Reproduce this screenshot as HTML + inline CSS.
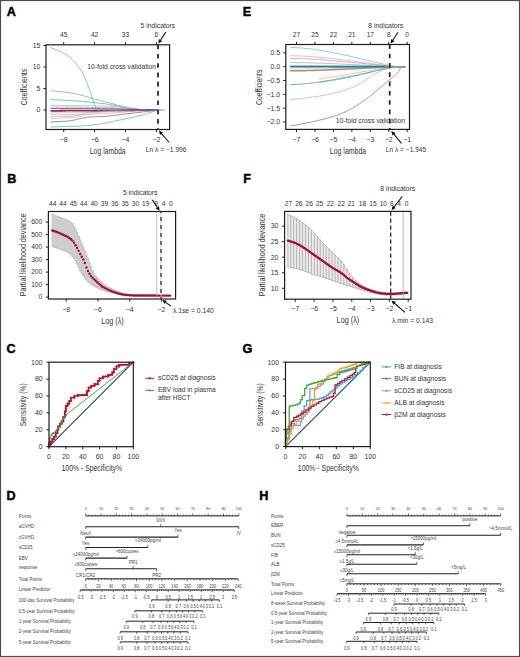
<!DOCTYPE html>
<html><head><meta charset="utf-8"><style>
html,body{margin:0;padding:0;background:#fff;}
svg{display:block;font-family:"Liberation Sans",sans-serif;}
</style></head><body>
<svg width="520" height="657" viewBox="0 0 520 657" fill="#333333">
<rect x="0" y="0" width="520" height="657" fill="#fff"/>
<text x="6.8" y="15.8" font-size="12.6" font-weight="bold" fill="#000" stroke="#000" stroke-width="0.45">A</text>
<polyline points="50.60,90.69 51.73,90.81 53.21,90.96 54.98,91.14 56.96,91.34 59.08,91.56 61.25,91.79 63.40,92.03 65.46,92.26 67.35,92.49 69.00,92.71 70.44,92.93 71.76,93.14 72.99,93.34 74.14,93.55 75.24,93.77 76.30,93.99 77.35,94.22 78.40,94.46 79.48,94.72 80.60,94.99 81.74,95.29 82.85,95.60 83.95,95.93 85.05,96.27 86.15,96.62 87.26,96.97 88.40,97.33 89.56,97.69 90.76,98.04 92.00,98.39 93.29,98.73 94.63,99.07 96.01,99.41 97.41,99.74 98.84,100.08 100.28,100.42 101.72,100.77 103.16,101.11 104.59,101.47 106.00,101.83 107.41,102.21 108.83,102.60 110.26,103.00 111.70,103.41 113.12,103.82 114.54,104.22 115.95,104.62 117.33,105.00 118.68,105.36 120.00,105.70 121.29,106.02 122.56,106.32 123.81,106.61 125.04,106.88 126.25,107.15 127.44,107.40 128.61,107.64 129.76,107.86 130.89,108.08 132.00,108.28 133.10,108.47 134.19,108.65 135.27,108.81 136.34,108.97 137.38,109.11 138.38,109.24 139.36,109.36 140.29,109.47 141.17,109.57 142.00,109.66 142.74,109.73 143.39,109.80 143.97,109.85 144.50,109.88 145.00,109.91 145.50,109.94 146.03,109.95 146.61,109.97 147.26,109.98 148.00,110.00 148.88,110.01 149.90,110.02 151.02,110.03 152.19,110.02 153.38,110.02 154.53,110.02 155.61,110.01 156.58,110.01 157.39,110.00 158.00,110.00" fill="none" stroke="#7aa8c0" stroke-width="0.8" />
<polyline points="50.60,99.59 52.41,99.69 54.75,99.81 57.54,99.95 60.66,100.11 64.01,100.29 67.49,100.48 70.99,100.67 74.41,100.88 77.65,101.10 80.60,101.31 83.38,101.54 86.16,101.79 88.92,102.05 91.64,102.32 94.30,102.59 96.88,102.87 99.36,103.16 101.72,103.44 103.94,103.71 106.00,103.98 107.87,104.24 109.56,104.51 111.10,104.78 112.52,105.05 113.84,105.32 115.09,105.58 116.31,105.84 117.51,106.09 118.73,106.33 120.00,106.56 121.29,106.78 122.56,107.00 123.81,107.21 125.04,107.42 126.25,107.62 127.44,107.81 128.61,107.99 129.76,108.17 130.89,108.34 132.00,108.50 133.10,108.65 134.19,108.79 135.27,108.93 136.34,109.05 137.38,109.17 138.38,109.29 139.36,109.39 140.29,109.49 141.17,109.58 142.00,109.66 142.74,109.73 143.39,109.78 143.97,109.83 144.50,109.87 145.00,109.90 145.50,109.93 146.03,109.95 146.61,109.97 147.26,109.98 148.00,110.00 148.88,110.01 149.90,110.02 151.02,110.03 152.19,110.02 153.38,110.02 154.53,110.02 155.61,110.01 156.58,110.01 157.39,110.00 158.00,110.00" fill="none" stroke="#4db3b3" stroke-width="0.8" />
<polyline points="50.60,105.31 54.06,105.36 58.72,105.41 64.29,105.47 70.52,105.54 77.11,105.61 83.80,105.70 90.31,105.79 96.36,105.90 101.68,106.01 106.00,106.13 109.39,106.27 112.19,106.42 114.50,106.58 116.41,106.76 118.03,106.94 119.44,107.12 120.74,107.31 122.04,107.50 123.43,107.68 125.00,107.85 126.69,108.02 128.37,108.20 130.01,108.38 131.62,108.56 133.19,108.74 134.70,108.92 136.14,109.08 137.51,109.23 138.80,109.37 140.00,109.48 141.07,109.58 142.02,109.67 142.85,109.74 143.61,109.80 144.31,109.84 144.99,109.88 145.67,109.92 146.38,109.95 147.15,109.97 148.00,110.00 148.96,110.02 150.03,110.03 151.17,110.04 152.34,110.04 153.50,110.03 154.62,110.02 155.67,110.02 156.61,110.01 157.40,110.00 158.00,110.00" fill="none" stroke="#a8b878" stroke-width="0.7" />
<polyline points="50.60,107.12 54.06,107.15 58.72,107.18 64.29,107.22 70.52,107.26 77.11,107.31 83.80,107.36 90.31,107.42 96.36,107.49 101.68,107.56 106.00,107.64 109.39,107.72 112.19,107.81 114.50,107.92 116.41,108.03 118.03,108.14 119.44,108.26 120.74,108.37 122.04,108.49 123.43,108.60 125.00,108.71 126.69,108.82 128.37,108.93 130.01,109.05 131.62,109.16 133.19,109.28 134.70,109.39 136.14,109.49 137.51,109.59 138.80,109.67 140.00,109.74 141.07,109.80 142.02,109.85 142.85,109.88 143.61,109.91 144.31,109.94 144.99,109.95 145.67,109.97 146.38,109.98 147.15,109.99 148.00,110.00 148.96,110.01 150.03,110.02 151.17,110.02 152.34,110.02 153.50,110.02 154.62,110.01 155.67,110.01 156.61,110.00 157.40,110.00 158.00,110.00" fill="none" stroke="#a0a0a0" stroke-width="0.7" />
<polyline points="50.60,108.50 54.04,108.51 58.64,108.52 64.14,108.53 70.28,108.54 76.80,108.55 83.44,108.57 89.94,108.60 96.04,108.63 101.48,108.66 106.00,108.71 109.71,108.77 112.95,108.83 115.79,108.91 118.29,109.00 120.53,109.08 122.56,109.17 124.45,109.26 126.28,109.34 128.11,109.42 130.00,109.48 131.87,109.54 133.61,109.60 135.22,109.65 136.74,109.70 138.19,109.74 139.58,109.78 140.93,109.82 142.27,109.86 143.62,109.89 145.00,109.91 146.44,109.94 147.94,109.95 149.46,109.97 150.97,109.98 152.44,109.98 153.83,109.99 155.12,109.99 156.26,109.99 157.24,110.00 158.00,110.00" fill="none" stroke="#4a5a80" stroke-width="0.8" />
<polyline points="50.60,112.80 53.63,112.76 57.63,112.71 62.40,112.66 67.73,112.60 73.42,112.54 79.27,112.47 85.05,112.40 90.57,112.32 95.62,112.23 100.00,112.15 103.83,112.06 107.40,111.96 110.74,111.85 113.88,111.74 116.84,111.63 119.65,111.51 122.35,111.40 124.95,111.29 127.49,111.18 130.00,111.08 132.46,110.97 134.83,110.87 137.11,110.77 139.30,110.67 141.38,110.57 143.34,110.47 145.20,110.38 146.93,110.30 148.53,110.23 150.00,110.17 151.32,110.12 152.50,110.09 153.53,110.06 154.45,110.04 155.25,110.03 155.95,110.02 156.57,110.02 157.10,110.01 157.58,110.01 158.00,110.00" fill="none" stroke="#f0b0c0" stroke-width="0.7" />
<polyline points="50.60,114.21 52.41,114.22 54.75,114.24 57.54,114.26 60.66,114.29 64.01,114.31 67.49,114.33 70.99,114.34 74.41,114.34 77.65,114.33 80.60,114.30 83.33,114.25 86.00,114.20 88.60,114.13 91.16,114.05 93.67,113.96 96.16,113.86 98.63,113.76 101.08,113.64 103.54,113.52 106.00,113.40 108.47,113.26 110.95,113.11 113.43,112.94 115.89,112.77 118.34,112.59 120.76,112.41 123.14,112.23 125.48,112.05 127.77,111.88 130.00,111.72 132.22,111.57 134.45,111.41 136.67,111.25 138.86,111.10 141.00,110.95 143.06,110.81 145.01,110.67 146.83,110.55 148.50,110.44 150.00,110.34 151.32,110.27 152.50,110.20 153.53,110.15 154.45,110.12 155.25,110.09 155.95,110.06 156.57,110.05 157.10,110.03 157.58,110.02 158.00,110.00" fill="none" stroke="#f0a0b8" stroke-width="0.8" />
<polyline points="50.60,116.32 52.10,116.30 54.09,116.29 56.48,116.28 59.14,116.27 61.97,116.25 64.87,116.22 67.70,116.16 70.38,116.08 72.78,115.96 74.80,115.81 76.47,115.60 77.93,115.34 79.21,115.04 80.35,114.72 81.39,114.37 82.37,114.02 83.32,113.68 84.29,113.35 85.30,113.05 86.40,112.80 87.55,112.57 88.70,112.36 89.84,112.16 90.98,111.98 92.12,111.81 93.26,111.65 94.41,111.50 95.56,111.36 96.73,111.24 97.90,111.12 98.96,111.01 99.84,110.93 100.61,110.85 101.36,110.79 102.17,110.74 103.12,110.70 104.30,110.65 105.78,110.61 107.66,110.57 110.00,110.52 113.01,110.46 116.73,110.41 120.96,110.35 125.53,110.30 130.26,110.24 134.96,110.20 139.47,110.15 143.60,110.11 147.17,110.07 150.00,110.04 152.13,110.02 153.78,110.01 155.00,110.00 155.89,109.99 156.50,109.99 156.91,109.99 157.20,110.00 157.42,110.00 157.67,110.00 158.00,110.00" fill="none" stroke="#70c090" stroke-width="0.7" />
<polyline points="50.60,118.60 52.10,118.53 54.09,118.44 56.48,118.34 59.14,118.22 61.97,118.09 64.87,117.95 67.70,117.80 70.38,117.65 72.78,117.48 74.80,117.31 76.49,117.13 77.98,116.93 79.32,116.72 80.52,116.50 81.61,116.28 82.62,116.05 83.58,115.81 84.51,115.58 85.44,115.35 86.40,115.12 87.35,114.88 88.25,114.64 89.10,114.39 89.91,114.14 90.69,113.89 91.44,113.64 92.19,113.40 92.92,113.18 93.66,112.98 94.40,112.80 95.11,112.64 95.76,112.50 96.37,112.38 96.96,112.28 97.55,112.18 98.17,112.09 98.85,112.00 99.59,111.92 100.44,111.82 101.40,111.72 102.40,111.61 103.36,111.50 104.32,111.38 105.34,111.27 106.45,111.15 107.70,111.04 109.14,110.93 110.80,110.83 112.74,110.73 115.00,110.64 117.75,110.56 121.06,110.49 124.78,110.41 128.76,110.34 132.85,110.28 136.92,110.22 140.81,110.17 144.39,110.12 147.50,110.08 150.00,110.04 151.93,110.02 153.46,110.00 154.64,109.99 155.53,109.98 156.19,109.98 156.67,109.99 157.04,109.99 157.34,110.00 157.65,110.00 158.00,110.00" fill="none" stroke="#90c890" stroke-width="0.7" />
<polyline points="50.60,122.08 51.73,122.02 53.23,121.94 55.01,121.84 57.00,121.74 59.13,121.62 61.32,121.50 63.48,121.36 65.55,121.21 67.45,121.05 69.10,120.88 70.53,120.69 71.85,120.48 73.06,120.26 74.20,120.02 75.29,119.77 76.34,119.52 77.37,119.28 78.41,119.04 79.48,118.81 80.60,118.60 81.74,118.40 82.86,118.20 83.97,118.01 85.08,117.82 86.20,117.64 87.33,117.46 88.47,117.30 89.65,117.15 90.85,117.01 92.10,116.88 93.35,116.78 94.56,116.72 95.78,116.68 97.00,116.65 98.27,116.62 99.60,116.60 101.01,116.55 102.54,116.48 104.19,116.38 106.00,116.23 108.01,116.04 110.22,115.81 112.58,115.54 115.06,115.25 117.62,114.94 120.20,114.63 122.78,114.31 125.29,114.01 127.72,113.71 130.00,113.44 132.22,113.18 134.45,112.92 136.67,112.66 138.86,112.40 141.00,112.15 143.06,111.91 145.01,111.68 146.83,111.46 148.50,111.26 150.00,111.08 151.32,110.91 152.50,110.76 153.53,110.62 154.45,110.50 155.25,110.39 155.95,110.29 156.57,110.20 157.10,110.13 157.58,110.06 158.00,110.00" fill="none" stroke="#905060" stroke-width="0.7" />
<polyline points="50.60,126.90 52.46,126.85 54.93,126.80 57.89,126.73 61.19,126.66 64.70,126.58 68.28,126.49 71.80,126.40 75.12,126.30 78.10,126.19 80.60,126.08 82.69,125.96 84.53,125.84 86.17,125.70 87.65,125.56 88.99,125.41 90.23,125.25 91.42,125.10 92.59,124.94 93.77,124.78 95.00,124.62 96.14,124.48 97.08,124.38 97.89,124.29 98.64,124.20 99.40,124.10 100.25,123.97 101.26,123.80 102.51,123.58 104.06,123.28 106.00,122.90 108.44,122.41 111.38,121.80 114.69,121.11 118.25,120.35 121.94,119.57 125.63,118.77 129.21,117.99 132.54,117.26 135.52,116.59 138.00,116.02 140.03,115.53 141.74,115.09 143.20,114.70 144.43,114.34 145.50,114.02 146.45,113.71 147.32,113.42 148.18,113.14 149.05,112.86 150.00,112.58 150.98,112.29 151.92,112.00 152.82,111.72 153.68,111.45 154.50,111.20 155.28,110.95 156.02,110.73 156.72,110.53 157.38,110.36 158.00,110.22 158.58,110.11 159.12,110.03 159.62,109.99 160.08,109.96 160.50,109.96 160.88,109.97 161.22,109.98 161.52,109.99 161.78,110.00 162.00,110.00" fill="none" stroke="#5ab8b8" stroke-width="0.8" />
<polyline points="50.60,110.82 53.42,110.80 57.12,110.78 61.53,110.75 66.46,110.72 71.74,110.68 77.18,110.65 82.60,110.61 87.84,110.58 92.69,110.55 97.00,110.52 100.90,110.49 104.67,110.46 108.29,110.44 111.79,110.41 115.15,110.38 118.38,110.36 121.48,110.33 124.45,110.31 127.29,110.28 130.00,110.26 132.58,110.23 135.02,110.20 137.33,110.17 139.51,110.14 141.56,110.11 143.49,110.08 145.29,110.06 146.98,110.04 148.54,110.02 150.00,110.00 151.32,109.99 152.50,109.98 153.53,109.98 154.45,109.98 155.25,109.98 155.95,109.99 156.57,109.99 157.10,110.00 157.58,110.00 158.00,110.00" fill="none" stroke="#9c1c5c" stroke-width="1.8" />
<line x1="154.00" y1="110.00" x2="165.70" y2="110.00" stroke="#a0a0a0" stroke-width="0.8" />
<polyline points="50.40,47.65 50.86,47.83 51.44,48.05 52.12,48.30 52.87,48.57 53.70,48.88 54.57,49.21 55.49,49.56 56.41,49.93 57.35,50.31 58.27,50.71 59.16,51.11 60.00,51.52 60.83,51.94 61.68,52.38 62.54,52.84 63.41,53.32 64.29,53.81 65.16,54.32 66.03,54.83 66.87,55.36 67.70,55.89 68.50,56.44 69.27,56.99 70.00,57.54 70.69,58.10 71.36,58.68 72.00,59.27 72.61,59.87 73.21,60.47 73.78,61.09 74.34,61.71 74.89,62.33 75.43,62.96 75.95,63.59 76.48,64.22 77.00,64.85 77.51,65.47 78.02,66.09 78.50,66.69 78.98,67.30 79.45,67.91 79.91,68.53 80.36,69.16 80.80,69.80 81.23,70.46 81.66,71.15 82.08,71.85 82.50,72.59 82.91,73.37 83.33,74.18 83.73,75.03 84.13,75.90 84.52,76.79 84.91,77.70 85.28,78.60 85.65,79.50 86.00,80.39 86.35,81.26 86.68,82.10 87.00,82.91 87.30,83.69 87.59,84.44 87.86,85.18 88.11,85.90 88.36,86.62 88.59,87.32 88.83,88.01 89.06,88.71 89.29,89.40 89.52,90.10 89.75,90.80 90.00,91.51 90.25,92.24 90.51,92.98 90.77,93.74 91.04,94.50 91.30,95.27 91.56,96.02 91.82,96.77 92.07,97.50 92.32,98.20 92.56,98.88 92.79,99.51 93.00,100.11 93.20,100.66 93.39,101.17 93.56,101.65 93.72,102.10 93.88,102.53 94.03,102.93 94.18,103.32 94.33,103.71 94.49,104.09 94.65,104.47 94.82,104.87 95.00,105.27 95.19,105.69 95.39,106.13 95.59,106.57 95.80,107.01 96.01,107.46 96.22,107.89 96.43,108.31 96.65,108.71 96.86,109.08 97.08,109.43 97.29,109.74 97.50,110.00 97.70,110.22 97.88,110.41 98.04,110.56 98.20,110.68 98.36,110.77 98.53,110.85 98.71,110.90 98.91,110.95 99.13,110.98 99.38,111.01 99.67,111.04 100.00,111.08 100.35,111.10 100.70,111.12 101.07,111.12 101.44,111.11 101.85,111.09 102.28,111.06 102.76,111.03 103.28,111.00 103.86,110.96 104.50,110.92 105.21,110.89 106.00,110.86 106.87,110.83 107.80,110.80 108.80,110.76 109.85,110.72 110.96,110.69 112.12,110.65 113.34,110.60 114.59,110.57 115.89,110.53 117.23,110.49 118.60,110.46 120.00,110.43 121.46,110.40 123.01,110.38 124.62,110.36 126.30,110.34 128.01,110.33 129.75,110.31 131.50,110.29 133.26,110.28 135.00,110.26 136.71,110.25 138.38,110.23 140.00,110.22 141.63,110.20 143.32,110.18 145.06,110.16 146.81,110.14 148.55,110.11 150.25,110.09 151.88,110.07 153.41,110.06 154.81,110.04 156.06,110.02 157.14,110.01 158.00,110.00" fill="none" stroke="#4fb3b8" stroke-width="0.8" />
<rect x="46.00" y="44.80" width="123.60" height="84.70" fill="none" stroke="#1e1e1e" stroke-width="1.2"/>
<line x1="43.40" y1="110.00" x2="46.00" y2="110.00" stroke="#1e1e1e" stroke-width="1" />
<text x="40.30" y="112.37" font-size="6.9" text-anchor="end">0</text>
<line x1="43.40" y1="88.50" x2="46.00" y2="88.50" stroke="#1e1e1e" stroke-width="1" />
<text x="40.30" y="90.87" font-size="6.9" text-anchor="end">5</text>
<line x1="43.40" y1="67.00" x2="46.00" y2="67.00" stroke="#1e1e1e" stroke-width="1" />
<text x="40.30" y="69.37" font-size="6.9" text-anchor="end">10</text>
<line x1="43.40" y1="45.50" x2="46.00" y2="45.50" stroke="#1e1e1e" stroke-width="1" />
<text x="40.30" y="47.87" font-size="6.9" text-anchor="end">15</text>
<line x1="63.70" y1="129.50" x2="63.70" y2="132.10" stroke="#1e1e1e" stroke-width="1" />
<text x="63.70" y="142.07" font-size="6.9" text-anchor="middle">−8</text>
<line x1="63.70" y1="42.20" x2="63.70" y2="44.80" stroke="#1e1e1e" stroke-width="1" />
<text x="63.70" y="36.87" font-size="6.6" text-anchor="middle">45</text>
<line x1="94.60" y1="129.50" x2="94.60" y2="132.10" stroke="#1e1e1e" stroke-width="1" />
<text x="94.60" y="142.07" font-size="6.9" text-anchor="middle">−6</text>
<line x1="94.60" y1="42.20" x2="94.60" y2="44.80" stroke="#1e1e1e" stroke-width="1" />
<text x="94.60" y="36.87" font-size="6.6" text-anchor="middle">42</text>
<line x1="125.50" y1="129.50" x2="125.50" y2="132.10" stroke="#1e1e1e" stroke-width="1" />
<text x="125.50" y="142.07" font-size="6.9" text-anchor="middle">−4</text>
<line x1="125.50" y1="42.20" x2="125.50" y2="44.80" stroke="#1e1e1e" stroke-width="1" />
<text x="125.50" y="36.87" font-size="6.6" text-anchor="middle">33</text>
<line x1="156.40" y1="129.50" x2="156.40" y2="132.10" stroke="#1e1e1e" stroke-width="1" />
<text x="156.40" y="142.07" font-size="6.9" text-anchor="middle">−2</text>
<line x1="156.40" y1="42.20" x2="156.40" y2="44.80" stroke="#1e1e1e" stroke-width="1" />
<text x="156.40" y="36.87" font-size="6.6" text-anchor="middle">6</text>
<line x1="158.00" y1="44.60" x2="158.00" y2="129.50" stroke="#1a1a1a" stroke-width="1.7" stroke-dasharray="4.65,4.65"/>
<text x="87.20" y="68.71" font-size="7.0" textLength="68.80" lengthAdjust="spacingAndGlyphs">10-fold cross validation</text>
<text x="140.60" y="27.91" font-size="7.0" textLength="34.60" lengthAdjust="spacingAndGlyphs">5 indicators</text>
<line x1="165.80" y1="32.10" x2="160.32" y2="40.50" stroke="#111" stroke-width="1.05" />
<polygon points="158.30,43.60 158.92,38.99 162.27,41.17" fill="#111" stroke="none" stroke-width="0.5" />
<text x="145.80" y="151.87" font-size="6.6" textLength="40.70" lengthAdjust="spacingAndGlyphs">Ln λ = −1.996</text>
<line x1="169.20" y1="142.50" x2="161.23" y2="133.39" stroke="#111" stroke-width="1.05" />
<polygon points="158.80,130.60 163.07,132.45 160.06,135.08" fill="#111" stroke="none" stroke-width="0.5" />
<text x="23.80" y="90.25" font-size="9.3" text-anchor="middle" textLength="36.50" lengthAdjust="spacingAndGlyphs" transform="rotate(-90 23.80 87.00)">Coefficients</text>
<text x="107.75" y="154.00" font-size="9.3" text-anchor="middle" textLength="35.90" lengthAdjust="spacingAndGlyphs">Log lambda</text>
<text x="7.3" y="182.7" font-size="12.6" font-weight="bold" fill="#000" stroke="#000" stroke-width="0.45">B</text>
<polygon points="51.52,214.35 53.07,214.35 53.07,214.94 54.62,214.94 54.62,215.53 56.17,215.53 56.17,216.11 57.72,216.11 57.73,216.70 59.27,216.70 59.27,217.29 60.82,217.29 60.82,217.89 62.37,217.89 62.38,218.47 63.92,218.47 63.93,219.03 65.48,219.03 65.47,219.60 67.03,219.60 67.02,220.21 68.58,220.21 68.57,220.94 70.12,220.94 70.12,222.04 71.68,222.04 71.67,223.60 73.23,223.60 73.22,226.12 74.78,226.12 74.77,229.14 76.33,229.14 76.32,232.81 77.88,232.81 77.88,236.24 79.43,236.24 79.42,239.78 80.98,239.78 80.97,243.17 82.53,243.17 82.52,246.93 84.08,246.93 84.07,250.67 85.62,250.67 85.62,254.56 87.18,254.56 87.17,258.36 88.72,258.36 88.72,262.44 90.28,262.44 90.27,266.68 91.83,266.68 91.82,270.41 93.38,270.41 93.38,273.37 94.93,273.37 94.92,275.80 96.47,275.80 96.47,277.82 98.03,277.82 98.02,279.60 99.58,279.60 99.57,281.16 101.12,281.16 101.12,282.55 102.68,282.55 102.67,283.78 104.22,283.78 104.22,284.88 105.78,284.88 105.77,285.88 107.33,285.88 107.32,286.80 108.88,286.80 108.88,287.66 110.43,287.66 110.42,288.47 111.97,288.47 111.97,289.24 113.53,289.24 113.52,289.96 115.08,289.96 115.07,290.63 116.62,290.63 116.62,291.24 118.18,291.24 118.17,291.80 119.73,291.80 119.72,292.30 121.28,292.30 121.27,292.76 122.83,292.76 122.82,293.16 124.38,293.16 124.38,293.50 125.93,293.50 125.92,293.81 127.48,293.81 127.47,294.08 129.03,294.08 129.03,294.32 130.58,294.32 130.57,294.53 132.12,294.53 132.12,294.71 133.68,294.71 133.67,294.86 135.22,294.86 135.22,294.98 136.78,294.98 136.78,295.07 138.33,295.07 138.32,295.15 139.88,295.15 139.88,295.21 141.43,295.21 141.42,295.27 142.97,295.27 142.97,295.31 144.53,295.31 144.53,295.36 146.08,295.36 146.07,295.38 147.62,295.38 147.62,295.41 149.18,295.41 149.17,295.43 150.72,295.43 150.72,295.44 152.28,295.44 152.28,295.45 153.83,295.45 153.82,295.46 155.38,295.46 155.38,295.47 156.93,295.47 156.92,295.47 158.47,295.47 158.47,295.48 160.03,295.48 160.03,295.48 161.58,295.48 161.57,295.48 163.12,295.48 163.12,295.48 164.68,295.48 164.67,295.47 166.22,295.47 166.22,295.47 167.78,295.47 167.78,295.47 169.33,295.47 169.32,295.47 170.88,295.47 170.88,295.73 169.32,295.73 169.33,295.73 167.78,295.73 167.78,295.73 166.22,295.73 166.22,295.74 164.67,295.74 164.68,295.74 163.12,295.74 163.12,295.75 161.57,295.75 161.58,295.75 160.03,295.75 160.03,295.76 158.47,295.76 158.47,295.76 156.92,295.76 156.93,295.76 155.38,295.76 155.38,295.76 153.82,295.76 153.83,295.76 152.28,295.76 152.28,295.76 150.72,295.76 150.72,295.76 149.17,295.76 149.18,295.75 147.62,295.75 147.62,295.74 146.07,295.74 146.08,295.73 144.53,295.73 144.53,295.71 142.97,295.71 142.97,295.68 141.42,295.68 141.43,295.66 139.88,295.66 139.88,295.62 138.32,295.62 138.33,295.58 136.78,295.58 136.78,295.53 135.22,295.53 135.22,295.47 133.67,295.47 133.68,295.39 132.12,295.39 132.12,295.31 130.57,295.31 130.58,295.21 129.03,295.21 129.03,295.10 127.47,295.10 127.48,294.99 125.92,294.99 125.93,294.85 124.38,294.85 124.38,294.70 122.82,294.70 122.83,294.53 121.27,294.53 121.28,294.34 119.72,294.34 119.73,294.12 118.17,294.12 118.18,293.87 116.62,293.87 116.62,293.61 115.07,293.61 115.08,293.33 113.52,293.33 113.53,293.01 111.97,293.01 111.97,292.68 110.42,292.68 110.43,292.32 108.88,292.32 108.88,291.92 107.32,291.92 107.33,291.49 105.77,291.49 105.78,291.01 104.22,291.01 104.22,290.48 102.67,290.48 102.68,289.91 101.12,289.91 101.12,289.29 99.57,289.29 99.58,288.62 98.02,288.62 98.03,287.89 96.47,287.89 96.47,287.11 94.92,287.11 94.93,286.27 93.38,286.27 93.38,285.33 91.82,285.33 91.83,284.29 90.27,284.29 90.28,283.09 88.72,283.09 88.72,281.68 87.17,281.68 87.18,279.98 85.62,279.98 85.62,278.05 84.07,278.05 84.08,275.94 82.52,275.94 82.53,273.54 80.97,273.54 80.98,270.75 79.42,270.75 79.43,267.62 77.88,267.62 77.88,264.14 76.32,264.14 76.33,261.04 74.77,261.04 74.78,258.55 73.22,258.55 73.23,256.41 71.67,256.41 71.68,254.60 70.12,254.60 70.12,253.56 68.57,253.56 68.58,252.70 67.02,252.70 67.03,251.89 65.47,251.89 65.48,251.13 63.93,251.13 63.92,250.42 62.38,250.42 62.37,249.77 60.82,249.77 60.82,249.19 59.27,249.19 59.27,248.66 57.73,248.66 57.72,248.16 56.17,248.16 56.17,247.68 54.62,247.68 54.62,247.20 53.07,247.20 53.07,246.73 51.52,246.73" fill="#cdcdcd" stroke="none" stroke-width="0.5" />
<polyline points="51.52,214.35 53.07,214.35 53.07,214.94 54.62,214.94 54.62,215.53 56.17,215.53 56.17,216.11 57.72,216.11 57.73,216.70 59.27,216.70 59.27,217.29 60.82,217.29 60.82,217.89 62.37,217.89 62.38,218.47 63.92,218.47 63.93,219.03 65.48,219.03 65.47,219.60 67.03,219.60 67.02,220.21 68.58,220.21 68.57,220.94 70.12,220.94 70.12,222.04 71.68,222.04 71.67,223.60 73.23,223.60 73.22,226.12 74.78,226.12 74.77,229.14 76.33,229.14 76.32,232.81 77.88,232.81 77.88,236.24 79.43,236.24 79.42,239.78 80.98,239.78 80.97,243.17 82.53,243.17 82.52,246.93 84.08,246.93 84.07,250.67 85.62,250.67 85.62,254.56 87.18,254.56 87.17,258.36 88.72,258.36 88.72,262.44 90.28,262.44 90.27,266.68 91.83,266.68 91.82,270.41 93.38,270.41 93.38,273.37 94.93,273.37 94.92,275.80 96.47,275.80 96.47,277.82 98.03,277.82 98.02,279.60 99.58,279.60 99.57,281.16 101.12,281.16 101.12,282.55 102.68,282.55 102.67,283.78 104.22,283.78 104.22,284.88 105.78,284.88 105.77,285.88 107.33,285.88 107.32,286.80 108.88,286.80 108.88,287.66 110.43,287.66 110.42,288.47 111.97,288.47 111.97,289.24 113.53,289.24 113.52,289.96 115.08,289.96 115.07,290.63 116.62,290.63 116.62,291.24 118.18,291.24 118.17,291.80 119.73,291.80 119.72,292.30 121.28,292.30 121.27,292.76 122.83,292.76 122.82,293.16 124.38,293.16 124.38,293.50 125.93,293.50 125.92,293.81 127.48,293.81 127.47,294.08 129.03,294.08 129.03,294.32 130.58,294.32 130.57,294.53 132.12,294.53 132.12,294.71 133.68,294.71 133.67,294.86 135.22,294.86 135.22,294.98 136.78,294.98 136.78,295.07 138.33,295.07 138.32,295.15 139.88,295.15 139.88,295.21 141.43,295.21 141.42,295.27 142.97,295.27 142.97,295.31 144.53,295.31 144.53,295.36 146.08,295.36 146.07,295.38 147.62,295.38 147.62,295.41 149.18,295.41 149.17,295.43 150.72,295.43 150.72,295.44 152.28,295.44 152.28,295.45 153.83,295.45 153.82,295.46 155.38,295.46 155.38,295.47 156.93,295.47 156.92,295.47 158.47,295.47 158.47,295.48 160.03,295.48 160.03,295.48 161.58,295.48 161.57,295.48 163.12,295.48 163.12,295.48 164.68,295.48 164.67,295.47 166.22,295.47 166.22,295.47 167.78,295.47 167.78,295.47 169.33,295.47 169.32,295.47 170.88,295.47" fill="none" stroke="#b0b0b0" stroke-width="0.6" />
<polyline points="51.52,246.73 53.07,246.73 53.07,247.20 54.62,247.20 54.62,247.68 56.17,247.68 56.17,248.16 57.72,248.16 57.73,248.66 59.27,248.66 59.27,249.19 60.82,249.19 60.82,249.77 62.37,249.77 62.38,250.42 63.92,250.42 63.93,251.13 65.48,251.13 65.47,251.89 67.03,251.89 67.02,252.70 68.58,252.70 68.57,253.56 70.12,253.56 70.12,254.60 71.68,254.60 71.67,256.41 73.23,256.41 73.22,258.55 74.78,258.55 74.77,261.04 76.33,261.04 76.32,264.14 77.88,264.14 77.88,267.62 79.43,267.62 79.42,270.75 80.98,270.75 80.97,273.54 82.53,273.54 82.52,275.94 84.08,275.94 84.07,278.05 85.62,278.05 85.62,279.98 87.18,279.98 87.17,281.68 88.72,281.68 88.72,283.09 90.28,283.09 90.27,284.29 91.83,284.29 91.82,285.33 93.38,285.33 93.38,286.27 94.93,286.27 94.92,287.11 96.47,287.11 96.47,287.89 98.03,287.89 98.02,288.62 99.58,288.62 99.57,289.29 101.12,289.29 101.12,289.91 102.68,289.91 102.67,290.48 104.22,290.48 104.22,291.01 105.78,291.01 105.77,291.49 107.33,291.49 107.32,291.92 108.88,291.92 108.88,292.32 110.43,292.32 110.42,292.68 111.97,292.68 111.97,293.01 113.53,293.01 113.52,293.33 115.08,293.33 115.07,293.61 116.62,293.61 116.62,293.87 118.18,293.87 118.17,294.12 119.73,294.12 119.72,294.34 121.28,294.34 121.27,294.53 122.83,294.53 122.82,294.70 124.38,294.70 124.38,294.85 125.93,294.85 125.92,294.99 127.48,294.99 127.47,295.10 129.03,295.10 129.03,295.21 130.58,295.21 130.57,295.31 132.12,295.31 132.12,295.39 133.68,295.39 133.67,295.47 135.22,295.47 135.22,295.53 136.78,295.53 136.78,295.58 138.33,295.58 138.32,295.62 139.88,295.62 139.88,295.66 141.43,295.66 141.42,295.68 142.97,295.68 142.97,295.71 144.53,295.71 144.53,295.73 146.08,295.73 146.07,295.74 147.62,295.74 147.62,295.75 149.18,295.75 149.17,295.76 150.72,295.76 150.72,295.76 152.28,295.76 152.28,295.76 153.83,295.76 153.82,295.76 155.38,295.76 155.38,295.76 156.93,295.76 156.92,295.76 158.47,295.76 158.47,295.76 160.03,295.76 160.03,295.75 161.58,295.75 161.57,295.75 163.12,295.75 163.12,295.74 164.68,295.74 164.67,295.74 166.22,295.74 166.22,295.73 167.78,295.73 167.78,295.73 169.33,295.73 169.32,295.73 170.88,295.73" fill="none" stroke="#b0b0b0" stroke-width="0.6" />
<circle cx="52.30" cy="230.48" r="1.2" fill="#a50d35"/>
<circle cx="53.85" cy="230.99" r="1.2" fill="#a50d35"/>
<circle cx="55.40" cy="231.52" r="1.2" fill="#a50d35"/>
<circle cx="56.95" cy="232.07" r="1.2" fill="#a50d35"/>
<circle cx="58.50" cy="232.67" r="1.2" fill="#a50d35"/>
<circle cx="60.05" cy="233.34" r="1.2" fill="#a50d35"/>
<circle cx="61.60" cy="234.03" r="1.2" fill="#a50d35"/>
<circle cx="63.15" cy="234.75" r="1.2" fill="#a50d35"/>
<circle cx="64.70" cy="235.45" r="1.2" fill="#a50d35"/>
<circle cx="66.25" cy="236.16" r="1.2" fill="#a50d35"/>
<circle cx="67.80" cy="236.94" r="1.2" fill="#a50d35"/>
<circle cx="69.35" cy="237.93" r="1.2" fill="#a50d35"/>
<circle cx="70.90" cy="239.19" r="1.2" fill="#a50d35"/>
<circle cx="72.45" cy="240.62" r="1.2" fill="#a50d35"/>
<circle cx="74.00" cy="242.65" r="1.2" fill="#a50d35"/>
<circle cx="75.55" cy="245.31" r="1.2" fill="#a50d35"/>
<circle cx="77.10" cy="247.99" r="1.2" fill="#a50d35"/>
<circle cx="78.65" cy="250.84" r="1.2" fill="#a50d35"/>
<circle cx="80.20" cy="254.01" r="1.2" fill="#a50d35"/>
<circle cx="81.75" cy="256.82" r="1.2" fill="#a50d35"/>
<circle cx="83.30" cy="259.41" r="1.2" fill="#a50d35"/>
<circle cx="84.85" cy="262.99" r="1.2" fill="#a50d35"/>
<circle cx="86.40" cy="267.40" r="1.2" fill="#a50d35"/>
<circle cx="87.95" cy="270.95" r="1.2" fill="#a50d35"/>
<circle cx="89.50" cy="273.76" r="1.2" fill="#a50d35"/>
<circle cx="91.05" cy="276.02" r="1.2" fill="#a50d35"/>
<circle cx="92.60" cy="277.82" r="1.2" fill="#a50d35"/>
<circle cx="94.15" cy="279.35" r="1.2" fill="#a50d35"/>
<circle cx="95.70" cy="280.77" r="1.2" fill="#a50d35"/>
<circle cx="97.25" cy="282.18" r="1.2" fill="#a50d35"/>
<circle cx="98.80" cy="283.64" r="1.2" fill="#a50d35"/>
<circle cx="100.35" cy="285.02" r="1.2" fill="#a50d35"/>
<circle cx="101.90" cy="286.19" r="1.2" fill="#a50d35"/>
<circle cx="103.45" cy="287.17" r="1.2" fill="#a50d35"/>
<circle cx="105.00" cy="288.05" r="1.2" fill="#a50d35"/>
<circle cx="106.55" cy="288.86" r="1.2" fill="#a50d35"/>
<circle cx="108.10" cy="289.62" r="1.2" fill="#a50d35"/>
<circle cx="109.65" cy="290.34" r="1.2" fill="#a50d35"/>
<circle cx="111.20" cy="291.02" r="1.2" fill="#a50d35"/>
<circle cx="112.75" cy="291.65" r="1.2" fill="#a50d35"/>
<circle cx="114.30" cy="292.22" r="1.2" fill="#a50d35"/>
<circle cx="115.85" cy="292.75" r="1.2" fill="#a50d35"/>
<circle cx="117.40" cy="293.23" r="1.2" fill="#a50d35"/>
<circle cx="118.95" cy="293.66" r="1.2" fill="#a50d35"/>
<circle cx="120.50" cy="294.04" r="1.2" fill="#a50d35"/>
<circle cx="122.05" cy="294.38" r="1.2" fill="#a50d35"/>
<circle cx="123.60" cy="294.66" r="1.2" fill="#a50d35"/>
<circle cx="125.15" cy="294.87" r="1.2" fill="#a50d35"/>
<circle cx="126.70" cy="295.04" r="1.2" fill="#a50d35"/>
<circle cx="128.25" cy="295.16" r="1.2" fill="#a50d35"/>
<circle cx="129.80" cy="295.26" r="1.2" fill="#a50d35"/>
<circle cx="131.35" cy="295.34" r="1.2" fill="#a50d35"/>
<circle cx="132.90" cy="295.41" r="1.2" fill="#a50d35"/>
<circle cx="134.45" cy="295.46" r="1.2" fill="#a50d35"/>
<circle cx="136.00" cy="295.49" r="1.2" fill="#a50d35"/>
<circle cx="137.55" cy="295.50" r="1.2" fill="#a50d35"/>
<circle cx="139.10" cy="295.51" r="1.2" fill="#a50d35"/>
<circle cx="140.65" cy="295.52" r="1.2" fill="#a50d35"/>
<circle cx="142.20" cy="295.52" r="1.2" fill="#a50d35"/>
<circle cx="143.75" cy="295.53" r="1.2" fill="#a50d35"/>
<circle cx="145.30" cy="295.54" r="1.2" fill="#a50d35"/>
<circle cx="146.85" cy="295.55" r="1.2" fill="#a50d35"/>
<circle cx="148.40" cy="295.55" r="1.2" fill="#a50d35"/>
<circle cx="149.95" cy="295.56" r="1.2" fill="#a50d35"/>
<circle cx="151.50" cy="295.56" r="1.2" fill="#a50d35"/>
<circle cx="153.05" cy="295.57" r="1.2" fill="#a50d35"/>
<circle cx="154.60" cy="295.57" r="1.2" fill="#a50d35"/>
<circle cx="156.15" cy="295.57" r="1.2" fill="#a50d35"/>
<circle cx="157.70" cy="295.58" r="1.2" fill="#a50d35"/>
<circle cx="159.25" cy="295.58" r="1.2" fill="#a50d35"/>
<circle cx="160.80" cy="295.58" r="1.2" fill="#a50d35"/>
<circle cx="162.35" cy="295.59" r="1.2" fill="#a50d35"/>
<circle cx="163.90" cy="295.59" r="1.2" fill="#a50d35"/>
<circle cx="165.45" cy="295.59" r="1.2" fill="#a50d35"/>
<circle cx="167.00" cy="295.59" r="1.2" fill="#a50d35"/>
<circle cx="168.55" cy="295.60" r="1.2" fill="#a50d35"/>
<circle cx="170.10" cy="295.60" r="1.2" fill="#a50d35"/>
<line x1="156.70" y1="211.50" x2="156.70" y2="299.00" stroke="#a8a8a8" stroke-width="0.7" />
<line x1="161.00" y1="211.50" x2="161.00" y2="299.00" stroke="#c8c8c8" stroke-width="0.9" />
<line x1="161.00" y1="211.50" x2="161.00" y2="299.00" stroke="#3a3a3a" stroke-width="1.4" stroke-dasharray="4,4" stroke-dashoffset="2.4"/>
<rect x="48.40" y="211.50" width="127.20" height="87.50" fill="none" stroke="#1e1e1e" stroke-width="1.2"/>
<line x1="45.80" y1="297.10" x2="48.40" y2="297.10" stroke="#1e1e1e" stroke-width="1" />
<text x="42.20" y="299.37" font-size="6.6" text-anchor="end">0</text>
<line x1="45.80" y1="284.60" x2="48.40" y2="284.60" stroke="#1e1e1e" stroke-width="1" />
<text x="42.20" y="286.87" font-size="6.6" text-anchor="end">100</text>
<line x1="45.80" y1="272.10" x2="48.40" y2="272.10" stroke="#1e1e1e" stroke-width="1" />
<text x="42.20" y="274.37" font-size="6.6" text-anchor="end">200</text>
<line x1="45.80" y1="259.60" x2="48.40" y2="259.60" stroke="#1e1e1e" stroke-width="1" />
<text x="42.20" y="261.87" font-size="6.6" text-anchor="end">300</text>
<line x1="45.80" y1="247.10" x2="48.40" y2="247.10" stroke="#1e1e1e" stroke-width="1" />
<text x="42.20" y="249.37" font-size="6.6" text-anchor="end">400</text>
<line x1="45.80" y1="234.60" x2="48.40" y2="234.60" stroke="#1e1e1e" stroke-width="1" />
<text x="42.20" y="236.87" font-size="6.6" text-anchor="end">500</text>
<line x1="45.80" y1="222.10" x2="48.40" y2="222.10" stroke="#1e1e1e" stroke-width="1" />
<text x="42.20" y="224.37" font-size="6.6" text-anchor="end">600</text>
<line x1="66.20" y1="299.00" x2="66.20" y2="301.60" stroke="#1e1e1e" stroke-width="1" />
<text x="66.20" y="311.67" font-size="6.9" text-anchor="middle">−8</text>
<line x1="97.94" y1="299.00" x2="97.94" y2="301.60" stroke="#1e1e1e" stroke-width="1" />
<text x="97.94" y="311.67" font-size="6.9" text-anchor="middle">−6</text>
<line x1="129.68" y1="299.00" x2="129.68" y2="301.60" stroke="#1e1e1e" stroke-width="1" />
<text x="129.68" y="311.67" font-size="6.9" text-anchor="middle">−4</text>
<line x1="161.42" y1="299.00" x2="161.42" y2="301.60" stroke="#1e1e1e" stroke-width="1" />
<text x="161.42" y="311.67" font-size="6.9" text-anchor="middle">−2</text>
<text x="52.70" y="205.57" font-size="6.6" text-anchor="middle">44</text>
<text x="63.04" y="205.57" font-size="6.6" text-anchor="middle">44</text>
<text x="73.38" y="205.57" font-size="6.6" text-anchor="middle">45</text>
<text x="83.72" y="205.57" font-size="6.6" text-anchor="middle">44</text>
<text x="94.06" y="205.57" font-size="6.6" text-anchor="middle">40</text>
<text x="104.40" y="205.57" font-size="6.6" text-anchor="middle">39</text>
<text x="114.74" y="205.57" font-size="6.6" text-anchor="middle">36</text>
<text x="125.08" y="205.57" font-size="6.6" text-anchor="middle">35</text>
<text x="135.42" y="205.57" font-size="6.6" text-anchor="middle">30</text>
<text x="145.76" y="205.57" font-size="6.6" text-anchor="middle">19</text>
<text x="156.10" y="205.57" font-size="6.6" text-anchor="middle">9</text>
<text x="163.50" y="205.57" font-size="6.6" text-anchor="middle">4</text>
<text x="170.80" y="205.57" font-size="6.6" text-anchor="middle">0</text>
<text x="122.90" y="194.77" font-size="6.6" textLength="34.60" lengthAdjust="spacingAndGlyphs">5 indicators</text>
<line x1="152.30" y1="199.90" x2="157.54" y2="207.73" stroke="#111" stroke-width="1.05" />
<polygon points="159.60,210.80 155.60,208.42 158.92,206.20" fill="#111" stroke="none" stroke-width="0.5" />
<text x="172.90" y="313.40" font-size="6.4" textLength="41.00" lengthAdjust="spacingAndGlyphs">λ.1se = 0.140</text>
<line x1="170.80" y1="306.00" x2="165.32" y2="302.13" stroke="#111" stroke-width="1.05" />
<polygon points="162.30,300.00 166.88,300.79 164.58,304.06" fill="#111" stroke="none" stroke-width="0.5" />
<text x="23.00" y="258.05" font-size="9.0" text-anchor="middle" textLength="82.90" lengthAdjust="spacingAndGlyphs" transform="rotate(-90 23.00 254.90)">Partial likelihood deviance</text>
<text x="112.50" y="323.80" font-size="9.5" text-anchor="middle" textLength="22.60" lengthAdjust="spacingAndGlyphs">Log (λ)</text>
<text x="242.8" y="15.8" font-size="12.6" font-weight="bold" fill="#000" stroke="#000" stroke-width="0.45">E</text>
<polyline points="290.20,47.35 290.91,47.40 291.81,47.45 292.85,47.50 294.03,47.57 295.31,47.64 296.66,47.71 298.07,47.80 299.50,47.89 300.94,47.99 302.35,48.09 303.71,48.20 305.00,48.32 306.23,48.44 307.43,48.56 308.62,48.69 309.80,48.82 310.98,48.96 312.18,49.11 313.39,49.26 314.62,49.43 315.89,49.61 317.21,49.81 318.57,50.02 320.00,50.25 321.51,50.51 323.10,50.79 324.77,51.10 326.48,51.42 328.23,51.76 330.00,52.10 331.77,52.45 333.52,52.81 335.23,53.15 336.90,53.49 338.49,53.82 340.00,54.12 341.43,54.42 342.79,54.70 344.10,54.98 345.37,55.26 346.60,55.53 347.81,55.79 349.00,56.06 350.19,56.32 351.37,56.59 352.56,56.86 353.77,57.13 355.00,57.41 356.26,57.70 357.53,57.99 358.82,58.28 360.11,58.58 361.40,58.88 362.69,59.18 363.96,59.48 365.22,59.77 366.46,60.06 367.67,60.35 368.86,60.63 370.00,60.90 371.11,61.16 372.20,61.42 373.26,61.68 374.30,61.93 375.31,62.19 376.31,62.43 377.29,62.67 378.26,62.91 379.21,63.14 380.15,63.37 381.08,63.58 382.00,63.80 382.92,64.01 383.83,64.21 384.73,64.42 385.63,64.61 386.51,64.81 387.38,64.99 388.22,65.17 389.04,65.35 389.83,65.51 390.59,65.66 391.31,65.80 392.00,65.93 392.64,66.04 393.22,66.14 393.75,66.23 394.25,66.31 394.72,66.38 395.17,66.45 395.61,66.50 396.05,66.55 396.50,66.59 396.97,66.63 397.47,66.67 398.00,66.70 398.59,66.73 399.23,66.74 399.90,66.75 400.61,66.76 401.32,66.75 402.02,66.75 402.71,66.74 403.36,66.73 403.96,66.72 404.49,66.71 404.94,66.70 405.30,66.70" fill="none" stroke="#6cc0b8" stroke-width="0.8" />
<polyline points="290.20,55.64 290.91,55.67 291.81,55.70 292.85,55.73 294.03,55.77 295.31,55.81 296.66,55.85 298.07,55.90 299.50,55.95 300.94,56.01 302.35,56.07 303.71,56.13 305.00,56.20 306.23,56.27 307.43,56.34 308.62,56.41 309.80,56.48 310.98,56.56 312.18,56.65 313.39,56.74 314.62,56.83 315.89,56.94 317.21,57.05 318.57,57.17 320.00,57.30 321.51,57.45 323.10,57.61 324.77,57.79 326.48,57.97 328.23,58.16 330.00,58.36 331.77,58.56 333.52,58.76 335.23,58.96 336.90,59.15 338.49,59.34 340.00,59.51 341.43,59.68 342.79,59.84 344.10,60.00 345.37,60.16 346.60,60.31 347.81,60.47 349.00,60.62 350.19,60.77 351.37,60.92 352.56,61.08 353.77,61.23 355.00,61.39 356.26,61.56 357.53,61.72 358.82,61.89 360.11,62.06 361.40,62.23 362.69,62.40 363.96,62.57 365.22,62.74 366.46,62.91 367.67,63.07 368.86,63.23 370.00,63.38 371.11,63.53 372.20,63.68 373.26,63.83 374.30,63.98 375.31,64.12 376.31,64.26 377.29,64.40 378.26,64.53 379.21,64.67 380.15,64.79 381.08,64.92 382.00,65.04 382.92,65.16 383.83,65.28 384.73,65.39 385.63,65.51 386.51,65.62 387.38,65.73 388.22,65.83 389.04,65.93 389.83,66.02 390.59,66.10 391.31,66.18 392.00,66.26 392.64,66.32 393.22,66.38 393.75,66.43 394.25,66.48 394.72,66.52 395.17,66.55 395.61,66.59 396.05,66.61 396.50,66.64 396.97,66.66 397.47,66.68 398.00,66.70 398.59,66.72 399.23,66.73 399.90,66.73 400.61,66.73 401.32,66.73 402.02,66.73 402.71,66.72 403.36,66.72 403.96,66.71 404.49,66.71 404.94,66.70 405.30,66.70" fill="none" stroke="#e8a0c0" stroke-width="0.8" />
<polyline points="290.20,58.41 290.91,58.43 291.81,58.45 292.85,58.47 294.03,58.50 295.31,58.53 296.66,58.56 298.07,58.60 299.50,58.64 300.94,58.68 302.35,58.72 303.71,58.77 305.00,58.82 306.23,58.87 307.43,58.93 308.62,58.98 309.80,59.04 310.98,59.10 312.18,59.16 313.39,59.23 314.62,59.30 315.89,59.38 317.21,59.46 318.57,59.55 320.00,59.65 321.51,59.76 323.10,59.88 324.77,60.01 326.48,60.15 328.23,60.30 330.00,60.44 331.77,60.59 333.52,60.75 335.23,60.89 336.90,61.04 338.49,61.18 340.00,61.31 341.43,61.44 342.79,61.56 344.10,61.68 345.37,61.80 346.60,61.91 347.81,62.03 349.00,62.14 350.19,62.25 351.37,62.37 352.56,62.48 353.77,62.60 355.00,62.72 356.26,62.84 357.53,62.97 358.82,63.09 360.11,63.22 361.40,63.35 362.69,63.48 363.96,63.60 365.22,63.73 366.46,63.85 367.67,63.98 368.86,64.10 370.00,64.21 371.11,64.33 372.20,64.44 373.26,64.55 374.30,64.66 375.31,64.77 376.31,64.87 377.29,64.97 378.26,65.08 379.21,65.17 380.15,65.27 381.08,65.36 382.00,65.46 382.92,65.55 383.83,65.63 384.73,65.72 385.63,65.81 386.51,65.89 387.38,65.97 388.22,66.05 389.04,66.12 389.83,66.19 390.59,66.25 391.31,66.31 392.00,66.37 392.64,66.42 393.22,66.46 393.75,66.50 394.25,66.53 394.72,66.56 395.17,66.59 395.61,66.61 396.05,66.64 396.50,66.65 396.97,66.67 397.47,66.69 398.00,66.70 398.59,66.71 399.23,66.72 399.90,66.72 400.61,66.72 401.32,66.72 402.02,66.72 402.71,66.72 403.36,66.71 403.96,66.71 404.49,66.70 404.94,66.70 405.30,66.70" fill="none" stroke="#d890b0" stroke-width="0.8" />
<polyline points="290.20,62.55 290.91,62.56 291.81,62.57 292.85,62.59 294.03,62.60 295.31,62.62 296.66,62.63 298.07,62.65 299.50,62.67 300.94,62.69 302.35,62.71 303.71,62.74 305.00,62.76 306.23,62.79 307.43,62.81 308.62,62.84 309.80,62.87 310.98,62.90 312.18,62.93 313.39,62.96 314.62,63.00 315.89,63.04 317.21,63.08 318.57,63.13 320.00,63.18 321.51,63.23 323.10,63.29 324.77,63.36 326.48,63.43 328.23,63.50 330.00,63.57 331.77,63.65 333.52,63.72 335.23,63.80 336.90,63.87 338.49,63.94 340.00,64.01 341.43,64.07 342.79,64.13 344.10,64.19 345.37,64.25 346.60,64.31 347.81,64.36 349.00,64.42 350.19,64.48 351.37,64.53 352.56,64.59 353.77,64.65 355.00,64.71 356.26,64.77 357.53,64.83 358.82,64.90 360.11,64.96 361.40,65.02 362.69,65.09 363.96,65.15 365.22,65.22 366.46,65.28 367.67,65.34 368.86,65.40 370.00,65.46 371.11,65.51 372.20,65.57 373.26,65.62 374.30,65.68 375.31,65.73 376.31,65.79 377.29,65.84 378.26,65.89 379.21,65.94 380.15,65.99 381.08,66.03 382.00,66.08 382.92,66.12 383.83,66.17 384.73,66.21 385.63,66.25 386.51,66.29 387.38,66.33 388.22,66.37 389.04,66.41 389.83,66.44 390.59,66.48 391.31,66.51 392.00,66.53 392.64,66.56 393.22,66.58 393.75,66.60 394.25,66.62 394.72,66.63 395.17,66.65 395.61,66.66 396.05,66.67 396.50,66.68 396.97,66.69 397.47,66.69 398.00,66.70 398.59,66.71 399.23,66.71 399.90,66.71 400.61,66.71 401.32,66.71 402.02,66.71 402.71,66.71 403.36,66.71 403.96,66.70 404.49,66.70 404.94,66.70 405.30,66.70" fill="none" stroke="#a0a0a8" stroke-width="0.7" />
<polyline points="290.20,65.32 290.91,65.32 291.81,65.32 292.85,65.33 294.03,65.33 295.31,65.34 296.66,65.34 298.07,65.35 299.50,65.36 300.94,65.36 302.35,65.37 303.71,65.38 305.00,65.39 306.23,65.40 307.43,65.40 308.62,65.41 309.80,65.42 310.98,65.43 312.18,65.44 313.39,65.45 314.62,65.47 315.89,65.48 317.21,65.49 318.57,65.51 320.00,65.53 321.51,65.54 323.10,65.56 324.77,65.59 326.48,65.61 328.23,65.63 330.00,65.66 331.77,65.68 333.52,65.71 335.23,65.73 336.90,65.76 338.49,65.78 340.00,65.80 341.43,65.82 342.79,65.84 344.10,65.86 345.37,65.88 346.60,65.90 347.81,65.92 349.00,65.94 350.19,65.96 351.37,65.98 352.56,66.00 353.77,66.02 355.00,66.04 356.26,66.06 357.53,66.08 358.82,66.10 360.11,66.12 361.40,66.14 362.69,66.16 363.96,66.18 365.22,66.21 366.46,66.23 367.67,66.25 368.86,66.27 370.00,66.29 371.11,66.30 372.20,66.32 373.26,66.34 374.30,66.36 375.31,66.38 376.31,66.40 377.29,66.41 378.26,66.43 379.21,66.45 380.15,66.46 381.08,66.48 382.00,66.49 382.92,66.51 383.83,66.52 384.73,66.54 385.63,66.55 386.51,66.56 387.38,66.58 388.22,66.59 389.04,66.60 389.83,66.61 390.59,66.63 391.31,66.64 392.00,66.64 392.64,66.65 393.22,66.66 393.75,66.67 394.25,66.67 394.72,66.68 395.17,66.68 395.61,66.69 396.05,66.69 396.50,66.69 396.97,66.70 397.47,66.70 398.00,66.70 398.59,66.70 399.23,66.70 399.90,66.70 400.61,66.70 401.32,66.70 402.02,66.70 402.71,66.70 403.36,66.70 403.96,66.70 404.49,66.70 404.94,66.70 405.30,66.70" fill="none" stroke="#c0c0e0" stroke-width="0.6" />
<polyline points="290.20,84.67 290.91,84.63 291.81,84.58 292.85,84.53 294.03,84.47 295.31,84.40 296.66,84.33 298.07,84.25 299.50,84.17 300.94,84.08 302.35,83.98 303.71,83.88 305.00,83.77 306.23,83.66 307.43,83.54 308.62,83.42 309.80,83.30 310.98,83.17 312.18,83.04 313.39,82.89 314.62,82.74 315.89,82.57 317.21,82.38 318.57,82.19 320.00,81.97 321.51,81.73 323.10,81.47 324.77,81.19 326.48,80.89 328.23,80.57 330.00,80.25 331.77,79.93 333.52,79.60 335.23,79.28 336.90,78.97 338.49,78.66 340.00,78.38 341.43,78.11 342.79,77.84 344.10,77.58 345.37,77.33 346.60,77.08 347.81,76.83 349.00,76.58 350.19,76.34 351.37,76.09 352.56,75.84 353.77,75.58 355.00,75.32 356.26,75.06 357.53,74.79 358.82,74.52 360.11,74.24 361.40,73.96 362.69,73.68 363.96,73.41 365.22,73.13 366.46,72.86 367.67,72.60 368.86,72.34 370.00,72.09 371.11,71.84 372.20,71.60 373.26,71.36 374.30,71.12 375.31,70.89 376.31,70.66 377.29,70.44 378.26,70.22 379.21,70.01 380.15,69.80 381.08,69.59 382.00,69.39 382.92,69.20 383.83,69.01 384.73,68.82 385.63,68.64 386.51,68.46 387.38,68.28 388.22,68.12 389.04,67.96 389.83,67.81 390.59,67.67 391.31,67.54 392.00,67.42 392.64,67.31 393.22,67.22 393.75,67.13 394.25,67.06 394.72,66.99 395.17,66.94 395.61,66.88 396.05,66.84 396.50,66.80 396.97,66.76 397.47,66.73 398.00,66.70 398.59,66.67 399.23,66.66 399.90,66.65 400.61,66.65 401.32,66.65 402.02,66.66 402.71,66.66 403.36,66.67 403.96,66.68 404.49,66.69 404.94,66.70 405.30,66.70" fill="none" stroke="#4fa070" stroke-width="0.8" />
<polyline points="290.20,68.91 290.91,68.91 291.81,68.90 292.85,68.89 294.03,68.89 295.31,68.88 296.66,68.87 298.07,68.86 299.50,68.85 300.94,68.84 302.35,68.83 303.71,68.81 305.00,68.80 306.23,68.79 307.43,68.77 308.62,68.76 309.80,68.74 310.98,68.73 312.18,68.71 313.39,68.69 314.62,68.67 315.89,68.65 317.21,68.63 318.57,68.61 320.00,68.58 321.51,68.55 323.10,68.52 324.77,68.48 326.48,68.45 328.23,68.41 330.00,68.37 331.77,68.33 333.52,68.29 335.23,68.25 336.90,68.21 338.49,68.17 340.00,68.14 341.43,68.10 342.79,68.07 344.10,68.04 345.37,68.01 346.60,67.98 347.81,67.95 349.00,67.92 350.19,67.89 351.37,67.86 352.56,67.82 353.77,67.79 355.00,67.76 356.26,67.73 357.53,67.70 358.82,67.66 360.11,67.63 361.40,67.59 362.69,67.56 363.96,67.53 365.22,67.49 366.46,67.46 367.67,67.43 368.86,67.39 370.00,67.36 371.11,67.33 372.20,67.30 373.26,67.27 374.30,67.24 375.31,67.22 376.31,67.19 377.29,67.16 378.26,67.13 379.21,67.11 380.15,67.08 381.08,67.06 382.00,67.03 382.92,67.01 383.83,66.98 384.73,66.96 385.63,66.94 386.51,66.92 387.38,66.89 388.22,66.87 389.04,66.85 389.83,66.84 390.59,66.82 391.31,66.80 392.00,66.79 392.64,66.78 393.22,66.76 393.75,66.75 394.25,66.74 394.72,66.74 395.17,66.73 395.61,66.72 396.05,66.72 396.50,66.71 396.97,66.71 397.47,66.70 398.00,66.70 398.59,66.70 399.23,66.69 399.90,66.69 400.61,66.69 401.32,66.69 402.02,66.69 402.71,66.70 403.36,66.70 403.96,66.70 404.49,66.70 404.94,66.70 405.30,66.70" fill="none" stroke="#f0b090" stroke-width="0.6" />
<polyline points="290.20,99.87 292.02,99.64 294.41,99.35 297.26,99.01 300.44,98.63 303.85,98.21 307.36,97.77 310.84,97.32 314.19,96.87 317.28,96.43 320.00,96.00 322.41,95.59 324.68,95.18 326.81,94.77 328.85,94.36 330.80,93.94 332.69,93.51 334.53,93.06 336.35,92.59 338.17,92.10 340.00,91.58 341.81,91.04 343.56,90.52 345.26,89.99 346.92,89.44 348.56,88.86 350.20,88.25 351.85,87.59 353.52,86.87 355.23,86.09 357.00,85.22 358.84,84.23 360.75,83.09 362.71,81.86 364.70,80.56 366.69,79.22 368.66,77.90 370.60,76.61 372.49,75.39 374.29,74.29 376.00,73.33 377.63,72.50 379.22,71.75 380.76,71.07 382.25,70.45 383.69,69.90 385.07,69.39 386.40,68.94 387.66,68.53 388.87,68.15 390.00,67.81 391.08,67.51 392.11,67.28 393.09,67.11 394.02,66.99 394.88,66.91 395.66,66.85 396.38,66.81 397.01,66.78 397.55,66.75 398.00,66.70" fill="none" stroke="#e8a0b8" stroke-width="0.8" />
<polyline points="319.00,82.45 320.25,82.26 321.87,82.02 323.79,81.73 325.94,81.41 328.25,81.06 330.66,80.68 333.11,80.30 335.53,79.91 337.85,79.52 340.00,79.14 342.04,78.76 344.06,78.38 346.07,77.98 348.07,77.58 350.06,77.17 352.05,76.75 354.03,76.32 356.02,75.89 358.00,75.44 360.00,74.99 362.02,74.52 364.08,74.01 366.16,73.49 368.24,72.96 370.31,72.42 372.36,71.89 374.37,71.37 376.32,70.88 378.20,70.43 380.00,70.02 381.73,69.64 383.40,69.29 385.02,68.96 386.60,68.65 388.12,68.36 389.60,68.09 391.02,67.85 392.40,67.63 393.73,67.43 395.00,67.25 396.25,67.11 397.48,66.99 398.68,66.91 399.84,66.85 400.94,66.80 401.96,66.78 402.89,66.76 403.72,66.74 404.43,66.72 405.00,66.70" fill="none" stroke="#58b0c8" stroke-width="0.7" />
<polyline points="319.00,79.14 320.25,78.94 321.87,78.69 323.79,78.40 325.94,78.06 328.25,77.70 330.66,77.33 333.11,76.94 335.53,76.56 337.85,76.18 340.00,75.82 342.04,75.47 344.06,75.12 346.07,74.75 348.07,74.39 350.06,74.02 352.05,73.66 354.03,73.29 356.02,72.93 358.00,72.58 360.00,72.23 362.02,71.88 364.08,71.52 366.16,71.17 368.24,70.82 370.31,70.47 372.36,70.13 374.37,69.80 376.32,69.48 378.20,69.19 380.00,68.91 381.73,68.65 383.40,68.41 385.02,68.18 386.60,67.96 388.12,67.75 389.60,67.56 391.02,67.39 392.40,67.24 393.73,67.10 395.00,66.98 396.25,66.88 397.48,66.81 398.68,66.76 399.84,66.73 400.94,66.72 401.96,66.71 402.89,66.71 403.72,66.71 404.43,66.71 405.00,66.70" fill="none" stroke="#f0a080" stroke-width="0.7" />
<polyline points="290.20,70.85 290.91,70.84 291.81,70.83 292.85,70.81 294.03,70.80 295.31,70.78 296.66,70.77 298.07,70.75 299.50,70.73 300.94,70.71 302.35,70.69 303.71,70.66 305.00,70.64 306.23,70.61 307.43,70.59 308.62,70.56 309.80,70.53 310.98,70.50 312.18,70.47 313.39,70.44 314.62,70.40 315.89,70.36 317.21,70.32 318.57,70.27 320.00,70.22 321.51,70.17 323.10,70.11 324.77,70.04 326.48,69.97 328.23,69.90 330.00,69.83 331.77,69.75 333.52,69.68 335.23,69.60 336.90,69.53 338.49,69.46 340.00,69.39 341.43,69.33 342.79,69.27 344.10,69.21 345.37,69.15 346.60,69.09 347.81,69.04 349.00,68.98 350.19,68.92 351.37,68.87 352.56,68.81 353.77,68.75 355.00,68.69 356.26,68.63 357.53,68.57 358.82,68.50 360.11,68.44 361.40,68.38 362.69,68.31 363.96,68.25 365.22,68.18 366.46,68.12 367.67,68.06 368.86,68.00 370.00,67.94 371.11,67.89 372.20,67.83 373.26,67.78 374.30,67.72 375.31,67.67 376.31,67.61 377.29,67.56 378.26,67.51 379.21,67.46 380.15,67.41 381.08,67.37 382.00,67.32 382.92,67.28 383.83,67.23 384.73,67.19 385.63,67.15 386.51,67.11 387.38,67.07 388.22,67.03 389.04,66.99 389.83,66.96 390.59,66.92 391.31,66.89 392.00,66.87 392.64,66.84 393.22,66.82 393.75,66.80 394.25,66.78 394.72,66.77 395.17,66.75 395.61,66.74 396.05,66.73 396.50,66.72 396.97,66.71 397.47,66.71 398.00,66.70 398.59,66.69 399.23,66.69 399.90,66.69 400.61,66.69 401.32,66.69 402.02,66.69 402.71,66.69 403.36,66.69 403.96,66.70 404.49,66.70 404.94,66.70 405.30,66.70" fill="none" stroke="#a07868" stroke-width="1.5" stroke-opacity="0.85"/>
<line x1="290.20" y1="66.70" x2="388.00" y2="66.70" stroke="#1f7f95" stroke-width="1.8" />
<line x1="385.00" y1="66.70" x2="405.30" y2="66.70" stroke="#a0a0a0" stroke-width="0.8" />
<line x1="330.00" y1="67.60" x2="392.00" y2="67.60" stroke="#40b0a0" stroke-width="0.7" />
<polyline points="290.20,126.13 291.66,125.84 293.50,125.49 295.67,125.08 298.10,124.62 300.75,124.12 303.54,123.59 306.41,123.02 309.32,122.44 312.19,121.84 314.97,121.24 317.59,120.64 320.00,120.05 322.27,119.46 324.50,118.87 326.69,118.28 328.86,117.68 330.98,117.07 333.08,116.43 335.15,115.78 337.18,115.10 339.18,114.39 341.15,113.64 343.09,112.86 345.00,112.03 346.89,111.14 348.76,110.20 350.60,109.20 352.42,108.16 354.21,107.09 355.96,106.00 357.67,104.90 359.34,103.80 360.96,102.71 362.53,101.64 364.04,100.59 365.50,99.59 366.89,98.62 368.21,97.65 369.47,96.69 370.67,95.74 371.83,94.80 372.94,93.87 374.03,92.95 375.09,92.05 376.12,91.15 377.15,90.27 378.17,89.39 379.20,88.54 380.22,87.68 381.24,86.83 382.24,85.98 383.22,85.14 384.19,84.31 385.13,83.49 386.05,82.70 386.94,81.92 387.81,81.18 388.64,80.46 389.44,79.78 390.20,79.14 390.92,78.54 391.61,78.00 392.26,77.50 392.87,77.03 393.46,76.59 394.02,76.17 394.56,75.76 395.08,75.35 395.58,74.94 396.07,74.52 396.54,74.08 397.00,73.61 397.44,73.11 397.85,72.57 398.24,72.01 398.60,71.43 398.94,70.85 399.27,70.28 399.59,69.72 399.90,69.19 400.22,68.69 400.54,68.25 400.86,67.85 401.20,67.53 401.56,67.27 401.94,67.08 402.33,66.93 402.73,66.83 403.12,66.77 403.51,66.73 403.89,66.72 404.24,66.72 404.57,66.73 404.86,66.73 405.10,66.72 405.30,66.70" fill="none" stroke="#808080" stroke-width="0.8" />
<rect x="285.80" y="44.50" width="123.70" height="84.90" fill="none" stroke="#1e1e1e" stroke-width="1.2"/>
<line x1="283.20" y1="52.88" x2="285.80" y2="52.88" stroke="#1e1e1e" stroke-width="1" />
<text x="280.00" y="55.25" font-size="6.9" text-anchor="end">0.5</text>
<line x1="283.20" y1="66.70" x2="285.80" y2="66.70" stroke="#1e1e1e" stroke-width="1" />
<text x="280.00" y="69.07" font-size="6.9" text-anchor="end">0.0</text>
<line x1="283.20" y1="80.52" x2="285.80" y2="80.52" stroke="#1e1e1e" stroke-width="1" />
<text x="280.00" y="82.89" font-size="6.9" text-anchor="end">−0.5</text>
<line x1="283.20" y1="94.34" x2="285.80" y2="94.34" stroke="#1e1e1e" stroke-width="1" />
<text x="280.00" y="96.71" font-size="6.9" text-anchor="end">−1.0</text>
<line x1="283.20" y1="108.16" x2="285.80" y2="108.16" stroke="#1e1e1e" stroke-width="1" />
<text x="280.00" y="110.53" font-size="6.9" text-anchor="end">−1.5</text>
<line x1="283.20" y1="121.98" x2="285.80" y2="121.98" stroke="#1e1e1e" stroke-width="1" />
<text x="280.00" y="124.35" font-size="6.9" text-anchor="end">−2.0</text>
<line x1="296.50" y1="129.40" x2="296.50" y2="132.00" stroke="#1e1e1e" stroke-width="1" />
<text x="296.50" y="142.37" font-size="6.9" text-anchor="middle">−7</text>
<line x1="296.50" y1="41.90" x2="296.50" y2="44.50" stroke="#1e1e1e" stroke-width="1" />
<text x="296.50" y="36.87" font-size="6.6" text-anchor="middle">27</text>
<line x1="314.95" y1="129.40" x2="314.95" y2="132.00" stroke="#1e1e1e" stroke-width="1" />
<text x="314.95" y="142.37" font-size="6.9" text-anchor="middle">−6</text>
<line x1="314.95" y1="41.90" x2="314.95" y2="44.50" stroke="#1e1e1e" stroke-width="1" />
<text x="314.95" y="36.87" font-size="6.6" text-anchor="middle">25</text>
<line x1="333.40" y1="129.40" x2="333.40" y2="132.00" stroke="#1e1e1e" stroke-width="1" />
<text x="333.40" y="142.37" font-size="6.9" text-anchor="middle">−5</text>
<line x1="333.40" y1="41.90" x2="333.40" y2="44.50" stroke="#1e1e1e" stroke-width="1" />
<text x="333.40" y="36.87" font-size="6.6" text-anchor="middle">22</text>
<line x1="351.85" y1="129.40" x2="351.85" y2="132.00" stroke="#1e1e1e" stroke-width="1" />
<text x="351.85" y="142.37" font-size="6.9" text-anchor="middle">−4</text>
<line x1="351.85" y1="41.90" x2="351.85" y2="44.50" stroke="#1e1e1e" stroke-width="1" />
<text x="351.85" y="36.87" font-size="6.6" text-anchor="middle">21</text>
<line x1="370.30" y1="129.40" x2="370.30" y2="132.00" stroke="#1e1e1e" stroke-width="1" />
<text x="370.30" y="142.37" font-size="6.9" text-anchor="middle">−3</text>
<line x1="370.30" y1="41.90" x2="370.30" y2="44.50" stroke="#1e1e1e" stroke-width="1" />
<text x="370.30" y="36.87" font-size="6.6" text-anchor="middle">17</text>
<line x1="388.75" y1="129.40" x2="388.75" y2="132.00" stroke="#1e1e1e" stroke-width="1" />
<text x="388.75" y="142.37" font-size="6.9" text-anchor="middle">−2</text>
<line x1="388.75" y1="41.90" x2="388.75" y2="44.50" stroke="#1e1e1e" stroke-width="1" />
<text x="388.75" y="36.87" font-size="6.6" text-anchor="middle">8</text>
<line x1="407.20" y1="129.40" x2="407.20" y2="132.00" stroke="#1e1e1e" stroke-width="1" />
<text x="407.20" y="142.37" font-size="6.9" text-anchor="middle">−1</text>
<line x1="407.20" y1="41.90" x2="407.20" y2="44.50" stroke="#1e1e1e" stroke-width="1" />
<text x="407.20" y="36.87" font-size="6.6" text-anchor="middle">0</text>
<line x1="389.70" y1="44.40" x2="389.70" y2="129.40" stroke="#1a1a1a" stroke-width="1.7" stroke-dasharray="4.65,4.65"/>
<text x="335.80" y="123.01" font-size="7.0" textLength="69.20" lengthAdjust="spacingAndGlyphs">10-fold cross validation</text>
<text x="368.30" y="27.91" font-size="7.0" textLength="35.00" lengthAdjust="spacingAndGlyphs">8 indicators</text>
<line x1="398.00" y1="32.20" x2="392.61" y2="40.50" stroke="#111" stroke-width="1.05" />
<polygon points="390.60,43.60 391.21,38.99 394.56,41.17" fill="#111" stroke="none" stroke-width="0.5" />
<text x="385.80" y="152.27" font-size="6.6" textLength="40.40" lengthAdjust="spacingAndGlyphs">Ln λ = −1.945</text>
<line x1="401.50" y1="143.30" x2="393.66" y2="133.85" stroke="#111" stroke-width="1.05" />
<polygon points="391.30,131.00 395.52,132.96 392.44,135.51" fill="#111" stroke="none" stroke-width="0.5" />
<text x="259.00" y="90.55" font-size="9.3" text-anchor="middle" textLength="35.40" lengthAdjust="spacingAndGlyphs" transform="rotate(-90 259.00 87.30)">Coefficients</text>
<text x="348.00" y="154.00" font-size="9.3" text-anchor="middle" textLength="36.50" lengthAdjust="spacingAndGlyphs">Log lambda</text>
<text x="243.3" y="182.6" font-size="12.6" font-weight="bold" fill="#000" stroke="#000" stroke-width="0.45">F</text>
<polygon points="287.80,214.20 288.30,214.46 288.80,214.72 289.30,214.98 289.80,215.23 290.30,215.49 290.80,215.74 291.30,216.00 291.80,216.26 292.30,216.52 292.80,216.77 293.30,217.03 293.80,217.29 294.30,217.56 294.80,217.82 295.30,218.09 295.80,218.36 296.30,218.62 296.80,218.90 297.30,219.18 297.80,219.46 298.30,219.75 298.80,220.04 299.30,220.34 299.80,220.65 300.30,220.97 300.80,221.30 301.30,221.64 301.80,221.98 302.30,222.33 302.80,222.69 303.30,223.07 303.80,223.45 304.30,223.84 304.80,224.25 305.30,224.66 305.80,225.08 306.30,225.51 306.80,225.94 307.30,226.38 307.80,226.82 308.30,227.28 308.80,227.74 309.30,228.21 309.80,228.69 310.30,229.18 310.80,229.67 311.30,230.17 311.80,230.68 312.30,231.19 312.80,231.70 313.30,232.22 313.80,232.75 314.30,233.27 314.80,233.80 315.30,234.34 315.80,234.89 316.30,235.45 316.80,236.01 317.30,236.59 317.80,237.17 318.30,237.76 318.80,238.34 319.30,238.92 319.80,239.50 320.30,240.07 320.80,240.64 321.30,241.20 321.80,241.74 322.30,242.28 322.80,242.81 323.30,243.33 323.80,243.85 324.30,244.36 324.80,244.87 325.30,245.37 325.80,245.87 326.30,246.37 326.80,246.87 327.30,247.36 327.80,247.85 328.30,248.35 328.80,248.84 329.30,249.33 329.80,249.82 330.30,250.31 330.80,250.81 331.30,251.30 331.80,251.80 332.30,252.30 332.80,252.79 333.30,253.28 333.80,253.76 334.30,254.24 334.80,254.72 335.30,255.20 335.80,255.68 336.30,256.15 336.80,256.63 337.30,257.11 337.80,257.60 338.30,258.09 338.80,258.59 339.30,259.09 339.80,259.61 340.30,260.14 340.80,260.68 341.30,261.25 341.80,261.83 342.30,262.45 342.80,263.10 343.30,263.80 343.80,264.53 344.30,265.30 344.80,266.10 345.30,266.92 345.80,267.75 346.30,268.56 346.80,269.36 347.30,270.10 347.80,270.83 348.30,271.56 348.80,272.29 349.30,273.03 349.80,273.75 350.30,274.47 350.80,275.16 351.30,275.83 351.80,276.47 352.30,277.08 352.80,277.65 353.30,278.21 353.80,278.73 354.30,279.25 354.80,279.76 355.30,280.25 355.80,280.73 356.30,281.19 356.80,281.65 357.30,282.08 357.80,282.51 358.30,282.91 358.80,283.31 359.30,283.68 359.80,284.06 360.30,284.39 360.80,284.73 361.30,285.04 361.80,285.35 362.30,285.63 362.80,285.90 363.30,286.17 363.80,286.42 364.30,286.67 364.80,286.90 365.30,287.12 365.80,287.35 366.30,287.56 366.80,287.77 367.30,287.97 367.80,288.17 368.30,288.37 368.80,288.56 369.30,288.75 369.80,288.94 370.30,289.13 370.80,289.31 371.30,289.49 371.80,289.66 372.30,289.83 372.80,290.00 373.30,290.17 373.80,290.32 374.30,290.48 374.80,290.63 375.30,290.77 375.80,290.91 376.30,291.04 376.80,291.17 377.30,291.29 377.80,291.41 378.30,291.52 378.80,291.63 379.30,291.73 379.80,291.82 380.30,291.92 380.80,292.01 381.30,292.09 381.80,292.18 382.30,292.26 382.80,292.34 383.30,292.41 383.80,292.48 384.30,292.55 384.80,292.61 385.30,292.67 385.80,292.72 386.30,292.77 386.80,292.81 387.30,292.85 387.80,292.88 388.30,292.92 388.80,292.94 389.30,292.96 389.80,292.98 390.30,292.98 390.80,292.99 391.30,293.00 391.80,292.99 392.30,292.98 392.80,292.97 393.30,292.96 393.80,292.94 394.30,292.92 394.80,292.89 395.30,292.87 395.80,292.84 396.30,292.80 396.80,292.77 397.30,292.74 397.80,292.70 398.30,292.67 398.80,292.63 399.30,292.59 399.80,292.55 400.30,292.51 400.80,292.47 401.30,292.43 401.80,292.38 402.30,292.34 402.80,292.30 403.30,292.26 403.80,292.21 404.30,292.17 404.80,292.12 405.30,292.08 405.80,292.04 406.30,291.99 406.80,291.96 407.30,291.92 407.30,293.72 406.80,293.77 406.30,293.82 405.80,293.87 405.30,293.92 404.80,293.97 404.30,294.02 403.80,294.08 403.30,294.13 402.80,294.18 402.30,294.23 401.80,294.28 401.30,294.33 400.80,294.38 400.30,294.43 399.80,294.48 399.30,294.53 398.80,294.58 398.30,294.63 397.80,294.67 397.30,294.71 396.80,294.76 396.30,294.80 395.80,294.84 395.30,294.88 394.80,294.92 394.30,294.95 393.80,294.99 393.30,295.02 392.80,295.04 392.30,295.06 391.80,295.09 391.30,295.10 390.80,295.11 390.30,295.12 389.80,295.12 389.30,295.12 388.80,295.11 388.30,295.11 387.80,295.09 387.30,295.07 386.80,295.05 386.30,295.02 385.80,294.99 385.30,294.96 384.80,294.91 384.30,294.87 383.80,294.83 383.30,294.77 382.80,294.72 382.30,294.66 381.80,294.60 381.30,294.54 380.80,294.48 380.30,294.41 379.80,294.34 379.30,294.27 378.80,294.19 378.30,294.10 377.80,294.01 377.30,293.91 376.80,293.81 376.30,293.71 375.80,293.60 375.30,293.49 374.80,293.37 374.30,293.25 373.80,293.13 373.30,293.00 372.80,292.88 372.30,292.75 371.80,292.63 371.30,292.50 370.80,292.38 370.30,292.25 369.80,292.12 369.30,291.99 368.80,291.86 368.30,291.73 367.80,291.59 367.30,291.45 366.80,291.31 366.30,291.17 365.80,291.03 365.30,290.89 364.80,290.74 364.30,290.60 363.80,290.45 363.30,290.30 362.80,290.16 362.30,290.01 361.80,289.86 361.30,289.72 360.80,289.57 360.30,289.42 359.80,289.28 359.30,289.13 358.80,288.98 358.30,288.83 357.80,288.68 357.30,288.53 356.80,288.38 356.30,288.22 355.80,288.07 355.30,287.92 354.80,287.77 354.30,287.61 353.80,287.46 353.30,287.31 352.80,287.16 352.30,287.00 351.80,286.85 351.30,286.70 350.80,286.55 350.30,286.40 349.80,286.25 349.30,286.10 348.80,285.96 348.30,285.81 347.80,285.66 347.30,285.51 346.80,285.37 346.30,285.22 345.80,285.07 345.30,284.92 344.80,284.77 344.30,284.62 343.80,284.47 343.30,284.31 342.80,284.15 342.30,283.99 341.80,283.83 341.30,283.66 340.80,283.50 340.30,283.32 339.80,283.14 339.30,282.96 338.80,282.78 338.30,282.59 337.80,282.40 337.30,282.21 336.80,282.02 336.30,281.83 335.80,281.65 335.30,281.46 334.80,281.28 334.30,281.11 333.80,280.93 333.30,280.76 332.80,280.58 332.30,280.41 331.80,280.24 331.30,280.06 330.80,279.89 330.30,279.72 329.80,279.54 329.30,279.37 328.80,279.20 328.30,279.03 327.80,278.86 327.30,278.69 326.80,278.52 326.30,278.35 325.80,278.19 325.30,278.02 324.80,277.85 324.30,277.69 323.80,277.52 323.30,277.36 322.80,277.20 322.30,277.04 321.80,276.88 321.30,276.73 320.80,276.58 320.30,276.43 319.80,276.28 319.30,276.14 318.80,276.00 318.30,275.86 317.80,275.72 317.30,275.57 316.80,275.43 316.30,275.29 315.80,275.14 315.30,274.99 314.80,274.84 314.30,274.68 313.80,274.52 313.30,274.36 312.80,274.20 312.30,274.03 311.80,273.85 311.30,273.68 310.80,273.50 310.30,273.31 309.80,273.13 309.30,272.94 308.80,272.75 308.30,272.56 307.80,272.37 307.30,272.19 306.80,272.00 306.30,271.81 305.80,271.62 305.30,271.43 304.80,271.24 304.30,271.06 303.80,270.88 303.30,270.70 302.80,270.52 302.30,270.34 301.80,270.17 301.30,270.00 300.80,269.84 300.30,269.68 299.80,269.52 299.30,269.37 298.80,269.24 298.30,269.10 297.80,268.96 297.30,268.84 296.80,268.72 296.30,268.60 295.80,268.49 295.30,268.38 294.80,268.27 294.30,268.16 293.80,268.06 293.30,267.96 292.80,267.86 292.30,267.76 291.80,267.66 291.30,267.57 290.80,267.47 290.30,267.38 289.80,267.29 289.30,267.19 288.80,267.10 288.30,267.00 287.80,266.90" fill="#ebebeb" stroke="none" stroke-width="0.5" />
<line x1="287.80" y1="214.20" x2="287.80" y2="266.90" stroke="#9c9c9c" stroke-width="0.7" />
<line x1="287.00" y1="214.20" x2="288.60" y2="214.20" stroke="#a4a4a4" stroke-width="0.5" />
<line x1="287.00" y1="266.90" x2="288.60" y2="266.90" stroke="#a4a4a4" stroke-width="0.5" />
<line x1="290.75" y1="215.72" x2="290.75" y2="267.47" stroke="#9c9c9c" stroke-width="0.7" />
<line x1="289.95" y1="215.72" x2="291.55" y2="215.72" stroke="#a4a4a4" stroke-width="0.5" />
<line x1="289.95" y1="267.47" x2="291.55" y2="267.47" stroke="#a4a4a4" stroke-width="0.5" />
<line x1="293.70" y1="217.24" x2="293.70" y2="268.04" stroke="#9c9c9c" stroke-width="0.7" />
<line x1="292.90" y1="217.24" x2="294.50" y2="217.24" stroke="#a4a4a4" stroke-width="0.5" />
<line x1="292.90" y1="268.04" x2="294.50" y2="268.04" stroke="#a4a4a4" stroke-width="0.5" />
<line x1="296.65" y1="218.82" x2="296.65" y2="268.69" stroke="#9c9c9c" stroke-width="0.7" />
<line x1="295.85" y1="218.82" x2="297.45" y2="218.82" stroke="#a4a4a4" stroke-width="0.5" />
<line x1="295.85" y1="268.69" x2="297.45" y2="268.69" stroke="#a4a4a4" stroke-width="0.5" />
<line x1="299.60" y1="220.53" x2="299.60" y2="269.46" stroke="#9c9c9c" stroke-width="0.7" />
<line x1="298.80" y1="220.53" x2="300.40" y2="220.53" stroke="#a4a4a4" stroke-width="0.5" />
<line x1="298.80" y1="269.46" x2="300.40" y2="269.46" stroke="#a4a4a4" stroke-width="0.5" />
<line x1="302.55" y1="222.51" x2="302.55" y2="270.43" stroke="#9c9c9c" stroke-width="0.7" />
<line x1="301.75" y1="222.51" x2="303.35" y2="222.51" stroke="#a4a4a4" stroke-width="0.5" />
<line x1="301.75" y1="270.43" x2="303.35" y2="270.43" stroke="#a4a4a4" stroke-width="0.5" />
<line x1="305.50" y1="224.83" x2="305.50" y2="271.51" stroke="#9c9c9c" stroke-width="0.7" />
<line x1="304.70" y1="224.83" x2="306.30" y2="224.83" stroke="#a4a4a4" stroke-width="0.5" />
<line x1="304.70" y1="271.51" x2="306.30" y2="271.51" stroke="#a4a4a4" stroke-width="0.5" />
<line x1="308.45" y1="227.42" x2="308.45" y2="272.62" stroke="#9c9c9c" stroke-width="0.7" />
<line x1="307.65" y1="227.42" x2="309.25" y2="227.42" stroke="#a4a4a4" stroke-width="0.5" />
<line x1="307.65" y1="272.62" x2="309.25" y2="272.62" stroke="#a4a4a4" stroke-width="0.5" />
<line x1="311.40" y1="230.27" x2="311.40" y2="273.71" stroke="#9c9c9c" stroke-width="0.7" />
<line x1="310.60" y1="230.27" x2="312.20" y2="230.27" stroke="#a4a4a4" stroke-width="0.5" />
<line x1="310.60" y1="273.71" x2="312.20" y2="273.71" stroke="#a4a4a4" stroke-width="0.5" />
<line x1="314.35" y1="233.33" x2="314.35" y2="274.70" stroke="#9c9c9c" stroke-width="0.7" />
<line x1="313.55" y1="233.33" x2="315.15" y2="233.33" stroke="#a4a4a4" stroke-width="0.5" />
<line x1="313.55" y1="274.70" x2="315.15" y2="274.70" stroke="#a4a4a4" stroke-width="0.5" />
<line x1="317.30" y1="236.59" x2="317.30" y2="275.57" stroke="#9c9c9c" stroke-width="0.7" />
<line x1="316.50" y1="236.59" x2="318.10" y2="236.59" stroke="#a4a4a4" stroke-width="0.5" />
<line x1="316.50" y1="275.57" x2="318.10" y2="275.57" stroke="#a4a4a4" stroke-width="0.5" />
<line x1="320.25" y1="240.02" x2="320.25" y2="276.41" stroke="#9c9c9c" stroke-width="0.7" />
<line x1="319.45" y1="240.02" x2="321.05" y2="240.02" stroke="#a4a4a4" stroke-width="0.5" />
<line x1="319.45" y1="276.41" x2="321.05" y2="276.41" stroke="#a4a4a4" stroke-width="0.5" />
<line x1="323.20" y1="243.23" x2="323.20" y2="277.33" stroke="#9c9c9c" stroke-width="0.7" />
<line x1="322.40" y1="243.23" x2="324.00" y2="243.23" stroke="#a4a4a4" stroke-width="0.5" />
<line x1="322.40" y1="277.33" x2="324.00" y2="277.33" stroke="#a4a4a4" stroke-width="0.5" />
<line x1="326.15" y1="246.22" x2="326.15" y2="278.30" stroke="#9c9c9c" stroke-width="0.7" />
<line x1="325.35" y1="246.22" x2="326.95" y2="246.22" stroke="#a4a4a4" stroke-width="0.5" />
<line x1="325.35" y1="278.30" x2="326.95" y2="278.30" stroke="#a4a4a4" stroke-width="0.5" />
<line x1="329.10" y1="249.13" x2="329.10" y2="279.30" stroke="#9c9c9c" stroke-width="0.7" />
<line x1="328.30" y1="249.13" x2="329.90" y2="249.13" stroke="#a4a4a4" stroke-width="0.5" />
<line x1="328.30" y1="279.30" x2="329.90" y2="279.30" stroke="#a4a4a4" stroke-width="0.5" />
<line x1="332.05" y1="252.05" x2="332.05" y2="280.32" stroke="#9c9c9c" stroke-width="0.7" />
<line x1="331.25" y1="252.05" x2="332.85" y2="252.05" stroke="#a4a4a4" stroke-width="0.5" />
<line x1="331.25" y1="280.32" x2="332.85" y2="280.32" stroke="#a4a4a4" stroke-width="0.5" />
<line x1="335.00" y1="254.91" x2="335.00" y2="281.36" stroke="#9c9c9c" stroke-width="0.7" />
<line x1="334.20" y1="254.91" x2="335.80" y2="254.91" stroke="#a4a4a4" stroke-width="0.5" />
<line x1="334.20" y1="281.36" x2="335.80" y2="281.36" stroke="#a4a4a4" stroke-width="0.5" />
<line x1="337.95" y1="257.75" x2="337.95" y2="282.46" stroke="#9c9c9c" stroke-width="0.7" />
<line x1="337.15" y1="257.75" x2="338.75" y2="257.75" stroke="#a4a4a4" stroke-width="0.5" />
<line x1="337.15" y1="282.46" x2="338.75" y2="282.46" stroke="#a4a4a4" stroke-width="0.5" />
<line x1="340.90" y1="260.79" x2="340.90" y2="283.53" stroke="#9c9c9c" stroke-width="0.7" />
<line x1="340.10" y1="260.79" x2="341.70" y2="260.79" stroke="#a4a4a4" stroke-width="0.5" />
<line x1="340.10" y1="283.53" x2="341.70" y2="283.53" stroke="#a4a4a4" stroke-width="0.5" />
<line x1="343.85" y1="264.61" x2="343.85" y2="284.48" stroke="#9c9c9c" stroke-width="0.7" />
<line x1="343.05" y1="264.61" x2="344.65" y2="264.61" stroke="#a4a4a4" stroke-width="0.5" />
<line x1="343.05" y1="284.48" x2="344.65" y2="284.48" stroke="#a4a4a4" stroke-width="0.5" />
<line x1="346.80" y1="269.36" x2="346.80" y2="285.37" stroke="#9c9c9c" stroke-width="0.7" />
<line x1="346.00" y1="269.36" x2="347.60" y2="269.36" stroke="#a4a4a4" stroke-width="0.5" />
<line x1="346.00" y1="285.37" x2="347.60" y2="285.37" stroke="#a4a4a4" stroke-width="0.5" />
<line x1="349.75" y1="273.68" x2="349.75" y2="286.24" stroke="#9c9c9c" stroke-width="0.7" />
<line x1="348.95" y1="273.68" x2="350.55" y2="273.68" stroke="#a4a4a4" stroke-width="0.5" />
<line x1="348.95" y1="286.24" x2="350.55" y2="286.24" stroke="#a4a4a4" stroke-width="0.5" />
<line x1="352.70" y1="277.54" x2="352.70" y2="287.12" stroke="#9c9c9c" stroke-width="0.7" />
<line x1="351.90" y1="277.54" x2="353.50" y2="277.54" stroke="#a4a4a4" stroke-width="0.5" />
<line x1="351.90" y1="287.12" x2="353.50" y2="287.12" stroke="#a4a4a4" stroke-width="0.5" />
<line x1="355.65" y1="280.59" x2="355.65" y2="288.03" stroke="#9c9c9c" stroke-width="0.7" />
<line x1="354.85" y1="280.59" x2="356.45" y2="280.59" stroke="#a4a4a4" stroke-width="0.5" />
<line x1="354.85" y1="288.03" x2="356.45" y2="288.03" stroke="#a4a4a4" stroke-width="0.5" />
<line x1="358.60" y1="283.15" x2="358.60" y2="288.92" stroke="#9c9c9c" stroke-width="0.7" />
<line x1="357.80" y1="283.15" x2="359.40" y2="283.15" stroke="#a4a4a4" stroke-width="0.5" />
<line x1="357.80" y1="288.92" x2="359.40" y2="288.92" stroke="#a4a4a4" stroke-width="0.5" />
<line x1="361.55" y1="285.19" x2="361.55" y2="289.79" stroke="#9c9c9c" stroke-width="0.7" />
<line x1="360.75" y1="285.19" x2="362.35" y2="285.19" stroke="#a4a4a4" stroke-width="0.5" />
<line x1="360.75" y1="289.79" x2="362.35" y2="289.79" stroke="#a4a4a4" stroke-width="0.5" />
<line x1="364.50" y1="286.76" x2="364.50" y2="290.65" stroke="#9c9c9c" stroke-width="0.7" />
<line x1="363.70" y1="286.76" x2="365.30" y2="286.76" stroke="#a4a4a4" stroke-width="0.5" />
<line x1="363.70" y1="290.65" x2="365.30" y2="290.65" stroke="#a4a4a4" stroke-width="0.5" />
<line x1="367.45" y1="288.03" x2="367.45" y2="291.49" stroke="#9c9c9c" stroke-width="0.7" />
<line x1="366.65" y1="288.03" x2="368.25" y2="288.03" stroke="#a4a4a4" stroke-width="0.5" />
<line x1="366.65" y1="291.49" x2="368.25" y2="291.49" stroke="#a4a4a4" stroke-width="0.5" />
<line x1="370.40" y1="289.16" x2="370.40" y2="292.27" stroke="#9c9c9c" stroke-width="0.7" />
<line x1="369.60" y1="289.16" x2="371.20" y2="289.16" stroke="#a4a4a4" stroke-width="0.5" />
<line x1="369.60" y1="292.27" x2="371.20" y2="292.27" stroke="#a4a4a4" stroke-width="0.5" />
<line x1="373.35" y1="290.18" x2="373.35" y2="293.02" stroke="#9c9c9c" stroke-width="0.7" />
<line x1="372.55" y1="290.18" x2="374.15" y2="290.18" stroke="#a4a4a4" stroke-width="0.5" />
<line x1="372.55" y1="293.02" x2="374.15" y2="293.02" stroke="#a4a4a4" stroke-width="0.5" />
<line x1="376.30" y1="291.04" x2="376.30" y2="293.71" stroke="#9c9c9c" stroke-width="0.7" />
<line x1="375.50" y1="291.04" x2="377.10" y2="291.04" stroke="#a4a4a4" stroke-width="0.5" />
<line x1="375.50" y1="293.71" x2="377.10" y2="293.71" stroke="#a4a4a4" stroke-width="0.5" />
<line x1="379.25" y1="291.72" x2="379.25" y2="294.26" stroke="#9c9c9c" stroke-width="0.7" />
<line x1="378.45" y1="291.72" x2="380.05" y2="291.72" stroke="#a4a4a4" stroke-width="0.5" />
<line x1="378.45" y1="294.26" x2="380.05" y2="294.26" stroke="#a4a4a4" stroke-width="0.5" />
<line x1="382.20" y1="292.24" x2="382.20" y2="294.65" stroke="#9c9c9c" stroke-width="0.7" />
<line x1="381.40" y1="292.24" x2="383.00" y2="292.24" stroke="#a4a4a4" stroke-width="0.5" />
<line x1="381.40" y1="294.65" x2="383.00" y2="294.65" stroke="#a4a4a4" stroke-width="0.5" />
<line x1="385.15" y1="292.65" x2="385.15" y2="294.94" stroke="#9c9c9c" stroke-width="0.7" />
<line x1="384.35" y1="292.65" x2="385.95" y2="292.65" stroke="#a4a4a4" stroke-width="0.5" />
<line x1="384.35" y1="294.94" x2="385.95" y2="294.94" stroke="#a4a4a4" stroke-width="0.5" />
<line x1="388.10" y1="292.90" x2="388.10" y2="295.10" stroke="#9c9c9c" stroke-width="0.7" />
<line x1="387.30" y1="292.90" x2="388.90" y2="292.90" stroke="#a4a4a4" stroke-width="0.5" />
<line x1="387.30" y1="295.10" x2="388.90" y2="295.10" stroke="#a4a4a4" stroke-width="0.5" />
<line x1="391.05" y1="292.99" x2="391.05" y2="295.11" stroke="#9c9c9c" stroke-width="0.7" />
<line x1="390.25" y1="292.99" x2="391.85" y2="292.99" stroke="#a4a4a4" stroke-width="0.5" />
<line x1="390.25" y1="295.11" x2="391.85" y2="295.11" stroke="#a4a4a4" stroke-width="0.5" />
<line x1="394.00" y1="292.93" x2="394.00" y2="294.97" stroke="#9c9c9c" stroke-width="0.7" />
<line x1="393.20" y1="292.93" x2="394.80" y2="292.93" stroke="#a4a4a4" stroke-width="0.5" />
<line x1="393.20" y1="294.97" x2="394.80" y2="294.97" stroke="#a4a4a4" stroke-width="0.5" />
<line x1="396.95" y1="292.76" x2="396.95" y2="294.74" stroke="#9c9c9c" stroke-width="0.7" />
<line x1="396.15" y1="292.76" x2="397.75" y2="292.76" stroke="#a4a4a4" stroke-width="0.5" />
<line x1="396.15" y1="294.74" x2="397.75" y2="294.74" stroke="#a4a4a4" stroke-width="0.5" />
<line x1="399.90" y1="292.54" x2="399.90" y2="294.47" stroke="#9c9c9c" stroke-width="0.7" />
<line x1="399.10" y1="292.54" x2="400.70" y2="292.54" stroke="#a4a4a4" stroke-width="0.5" />
<line x1="399.10" y1="294.47" x2="400.70" y2="294.47" stroke="#a4a4a4" stroke-width="0.5" />
<line x1="402.85" y1="292.29" x2="402.85" y2="294.17" stroke="#9c9c9c" stroke-width="0.7" />
<line x1="402.05" y1="292.29" x2="403.65" y2="292.29" stroke="#a4a4a4" stroke-width="0.5" />
<line x1="402.05" y1="294.17" x2="403.65" y2="294.17" stroke="#a4a4a4" stroke-width="0.5" />
<line x1="405.80" y1="292.04" x2="405.80" y2="293.87" stroke="#9c9c9c" stroke-width="0.7" />
<line x1="405.00" y1="292.04" x2="406.60" y2="292.04" stroke="#a4a4a4" stroke-width="0.5" />
<line x1="405.00" y1="293.87" x2="406.60" y2="293.87" stroke="#a4a4a4" stroke-width="0.5" />
<polyline points="287.80,214.20 288.30,214.46 288.80,214.72 289.30,214.98 289.80,215.23 290.30,215.49 290.80,215.74 291.30,216.00 291.80,216.26 292.30,216.52 292.80,216.77 293.30,217.03 293.80,217.29 294.30,217.56 294.80,217.82 295.30,218.09 295.80,218.36 296.30,218.62 296.80,218.90 297.30,219.18 297.80,219.46 298.30,219.75 298.80,220.04 299.30,220.34 299.80,220.65 300.30,220.97 300.80,221.30 301.30,221.64 301.80,221.98 302.30,222.33 302.80,222.69 303.30,223.07 303.80,223.45 304.30,223.84 304.80,224.25 305.30,224.66 305.80,225.08 306.30,225.51 306.80,225.94 307.30,226.38 307.80,226.82 308.30,227.28 308.80,227.74 309.30,228.21 309.80,228.69 310.30,229.18 310.80,229.67 311.30,230.17 311.80,230.68 312.30,231.19 312.80,231.70 313.30,232.22 313.80,232.75 314.30,233.27 314.80,233.80 315.30,234.34 315.80,234.89 316.30,235.45 316.80,236.01 317.30,236.59 317.80,237.17 318.30,237.76 318.80,238.34 319.30,238.92 319.80,239.50 320.30,240.07 320.80,240.64 321.30,241.20 321.80,241.74 322.30,242.28 322.80,242.81 323.30,243.33 323.80,243.85 324.30,244.36 324.80,244.87 325.30,245.37 325.80,245.87 326.30,246.37 326.80,246.87 327.30,247.36 327.80,247.85 328.30,248.35 328.80,248.84 329.30,249.33 329.80,249.82 330.30,250.31 330.80,250.81 331.30,251.30 331.80,251.80 332.30,252.30 332.80,252.79 333.30,253.28 333.80,253.76 334.30,254.24 334.80,254.72 335.30,255.20 335.80,255.68 336.30,256.15 336.80,256.63 337.30,257.11 337.80,257.60 338.30,258.09 338.80,258.59 339.30,259.09 339.80,259.61 340.30,260.14 340.80,260.68 341.30,261.25 341.80,261.83 342.30,262.45 342.80,263.10 343.30,263.80 343.80,264.53 344.30,265.30 344.80,266.10 345.30,266.92 345.80,267.75 346.30,268.56 346.80,269.36 347.30,270.10 347.80,270.83 348.30,271.56 348.80,272.29 349.30,273.03 349.80,273.75 350.30,274.47 350.80,275.16 351.30,275.83 351.80,276.47 352.30,277.08 352.80,277.65 353.30,278.21 353.80,278.73 354.30,279.25 354.80,279.76 355.30,280.25 355.80,280.73 356.30,281.19 356.80,281.65 357.30,282.08 357.80,282.51 358.30,282.91 358.80,283.31 359.30,283.68 359.80,284.06 360.30,284.39 360.80,284.73 361.30,285.04 361.80,285.35 362.30,285.63 362.80,285.90 363.30,286.17 363.80,286.42 364.30,286.67 364.80,286.90 365.30,287.12 365.80,287.35 366.30,287.56 366.80,287.77 367.30,287.97 367.80,288.17 368.30,288.37 368.80,288.56 369.30,288.75 369.80,288.94 370.30,289.13 370.80,289.31 371.30,289.49 371.80,289.66 372.30,289.83 372.80,290.00 373.30,290.17 373.80,290.32 374.30,290.48 374.80,290.63 375.30,290.77 375.80,290.91 376.30,291.04 376.80,291.17 377.30,291.29 377.80,291.41 378.30,291.52 378.80,291.63 379.30,291.73 379.80,291.82 380.30,291.92 380.80,292.01 381.30,292.09 381.80,292.18 382.30,292.26 382.80,292.34 383.30,292.41 383.80,292.48 384.30,292.55 384.80,292.61 385.30,292.67 385.80,292.72 386.30,292.77 386.80,292.81 387.30,292.85 387.80,292.88 388.30,292.92 388.80,292.94 389.30,292.96 389.80,292.98 390.30,292.98 390.80,292.99 391.30,293.00 391.80,292.99 392.30,292.98 392.80,292.97 393.30,292.96 393.80,292.94 394.30,292.92 394.80,292.89 395.30,292.87 395.80,292.84 396.30,292.80 396.80,292.77 397.30,292.74 397.80,292.70 398.30,292.67 398.80,292.63 399.30,292.59 399.80,292.55 400.30,292.51 400.80,292.47 401.30,292.43 401.80,292.38 402.30,292.34 402.80,292.30 403.30,292.26 403.80,292.21 404.30,292.17 404.80,292.12 405.30,292.08 405.80,292.04 406.30,291.99 406.80,291.96 407.30,291.92" fill="none" stroke="#9a9a9a" stroke-width="0.6" />
<polyline points="287.80,266.90 288.30,267.00 288.80,267.10 289.30,267.19 289.80,267.29 290.30,267.38 290.80,267.47 291.30,267.57 291.80,267.66 292.30,267.76 292.80,267.86 293.30,267.96 293.80,268.06 294.30,268.16 294.80,268.27 295.30,268.38 295.80,268.49 296.30,268.60 296.80,268.72 297.30,268.84 297.80,268.96 298.30,269.10 298.80,269.24 299.30,269.37 299.80,269.52 300.30,269.68 300.80,269.84 301.30,270.00 301.80,270.17 302.30,270.34 302.80,270.52 303.30,270.70 303.80,270.88 304.30,271.06 304.80,271.24 305.30,271.43 305.80,271.62 306.30,271.81 306.80,272.00 307.30,272.19 307.80,272.37 308.30,272.56 308.80,272.75 309.30,272.94 309.80,273.13 310.30,273.31 310.80,273.50 311.30,273.68 311.80,273.85 312.30,274.03 312.80,274.20 313.30,274.36 313.80,274.52 314.30,274.68 314.80,274.84 315.30,274.99 315.80,275.14 316.30,275.29 316.80,275.43 317.30,275.57 317.80,275.72 318.30,275.86 318.80,276.00 319.30,276.14 319.80,276.28 320.30,276.43 320.80,276.58 321.30,276.73 321.80,276.88 322.30,277.04 322.80,277.20 323.30,277.36 323.80,277.52 324.30,277.69 324.80,277.85 325.30,278.02 325.80,278.19 326.30,278.35 326.80,278.52 327.30,278.69 327.80,278.86 328.30,279.03 328.80,279.20 329.30,279.37 329.80,279.54 330.30,279.72 330.80,279.89 331.30,280.06 331.80,280.24 332.30,280.41 332.80,280.58 333.30,280.76 333.80,280.93 334.30,281.11 334.80,281.28 335.30,281.46 335.80,281.65 336.30,281.83 336.80,282.02 337.30,282.21 337.80,282.40 338.30,282.59 338.80,282.78 339.30,282.96 339.80,283.14 340.30,283.32 340.80,283.50 341.30,283.66 341.80,283.83 342.30,283.99 342.80,284.15 343.30,284.31 343.80,284.47 344.30,284.62 344.80,284.77 345.30,284.92 345.80,285.07 346.30,285.22 346.80,285.37 347.30,285.51 347.80,285.66 348.30,285.81 348.80,285.96 349.30,286.10 349.80,286.25 350.30,286.40 350.80,286.55 351.30,286.70 351.80,286.85 352.30,287.00 352.80,287.16 353.30,287.31 353.80,287.46 354.30,287.61 354.80,287.77 355.30,287.92 355.80,288.07 356.30,288.22 356.80,288.38 357.30,288.53 357.80,288.68 358.30,288.83 358.80,288.98 359.30,289.13 359.80,289.28 360.30,289.42 360.80,289.57 361.30,289.72 361.80,289.86 362.30,290.01 362.80,290.16 363.30,290.30 363.80,290.45 364.30,290.60 364.80,290.74 365.30,290.89 365.80,291.03 366.30,291.17 366.80,291.31 367.30,291.45 367.80,291.59 368.30,291.73 368.80,291.86 369.30,291.99 369.80,292.12 370.30,292.25 370.80,292.38 371.30,292.50 371.80,292.63 372.30,292.75 372.80,292.88 373.30,293.00 373.80,293.13 374.30,293.25 374.80,293.37 375.30,293.49 375.80,293.60 376.30,293.71 376.80,293.81 377.30,293.91 377.80,294.01 378.30,294.10 378.80,294.19 379.30,294.27 379.80,294.34 380.30,294.41 380.80,294.48 381.30,294.54 381.80,294.60 382.30,294.66 382.80,294.72 383.30,294.77 383.80,294.83 384.30,294.87 384.80,294.91 385.30,294.96 385.80,294.99 386.30,295.02 386.80,295.05 387.30,295.07 387.80,295.09 388.30,295.11 388.80,295.11 389.30,295.12 389.80,295.12 390.30,295.12 390.80,295.11 391.30,295.10 391.80,295.09 392.30,295.06 392.80,295.04 393.30,295.02 393.80,294.99 394.30,294.95 394.80,294.92 395.30,294.88 395.80,294.84 396.30,294.80 396.80,294.76 397.30,294.71 397.80,294.67 398.30,294.63 398.80,294.58 399.30,294.53 399.80,294.48 400.30,294.43 400.80,294.38 401.30,294.33 401.80,294.28 402.30,294.23 402.80,294.18 403.30,294.13 403.80,294.08 404.30,294.02 404.80,293.97 405.30,293.92 405.80,293.87 406.30,293.82 406.80,293.77 407.30,293.72" fill="none" stroke="#9a9a9a" stroke-width="0.6" />
<polyline points="287.80,240.60 288.30,240.75 288.80,240.90 289.30,241.04 289.80,241.19 290.30,241.33 290.80,241.48 291.30,241.63 291.80,241.78 292.30,241.94 292.80,242.10 293.30,242.27 293.80,242.44 294.30,242.62 294.80,242.82 295.30,243.02 295.80,243.23 296.30,243.46 296.80,243.69 297.30,243.93 297.80,244.18 298.30,244.44 298.80,244.71 299.30,244.98 299.80,245.26 300.30,245.54 300.80,245.83 301.30,246.13 301.80,246.43 302.30,246.74 302.80,247.05 303.30,247.36 303.80,247.69 304.30,248.01 304.80,248.35 305.30,248.69 305.80,249.03 306.30,249.38 306.80,249.73 307.30,250.08 307.80,250.43 308.30,250.79 308.80,251.15 309.30,251.51 309.80,251.87 310.30,252.22 310.80,252.58 311.30,252.94 311.80,253.29 312.30,253.65 312.80,254.00 313.30,254.35 313.80,254.70 314.30,255.05 314.80,255.40 315.30,255.75 315.80,256.10 316.30,256.45 316.80,256.80 317.30,257.15 317.80,257.51 318.30,257.86 318.80,258.21 319.30,258.56 319.80,258.91 320.30,259.26 320.80,259.61 321.30,259.96 321.80,260.31 322.30,260.66 322.80,261.01 323.30,261.36 323.80,261.72 324.30,262.07 324.80,262.43 325.30,262.78 325.80,263.14 326.30,263.50 326.80,263.85 327.30,264.21 327.80,264.56 328.30,264.91 328.80,265.26 329.30,265.61 329.80,265.96 330.30,266.30 330.80,266.64 331.30,266.97 331.80,267.30 332.30,267.63 332.80,267.94 333.30,268.26 333.80,268.56 334.30,268.86 334.80,269.16 335.30,269.45 335.80,269.75 336.30,270.03 336.80,270.32 337.30,270.61 337.80,270.90 338.30,271.19 338.80,271.49 339.30,271.78 339.80,272.09 340.30,272.39 340.80,272.71 341.30,273.04 341.80,273.37 342.30,273.73 342.80,274.11 343.30,274.50 343.80,274.92 344.30,275.34 344.80,275.79 345.30,276.24 345.80,276.69 346.30,277.12 346.80,277.55 347.30,277.94 347.80,278.32 348.30,278.68 348.80,279.04 349.30,279.38 349.80,279.71 350.30,280.04 350.80,280.37 351.30,280.69 351.80,281.01 352.30,281.33 352.80,281.64 353.30,281.97 353.80,282.29 354.30,282.62 354.80,282.96 355.30,283.29 355.80,283.63 356.30,283.96 356.80,284.29 357.30,284.61 357.80,284.93 358.30,285.24 358.80,285.54 359.30,285.83 359.80,286.12 360.30,286.38 360.80,286.65 361.30,286.89 361.80,287.14 362.30,287.37 362.80,287.60 363.30,287.83 363.80,288.04 364.30,288.26 364.80,288.47 365.30,288.67 365.80,288.88 366.30,289.07 366.80,289.27 367.30,289.46 367.80,289.64 368.30,289.83 368.80,290.01 369.30,290.19 369.80,290.36 370.30,290.53 370.80,290.70 371.30,290.87 371.80,291.03 372.30,291.20 372.80,291.36 373.30,291.51 373.80,291.67 374.30,291.82 374.80,291.96 375.30,292.11 375.80,292.24 376.30,292.38 376.80,292.50 377.30,292.62 377.80,292.74 378.30,292.84 378.80,292.95 379.30,293.04 379.80,293.13 380.30,293.21 380.80,293.29 381.30,293.36 381.80,293.42 382.30,293.48 382.80,293.54 383.30,293.59 383.80,293.64 384.30,293.68 384.80,293.72 385.30,293.76 385.80,293.80 386.30,293.83 386.80,293.86 387.30,293.88 387.80,293.91 388.30,293.93 388.80,293.95 389.30,293.96 389.80,293.97 390.30,293.99 390.80,293.99 391.30,294.00 391.80,294.00 392.30,293.99 392.80,293.98 393.30,293.95 393.80,293.93 394.30,293.89 394.80,293.85 395.30,293.80 395.80,293.75 396.30,293.70 396.80,293.64 397.30,293.58 397.80,293.52 398.30,293.46 398.80,293.41 399.30,293.36 399.80,293.32 400.30,293.28 400.80,293.24 401.30,293.21 401.80,293.17 402.30,293.14 402.80,293.10 403.30,293.07 403.80,293.04 404.30,293.01 404.80,292.97 405.30,292.94 405.80,292.91 406.30,292.88 406.80,292.85 407.30,292.81" fill="none" stroke="#a50d35" stroke-width="2.3" stroke-linecap="round"/>
<line x1="403.20" y1="211.40" x2="403.20" y2="299.20" stroke="#a8a8a8" stroke-width="0.8" />
<line x1="390.70" y1="211.40" x2="390.70" y2="299.20" stroke="#1a1a1a" stroke-width="1.2" stroke-dasharray="4.3,2.7"/>
<rect x="284.60" y="211.40" width="126.40" height="87.80" fill="none" stroke="#1e1e1e" stroke-width="1.2"/>
<line x1="282.00" y1="288.30" x2="284.60" y2="288.30" stroke="#1e1e1e" stroke-width="1" />
<text x="278.30" y="290.67" font-size="6.9" text-anchor="end">10</text>
<line x1="282.00" y1="272.75" x2="284.60" y2="272.75" stroke="#1e1e1e" stroke-width="1" />
<text x="278.30" y="275.12" font-size="6.9" text-anchor="end">15</text>
<line x1="282.00" y1="257.20" x2="284.60" y2="257.20" stroke="#1e1e1e" stroke-width="1" />
<text x="278.30" y="259.57" font-size="6.9" text-anchor="end">20</text>
<line x1="282.00" y1="241.65" x2="284.60" y2="241.65" stroke="#1e1e1e" stroke-width="1" />
<text x="278.30" y="244.02" font-size="6.9" text-anchor="end">25</text>
<line x1="282.00" y1="226.10" x2="284.60" y2="226.10" stroke="#1e1e1e" stroke-width="1" />
<text x="278.30" y="228.47" font-size="6.9" text-anchor="end">30</text>
<line x1="295.30" y1="299.20" x2="295.30" y2="301.80" stroke="#1e1e1e" stroke-width="1" />
<text x="295.30" y="311.17" font-size="6.9" text-anchor="middle">−7</text>
<line x1="314.12" y1="299.20" x2="314.12" y2="301.80" stroke="#1e1e1e" stroke-width="1" />
<text x="314.12" y="311.17" font-size="6.9" text-anchor="middle">−6</text>
<line x1="332.94" y1="299.20" x2="332.94" y2="301.80" stroke="#1e1e1e" stroke-width="1" />
<text x="332.94" y="311.17" font-size="6.9" text-anchor="middle">−5</text>
<line x1="351.76" y1="299.20" x2="351.76" y2="301.80" stroke="#1e1e1e" stroke-width="1" />
<text x="351.76" y="311.17" font-size="6.9" text-anchor="middle">−4</text>
<line x1="370.58" y1="299.20" x2="370.58" y2="301.80" stroke="#1e1e1e" stroke-width="1" />
<text x="370.58" y="311.17" font-size="6.9" text-anchor="middle">−3</text>
<line x1="389.40" y1="299.20" x2="389.40" y2="301.80" stroke="#1e1e1e" stroke-width="1" />
<text x="389.40" y="311.17" font-size="6.9" text-anchor="middle">−2</text>
<line x1="408.22" y1="299.20" x2="408.22" y2="301.80" stroke="#1e1e1e" stroke-width="1" />
<text x="408.22" y="311.17" font-size="6.9" text-anchor="middle">−1</text>
<text x="288.40" y="205.57" font-size="6.6" text-anchor="middle">27</text>
<text x="298.80" y="205.57" font-size="6.6" text-anchor="middle">26</text>
<text x="309.20" y="205.57" font-size="6.6" text-anchor="middle">26</text>
<text x="319.60" y="205.57" font-size="6.6" text-anchor="middle">25</text>
<text x="330.30" y="205.57" font-size="6.6" text-anchor="middle">22</text>
<text x="341.20" y="205.57" font-size="6.6" text-anchor="middle">22</text>
<text x="351.30" y="205.57" font-size="6.6" text-anchor="middle">21</text>
<text x="362.50" y="205.57" font-size="6.6" text-anchor="middle">18</text>
<text x="372.90" y="205.57" font-size="6.6" text-anchor="middle">15</text>
<text x="383.30" y="205.57" font-size="6.6" text-anchor="middle">10</text>
<text x="391.90" y="205.57" font-size="6.6" text-anchor="middle">8</text>
<text x="399.20" y="205.57" font-size="6.6" text-anchor="middle">4</text>
<text x="406.60" y="205.57" font-size="6.6" text-anchor="middle">0</text>
<text x="380.20" y="191.27" font-size="6.6" textLength="34.90" lengthAdjust="spacingAndGlyphs">8 indicators</text>
<line x1="402.30" y1="196.40" x2="393.87" y2="207.28" stroke="#111" stroke-width="1.05" />
<polygon points="391.60,210.20 392.59,205.66 395.75,208.11" fill="#111" stroke="none" stroke-width="0.5" />
<text x="347.90" y="323.20" font-size="9.5" text-anchor="middle" textLength="22.60" lengthAdjust="spacingAndGlyphs">Log (λ)</text>
<text x="392.00" y="322.60" font-size="6.4" textLength="41.10" lengthAdjust="spacingAndGlyphs">λ.min = 0.143</text>
<line x1="404.90" y1="312.30" x2="394.20" y2="303.02" stroke="#111" stroke-width="1.05" />
<polygon points="391.40,300.60 395.88,301.84 393.26,304.86" fill="#111" stroke="none" stroke-width="0.5" />
<text x="262.20" y="258.15" font-size="9.0" text-anchor="middle" textLength="82.50" lengthAdjust="spacingAndGlyphs" transform="rotate(-90 262.20 255.00)">Partial likelihood deviance</text>
<text x="6.6" y="352.5" font-size="12.6" font-weight="bold" fill="#000" stroke="#000" stroke-width="0.45">C</text>
<line x1="49.00" y1="446.70" x2="133.30" y2="362.20" stroke="#1c3f73" stroke-width="1.05" />
<polyline points="49.00,446.70 49.00,444.16 50.69,444.16 50.69,441.63 52.37,441.63 52.37,439.09 54.06,439.09 54.06,436.56 55.74,436.56 55.74,433.18 57.43,433.18 57.43,429.80 58.27,429.80 58.27,426.42 59.96,426.42 59.96,423.88 61.65,423.88 61.65,421.35 63.33,421.35 63.33,417.12 65.02,417.12 65.02,411.21 65.86,411.21 65.86,406.14 67.55,406.14 67.55,403.61 69.23,403.61 69.23,401.07 70.92,401.07 70.92,397.69 74.29,397.69 74.29,396.00 77.66,396.00 77.66,395.15 86.94,395.15 86.94,390.93 88.62,390.93 88.62,387.55 91.15,387.55 91.15,385.86 94.52,385.86 94.52,384.17 97.89,384.17 97.89,380.79 99.58,380.79 99.58,378.25 102.95,378.25 102.95,376.56 108.01,376.56 108.01,374.88 112.23,374.88 112.23,372.34 113.91,372.34 113.91,368.96 116.44,368.96 116.44,366.42 118.97,366.42 118.97,364.74 129.09,364.74 129.09,363.04 133.30,363.04 133.30,362.20" fill="none" stroke="#c0102e" stroke-width="1.6" />
<polygon points="49.00,445.10 49.42,446.12 50.52,446.21 49.68,446.92 49.94,447.99 49.00,447.42 48.06,447.99 48.32,446.92 47.48,446.21 48.58,446.12" fill="#c0102e" stroke="none" stroke-width="0.5" />
<polygon points="49.00,442.56 49.42,443.58 50.52,443.67 49.68,444.39 49.94,445.46 49.00,444.88 48.06,445.46 48.32,444.39 47.48,443.67 48.58,443.58" fill="#c0102e" stroke="none" stroke-width="0.5" />
<polygon points="50.69,442.56 51.11,443.58 52.21,443.67 51.37,444.39 51.63,445.46 50.69,444.88 49.75,445.46 50.00,444.39 49.16,443.67 50.26,443.58" fill="#c0102e" stroke="none" stroke-width="0.5" />
<polygon points="50.69,440.03 51.11,441.05 52.21,441.14 51.37,441.85 51.63,442.92 50.69,442.35 49.75,442.92 50.00,441.85 49.16,441.14 50.26,441.05" fill="#c0102e" stroke="none" stroke-width="0.5" />
<polygon points="52.37,440.03 52.80,441.05 53.89,441.14 53.06,441.85 53.31,442.92 52.37,442.35 51.43,442.92 51.69,441.85 50.85,441.14 51.95,441.05" fill="#c0102e" stroke="none" stroke-width="0.5" />
<polygon points="52.37,437.49 52.80,438.51 53.89,438.60 53.06,439.32 53.31,440.39 52.37,439.81 51.43,440.39 51.69,439.32 50.85,438.60 51.95,438.51" fill="#c0102e" stroke="none" stroke-width="0.5" />
<polygon points="54.06,437.49 54.48,438.51 55.58,438.60 54.74,439.32 55.00,440.39 54.06,439.81 53.12,440.39 53.37,439.32 52.54,438.60 53.63,438.51" fill="#c0102e" stroke="none" stroke-width="0.5" />
<polygon points="54.06,434.96 54.48,435.98 55.58,436.07 54.74,436.78 55.00,437.85 54.06,437.28 53.12,437.85 53.37,436.78 52.54,436.07 53.63,435.98" fill="#c0102e" stroke="none" stroke-width="0.5" />
<polygon points="55.74,434.96 56.17,435.98 57.27,436.07 56.43,436.78 56.68,437.85 55.74,437.28 54.80,437.85 55.06,436.78 54.22,436.07 55.32,435.98" fill="#c0102e" stroke="none" stroke-width="0.5" />
<polygon points="55.74,431.58 56.17,432.60 57.27,432.69 56.43,433.40 56.68,434.47 55.74,433.90 54.80,434.47 55.06,433.40 54.22,432.69 55.32,432.60" fill="#c0102e" stroke="none" stroke-width="0.5" />
<polygon points="57.43,431.58 57.85,432.60 58.95,432.69 58.11,433.40 58.37,434.47 57.43,433.90 56.49,434.47 56.75,433.40 55.91,432.69 57.01,432.60" fill="#c0102e" stroke="none" stroke-width="0.5" />
<polygon points="57.43,428.20 57.85,429.22 58.95,429.31 58.11,430.02 58.37,431.09 57.43,430.52 56.49,431.09 56.75,430.02 55.91,429.31 57.01,429.22" fill="#c0102e" stroke="none" stroke-width="0.5" />
<polygon points="58.27,428.20 58.70,429.22 59.79,429.31 58.96,430.02 59.21,431.09 58.27,430.52 57.33,431.09 57.59,430.02 56.75,429.31 57.85,429.22" fill="#c0102e" stroke="none" stroke-width="0.5" />
<polygon points="58.27,424.82 58.70,425.84 59.79,425.93 58.96,426.64 59.21,427.71 58.27,427.14 57.33,427.71 57.59,426.64 56.75,425.93 57.85,425.84" fill="#c0102e" stroke="none" stroke-width="0.5" />
<polygon points="59.96,424.82 60.38,425.84 61.48,425.93 60.64,426.64 60.90,427.71 59.96,427.14 59.02,427.71 59.27,426.64 58.44,425.93 59.54,425.84" fill="#c0102e" stroke="none" stroke-width="0.5" />
<polygon points="59.96,422.28 60.38,423.30 61.48,423.39 60.64,424.11 60.90,425.18 59.96,424.61 59.02,425.18 59.27,424.11 58.44,423.39 59.54,423.30" fill="#c0102e" stroke="none" stroke-width="0.5" />
<polygon points="61.65,422.28 62.07,423.30 63.17,423.39 62.33,424.11 62.59,425.18 61.65,424.61 60.70,425.18 60.96,424.11 60.12,423.39 61.22,423.30" fill="#c0102e" stroke="none" stroke-width="0.5" />
<polygon points="61.65,419.75 62.07,420.77 63.17,420.86 62.33,421.57 62.59,422.64 61.65,422.07 60.70,422.64 60.96,421.57 60.12,420.86 61.22,420.77" fill="#c0102e" stroke="none" stroke-width="0.5" />
<polygon points="63.33,419.75 63.75,420.77 64.85,420.86 64.02,421.57 64.27,422.64 63.33,422.07 62.39,422.64 62.65,421.57 61.81,420.86 62.91,420.77" fill="#c0102e" stroke="none" stroke-width="0.5" />
<polygon points="63.33,417.64 63.75,418.66 64.85,418.74 64.02,419.46 64.27,420.53 63.33,419.96 62.39,420.53 62.65,419.46 61.81,418.74 62.91,418.66" fill="#c0102e" stroke="none" stroke-width="0.5" />
<polygon points="63.33,415.52 63.75,416.54 64.85,416.63 64.02,417.35 64.27,418.42 63.33,417.85 62.39,418.42 62.65,417.35 61.81,416.63 62.91,416.54" fill="#c0102e" stroke="none" stroke-width="0.5" />
<polygon points="65.02,415.52 65.44,416.54 66.54,416.63 65.70,417.35 65.96,418.42 65.02,417.85 64.08,418.42 64.33,417.35 63.50,416.63 64.59,416.54" fill="#c0102e" stroke="none" stroke-width="0.5" />
<polygon points="65.02,413.55 65.44,414.57 66.54,414.66 65.70,415.38 65.96,416.45 65.02,415.87 64.08,416.45 64.33,415.38 63.50,414.66 64.59,414.57" fill="#c0102e" stroke="none" stroke-width="0.5" />
<polygon points="65.02,411.58 65.44,412.60 66.54,412.69 65.70,413.40 65.96,414.48 65.02,413.90 64.08,414.48 64.33,413.40 63.50,412.69 64.59,412.60" fill="#c0102e" stroke="none" stroke-width="0.5" />
<polygon points="65.02,409.61 65.44,410.63 66.54,410.72 65.70,411.43 65.96,412.50 65.02,411.93 64.08,412.50 64.33,411.43 63.50,410.72 64.59,410.63" fill="#c0102e" stroke="none" stroke-width="0.5" />
<polygon points="65.86,409.61 66.28,410.63 67.38,410.72 66.54,411.43 66.80,412.50 65.86,411.93 64.92,412.50 65.18,411.43 64.34,410.72 65.44,410.63" fill="#c0102e" stroke="none" stroke-width="0.5" />
<polygon points="65.86,407.07 66.28,408.09 67.38,408.18 66.54,408.90 66.80,409.97 65.86,409.39 64.92,409.97 65.18,408.90 64.34,408.18 65.44,408.09" fill="#c0102e" stroke="none" stroke-width="0.5" />
<polygon points="65.86,404.54 66.28,405.56 67.38,405.65 66.54,406.36 66.80,407.43 65.86,406.86 64.92,407.43 65.18,406.36 64.34,405.65 65.44,405.56" fill="#c0102e" stroke="none" stroke-width="0.5" />
<polygon points="67.55,404.54 67.97,405.56 69.07,405.65 68.23,406.36 68.49,407.43 67.55,406.86 66.61,407.43 66.86,406.36 66.02,405.65 67.12,405.56" fill="#c0102e" stroke="none" stroke-width="0.5" />
<polygon points="67.55,402.00 67.97,403.02 69.07,403.11 68.23,403.83 68.49,404.90 67.55,404.33 66.61,404.90 66.86,403.83 66.02,403.11 67.12,403.02" fill="#c0102e" stroke="none" stroke-width="0.5" />
<polygon points="69.23,402.00 69.66,403.02 70.75,403.11 69.92,403.83 70.17,404.90 69.23,404.33 68.29,404.90 68.55,403.83 67.71,403.11 68.81,403.02" fill="#c0102e" stroke="none" stroke-width="0.5" />
<polygon points="69.23,399.47 69.66,400.49 70.75,400.58 69.92,401.29 70.17,402.36 69.23,401.79 68.29,402.36 68.55,401.29 67.71,400.58 68.81,400.49" fill="#c0102e" stroke="none" stroke-width="0.5" />
<polygon points="70.92,399.47 71.34,400.49 72.44,400.58 71.60,401.29 71.86,402.36 70.92,401.79 69.98,402.36 70.23,401.29 69.40,400.58 70.49,400.49" fill="#c0102e" stroke="none" stroke-width="0.5" />
<polygon points="70.92,396.09 71.34,397.11 72.44,397.20 71.60,397.91 71.86,398.98 70.92,398.41 69.98,398.98 70.23,397.91 69.40,397.20 70.49,397.11" fill="#c0102e" stroke="none" stroke-width="0.5" />
<polygon points="74.29,396.09 74.71,397.11 75.81,397.20 74.97,397.91 75.23,398.98 74.29,398.41 73.35,398.98 73.61,397.91 72.77,397.20 73.87,397.11" fill="#c0102e" stroke="none" stroke-width="0.5" />
<polygon points="74.29,394.40 74.71,395.42 75.81,395.51 74.97,396.22 75.23,397.29 74.29,396.72 73.35,397.29 73.61,396.22 72.77,395.51 73.87,395.42" fill="#c0102e" stroke="none" stroke-width="0.5" />
<polygon points="77.66,394.40 78.09,395.42 79.18,395.51 78.35,396.22 78.60,397.29 77.66,396.72 76.72,397.29 76.98,396.22 76.14,395.51 77.24,395.42" fill="#c0102e" stroke="none" stroke-width="0.5" />
<polygon points="77.66,393.55 78.09,394.57 79.18,394.66 78.35,395.38 78.60,396.45 77.66,395.88 76.72,396.45 76.98,395.38 76.14,394.66 77.24,394.57" fill="#c0102e" stroke="none" stroke-width="0.5" />
<polygon points="79.98,393.55 80.40,394.57 81.50,394.66 80.67,395.38 80.92,396.45 79.98,395.88 79.04,396.45 79.30,395.38 78.46,394.66 79.56,394.57" fill="#c0102e" stroke="none" stroke-width="0.5" />
<polygon points="82.30,393.55 82.72,394.57 83.82,394.66 82.98,395.38 83.24,396.45 82.30,395.88 81.36,396.45 81.61,395.38 80.78,394.66 81.88,394.57" fill="#c0102e" stroke="none" stroke-width="0.5" />
<polygon points="84.62,393.55 85.04,394.57 86.14,394.66 85.30,395.38 85.56,396.45 84.62,395.88 83.68,396.45 83.93,395.38 83.10,394.66 84.19,394.57" fill="#c0102e" stroke="none" stroke-width="0.5" />
<polygon points="86.94,393.55 87.36,394.57 88.46,394.66 87.62,395.38 87.88,396.45 86.94,395.88 85.99,396.45 86.25,395.38 85.41,394.66 86.51,394.57" fill="#c0102e" stroke="none" stroke-width="0.5" />
<polygon points="86.94,391.44 87.36,392.46 88.46,392.55 87.62,393.26 87.88,394.34 86.94,393.76 85.99,394.34 86.25,393.26 85.41,392.55 86.51,392.46" fill="#c0102e" stroke="none" stroke-width="0.5" />
<polygon points="86.94,389.33 87.36,390.35 88.46,390.44 87.62,391.15 87.88,392.22 86.94,391.65 85.99,392.22 86.25,391.15 85.41,390.44 86.51,390.35" fill="#c0102e" stroke="none" stroke-width="0.5" />
<polygon points="88.62,389.33 89.04,390.35 90.14,390.44 89.31,391.15 89.56,392.22 88.62,391.65 87.68,392.22 87.94,391.15 87.10,390.44 88.20,390.35" fill="#c0102e" stroke="none" stroke-width="0.5" />
<polygon points="88.62,385.95 89.04,386.97 90.14,387.06 89.31,387.77 89.56,388.84 88.62,388.27 87.68,388.84 87.94,387.77 87.10,387.06 88.20,386.97" fill="#c0102e" stroke="none" stroke-width="0.5" />
<polygon points="91.15,385.95 91.57,386.97 92.67,387.06 91.83,387.77 92.09,388.84 91.15,388.27 90.21,388.84 90.47,387.77 89.63,387.06 90.73,386.97" fill="#c0102e" stroke="none" stroke-width="0.5" />
<polygon points="91.15,384.26 91.57,385.28 92.67,385.37 91.83,386.08 92.09,387.15 91.15,386.58 90.21,387.15 90.47,386.08 89.63,385.37 90.73,385.28" fill="#c0102e" stroke="none" stroke-width="0.5" />
<polygon points="94.52,384.26 94.95,385.28 96.04,385.37 95.21,386.08 95.46,387.15 94.52,386.58 93.58,387.15 93.84,386.08 93.00,385.37 94.10,385.28" fill="#c0102e" stroke="none" stroke-width="0.5" />
<polygon points="94.52,382.57 94.95,383.59 96.04,383.68 95.21,384.39 95.46,385.46 94.52,384.89 93.58,385.46 93.84,384.39 93.00,383.68 94.10,383.59" fill="#c0102e" stroke="none" stroke-width="0.5" />
<polygon points="97.89,382.57 98.32,383.59 99.42,383.68 98.58,384.39 98.83,385.46 97.89,384.89 96.95,385.46 97.21,384.39 96.37,383.68 97.47,383.59" fill="#c0102e" stroke="none" stroke-width="0.5" />
<polygon points="97.89,379.19 98.32,380.21 99.42,380.30 98.58,381.01 98.83,382.08 97.89,381.51 96.95,382.08 97.21,381.01 96.37,380.30 97.47,380.21" fill="#c0102e" stroke="none" stroke-width="0.5" />
<polygon points="99.58,379.19 100.00,380.21 101.10,380.30 100.26,381.01 100.52,382.08 99.58,381.51 98.64,382.08 98.90,381.01 98.06,380.30 99.16,380.21" fill="#c0102e" stroke="none" stroke-width="0.5" />
<polygon points="99.58,376.65 100.00,377.67 101.10,377.76 100.26,378.48 100.52,379.55 99.58,378.98 98.64,379.55 98.90,378.48 98.06,377.76 99.16,377.67" fill="#c0102e" stroke="none" stroke-width="0.5" />
<polygon points="102.95,376.65 103.38,377.67 104.47,377.76 103.64,378.48 103.89,379.55 102.95,378.98 102.01,379.55 102.27,378.48 101.43,377.76 102.53,377.67" fill="#c0102e" stroke="none" stroke-width="0.5" />
<polygon points="102.95,374.96 103.38,375.98 104.47,376.07 103.64,376.79 103.89,377.86 102.95,377.29 102.01,377.86 102.27,376.79 101.43,376.07 102.53,375.98" fill="#c0102e" stroke="none" stroke-width="0.5" />
<polygon points="105.48,374.96 105.90,375.98 107.00,376.07 106.17,376.79 106.42,377.86 105.48,377.29 104.54,377.86 104.80,376.79 103.96,376.07 105.06,375.98" fill="#c0102e" stroke="none" stroke-width="0.5" />
<polygon points="108.01,374.96 108.43,375.98 109.53,376.07 108.69,376.79 108.95,377.86 108.01,377.29 107.07,377.86 107.33,376.79 106.49,376.07 107.59,375.98" fill="#c0102e" stroke="none" stroke-width="0.5" />
<polygon points="108.01,373.27 108.43,374.29 109.53,374.38 108.69,375.10 108.95,376.17 108.01,375.60 107.07,376.17 107.33,375.10 106.49,374.38 107.59,374.29" fill="#c0102e" stroke="none" stroke-width="0.5" />
<polygon points="110.12,373.27 110.54,374.29 111.64,374.38 110.80,375.10 111.06,376.17 110.12,375.60 109.18,376.17 109.43,375.10 108.60,374.38 109.69,374.29" fill="#c0102e" stroke="none" stroke-width="0.5" />
<polygon points="112.23,373.27 112.65,374.29 113.75,374.38 112.91,375.10 113.17,376.17 112.23,375.60 111.28,376.17 111.54,375.10 110.70,374.38 111.80,374.29" fill="#c0102e" stroke="none" stroke-width="0.5" />
<polygon points="112.23,370.74 112.65,371.76 113.75,371.85 112.91,372.56 113.17,373.63 112.23,373.06 111.28,373.63 111.54,372.56 110.70,371.85 111.80,371.76" fill="#c0102e" stroke="none" stroke-width="0.5" />
<polygon points="113.91,370.74 114.33,371.76 115.43,371.85 114.60,372.56 114.85,373.63 113.91,373.06 112.97,373.63 113.23,372.56 112.39,371.85 113.49,371.76" fill="#c0102e" stroke="none" stroke-width="0.5" />
<polygon points="113.91,367.36 114.33,368.38 115.43,368.47 114.60,369.18 114.85,370.25 113.91,369.68 112.97,370.25 113.23,369.18 112.39,368.47 113.49,368.38" fill="#c0102e" stroke="none" stroke-width="0.5" />
<polygon points="116.44,367.36 116.86,368.38 117.96,368.47 117.12,369.18 117.38,370.25 116.44,369.68 115.50,370.25 115.76,369.18 114.92,368.47 116.02,368.38" fill="#c0102e" stroke="none" stroke-width="0.5" />
<polygon points="116.44,364.82 116.86,365.84 117.96,365.93 117.12,366.65 117.38,367.72 116.44,367.14 115.50,367.72 115.76,366.65 114.92,365.93 116.02,365.84" fill="#c0102e" stroke="none" stroke-width="0.5" />
<polygon points="118.97,364.82 119.39,365.84 120.49,365.93 119.65,366.65 119.91,367.72 118.97,367.14 118.03,367.72 118.28,366.65 117.45,365.93 118.55,365.84" fill="#c0102e" stroke="none" stroke-width="0.5" />
<polygon points="118.97,363.13 119.39,364.15 120.49,364.24 119.65,364.96 119.91,366.03 118.97,365.46 118.03,366.03 118.28,364.96 117.45,364.24 118.55,364.15" fill="#c0102e" stroke="none" stroke-width="0.5" />
<polygon points="120.99,363.13 121.42,364.15 122.51,364.24 121.68,364.96 121.93,366.03 120.99,365.46 120.05,366.03 120.31,364.96 119.47,364.24 120.57,364.15" fill="#c0102e" stroke="none" stroke-width="0.5" />
<polygon points="123.02,363.13 123.44,364.15 124.54,364.24 123.70,364.96 123.96,366.03 123.02,365.46 122.07,366.03 122.33,364.96 121.49,364.24 122.59,364.15" fill="#c0102e" stroke="none" stroke-width="0.5" />
<polygon points="125.04,363.13 125.46,364.15 126.56,364.24 125.72,364.96 125.98,366.03 125.04,365.46 124.10,366.03 124.35,364.96 123.52,364.24 124.62,364.15" fill="#c0102e" stroke="none" stroke-width="0.5" />
<polygon points="127.06,363.13 127.49,364.15 128.58,364.24 127.75,364.96 128.00,366.03 127.06,365.46 126.12,366.03 126.38,364.96 125.54,364.24 126.64,364.15" fill="#c0102e" stroke="none" stroke-width="0.5" />
<polygon points="129.09,363.13 129.51,364.15 130.61,364.24 129.77,364.96 130.03,366.03 129.09,365.46 128.14,366.03 128.40,364.96 127.56,364.24 128.66,364.15" fill="#c0102e" stroke="none" stroke-width="0.5" />
<polygon points="129.09,361.44 129.51,362.46 130.61,362.55 129.77,363.27 130.03,364.34 129.09,363.76 128.14,364.34 128.40,363.27 127.56,362.55 128.66,362.46" fill="#c0102e" stroke="none" stroke-width="0.5" />
<polygon points="131.19,361.44 131.62,362.46 132.71,362.55 131.88,363.27 132.13,364.34 131.19,363.76 130.25,364.34 130.51,363.27 129.67,362.55 130.77,362.46" fill="#c0102e" stroke="none" stroke-width="0.5" />
<polygon points="133.30,361.44 133.72,362.46 134.82,362.55 133.98,363.27 134.24,364.34 133.30,363.76 132.36,364.34 132.62,363.27 131.78,362.55 132.88,362.46" fill="#c0102e" stroke="none" stroke-width="0.5" />
<polygon points="133.30,360.60 133.72,361.62 134.82,361.71 133.98,362.42 134.24,363.49 133.30,362.92 132.36,363.49 132.62,362.42 131.78,361.71 132.88,361.62" fill="#c0102e" stroke="none" stroke-width="0.5" />
<polyline points="49.00,442.47 49.84,438.25 51.53,434.87 53.22,433.18 55.74,431.49 57.43,428.95 59.12,426.42 60.80,423.88 61.65,421.35 63.33,418.81 65.86,415.01 133.30,362.20" fill="none" stroke="#3a9a3a" stroke-width="0.9" />
<polygon points="49.00,440.97 50.35,443.37 47.65,443.37" fill="#3a9a3a" stroke="none" stroke-width="0.5" />
<polygon points="49.84,436.75 51.19,439.15 48.49,439.15" fill="#3a9a3a" stroke="none" stroke-width="0.5" />
<polygon points="51.53,433.37 52.88,435.77 50.18,435.77" fill="#3a9a3a" stroke="none" stroke-width="0.5" />
<polygon points="53.22,431.68 54.57,434.08 51.87,434.08" fill="#3a9a3a" stroke="none" stroke-width="0.5" />
<polygon points="55.74,429.99 57.09,432.39 54.39,432.39" fill="#3a9a3a" stroke="none" stroke-width="0.5" />
<polygon points="57.43,427.45 58.78,429.85 56.08,429.85" fill="#3a9a3a" stroke="none" stroke-width="0.5" />
<polygon points="59.12,424.92 60.47,427.32 57.77,427.32" fill="#3a9a3a" stroke="none" stroke-width="0.5" />
<polygon points="60.80,422.38 62.15,424.78 59.45,424.78" fill="#3a9a3a" stroke="none" stroke-width="0.5" />
<polygon points="61.65,419.85 63.00,422.25 60.30,422.25" fill="#3a9a3a" stroke="none" stroke-width="0.5" />
<polygon points="63.33,417.31 64.68,419.71 61.98,419.71" fill="#3a9a3a" stroke="none" stroke-width="0.5" />
<polygon points="64.60,415.41 65.95,417.81 63.25,417.81" fill="#3a9a3a" stroke="none" stroke-width="0.5" />
<polygon points="65.86,413.51 67.21,415.91 64.51,415.91" fill="#3a9a3a" stroke="none" stroke-width="0.5" />
<rect x="49.00" y="362.20" width="84.30" height="84.50" fill="none" stroke="#1e1e1e" stroke-width="1.2"/>
<line x1="46.40" y1="446.70" x2="49.00" y2="446.70" stroke="#1e1e1e" stroke-width="1" />
<text x="42.60" y="449.07" font-size="6.9" text-anchor="end">0</text>
<line x1="49.00" y1="446.70" x2="49.00" y2="449.30" stroke="#1e1e1e" stroke-width="1" />
<text x="49.00" y="458.97" font-size="6.9" text-anchor="middle">0</text>
<line x1="46.40" y1="429.80" x2="49.00" y2="429.80" stroke="#1e1e1e" stroke-width="1" />
<text x="42.60" y="432.17" font-size="6.9" text-anchor="end">20</text>
<line x1="65.86" y1="446.70" x2="65.86" y2="449.30" stroke="#1e1e1e" stroke-width="1" />
<text x="65.86" y="458.97" font-size="6.9" text-anchor="middle">20</text>
<line x1="46.40" y1="412.90" x2="49.00" y2="412.90" stroke="#1e1e1e" stroke-width="1" />
<text x="42.60" y="415.27" font-size="6.9" text-anchor="end">40</text>
<line x1="82.72" y1="446.70" x2="82.72" y2="449.30" stroke="#1e1e1e" stroke-width="1" />
<text x="82.72" y="458.97" font-size="6.9" text-anchor="middle">40</text>
<line x1="46.40" y1="396.00" x2="49.00" y2="396.00" stroke="#1e1e1e" stroke-width="1" />
<text x="42.60" y="398.37" font-size="6.9" text-anchor="end">60</text>
<line x1="99.58" y1="446.70" x2="99.58" y2="449.30" stroke="#1e1e1e" stroke-width="1" />
<text x="99.58" y="458.97" font-size="6.9" text-anchor="middle">60</text>
<line x1="46.40" y1="379.10" x2="49.00" y2="379.10" stroke="#1e1e1e" stroke-width="1" />
<text x="42.60" y="381.47" font-size="6.9" text-anchor="end">80</text>
<line x1="116.44" y1="446.70" x2="116.44" y2="449.30" stroke="#1e1e1e" stroke-width="1" />
<text x="116.44" y="458.97" font-size="6.9" text-anchor="middle">80</text>
<line x1="46.40" y1="362.20" x2="49.00" y2="362.20" stroke="#1e1e1e" stroke-width="1" />
<text x="42.60" y="364.57" font-size="6.9" text-anchor="end">100</text>
<line x1="133.30" y1="446.70" x2="133.30" y2="449.30" stroke="#1e1e1e" stroke-width="1" />
<text x="133.30" y="458.97" font-size="6.9" text-anchor="middle">100</text>
<text x="23.00" y="407.88" font-size="8.8" text-anchor="middle" textLength="43.10" lengthAdjust="spacingAndGlyphs" transform="rotate(-90 23.00 404.80)">Sensitivity (%)</text>
<text x="91.80" y="471.30" font-size="9.2" text-anchor="middle" textLength="60.60" lengthAdjust="spacingAndGlyphs">100% - Specificity%</text>
<line x1="145.40" y1="378.30" x2="154.00" y2="378.30" stroke="#c0102e" stroke-width="1.0" />
<polygon points="149.70,376.60 150.15,377.68 151.32,377.77 150.43,378.54 150.70,379.68 149.70,379.06 148.70,379.68 148.97,378.54 148.08,377.77 149.25,377.68" fill="#c0102e" stroke="none" stroke-width="0.5" />
<text x="157.90" y="379.87" font-size="6.6" textLength="57.70" lengthAdjust="spacingAndGlyphs">sCD25 at diagnosis</text>
<line x1="145.40" y1="390.40" x2="154.00" y2="390.40" stroke="#3a9a3a" stroke-width="1.0" />
<polygon points="149.70,388.90 151.05,391.30 148.35,391.30" fill="#3a9a3a" stroke="none" stroke-width="0.5" />
<text x="157.90" y="392.07" font-size="6.6" textLength="57.70" lengthAdjust="spacingAndGlyphs">EBV load in plasma</text>
<text x="157.90" y="400.17" font-size="6.6" textLength="32.70" lengthAdjust="spacingAndGlyphs">after HSCT</text>
<text x="242.6" y="352.5" font-size="12.6" font-weight="bold" fill="#000" stroke="#000" stroke-width="0.45">G</text>
<line x1="285.50" y1="446.60" x2="370.30" y2="362.20" stroke="#1c3f73" stroke-width="1.05" />
<polyline points="285.50,446.60 286.35,446.60 286.35,439.85 287.20,439.85 288.47,439.85 288.47,431.41 289.74,431.41 291.01,431.41 291.01,423.47 292.28,423.47 294.32,423.47 294.32,425.50 300.59,425.50 300.59,421.36 301.48,421.36 301.48,418.79 303.27,418.79 303.27,416.22 304.16,416.22 305.12,416.22 305.12,414.13 307.04,414.13 307.04,412.05 308.96,412.05 308.96,409.97 309.92,409.97 309.92,388.79 311.22,388.79 311.22,388.57 313.80,388.57 313.80,388.36 315.10,388.36 316.11,388.36 316.11,387.27 318.15,387.27 318.15,386.17 319.17,386.17 320.69,386.17 320.69,384.14 322.22,384.14 323.24,384.14 323.24,381.50 325.27,381.50 325.27,378.85 327.31,378.85 327.31,376.21 328.32,376.21 329.54,376.21 329.54,375.34 331.97,375.34 331.97,374.47 334.40,374.47 334.40,373.59 335.62,373.59 336.87,373.59 336.87,372.61 339.39,372.61 339.39,371.62 341.91,371.62 341.91,370.64 343.16,370.64 344.17,370.64 344.17,370.07 346.19,370.07 346.19,369.50 348.20,369.50 348.20,368.93 350.21,368.93 350.21,368.36 351.22,368.36 352.28,368.36 352.28,367.71 354.40,367.71 354.40,367.07 356.52,367.07 356.52,366.42 357.58,366.42 358.57,366.42 358.57,365.72 360.55,365.72 360.55,365.01 362.53,365.01 362.53,364.31 363.52,364.31 364.65,364.31 364.65,363.61 366.91,363.61 366.91,362.90 369.17,362.90 369.17,362.20 370.30,362.20" fill="none" stroke="#9b8cd3" stroke-width="1.3" stroke-linejoin="miter"/>
<polyline points="285.50,446.60 286.81,446.60 286.81,437.99 288.13,437.99 289.66,437.99 289.66,429.72 291.18,429.72 291.73,429.72 291.73,421.36 292.28,421.36 293.30,421.36 293.30,420.44 294.32,420.44 295.37,420.44 295.37,419.73 297.46,419.73 297.46,419.03 299.55,419.03 299.55,418.33 300.59,418.33 301.61,418.33 301.61,411.15 302.63,411.15 304.16,411.15 304.16,405.92 305.68,405.92 306.74,405.92 306.74,400.69 307.80,400.69 308.84,400.69 308.84,400.18 310.92,400.18 310.92,399.67 311.96,399.67 313.00,399.67 313.00,399.50 315.10,399.50 315.10,399.34 317.19,399.34 317.19,399.17 318.23,399.17 319.42,399.17 319.42,398.32 321.79,398.32 321.79,397.48 324.17,397.48 324.17,396.64 325.36,396.64 326.39,396.64 326.39,395.07 328.47,395.07 328.47,393.51 329.51,393.51 330.63,393.51 330.63,391.66 332.88,391.66 332.88,389.80 334.01,389.80 334.81,389.80 334.81,388.11 335.62,388.11 336.91,388.11 336.91,386.04 339.50,386.04 339.50,383.98 340.79,383.98 342.08,383.98 342.08,382.37 344.67,382.37 344.67,380.77 345.96,380.77 347.28,380.77 347.28,379.25 349.91,379.25 349.91,377.73 351.22,377.73 352.49,377.73 352.49,376.17 355.04,376.17 355.04,374.61 356.31,374.61 357.60,374.61 357.60,372.54 360.19,372.54 360.19,370.47 361.48,370.47 362.96,370.47 362.96,367.43 364.45,367.43 365.47,367.43 365.47,365.32 367.50,365.32 367.50,363.21 368.52,363.21 369.41,363.21 369.41,362.20 370.30,362.20" fill="none" stroke="#36a8e0" stroke-width="1.3" stroke-linejoin="miter"/>
<polyline points="285.50,446.60 286.77,446.60 286.77,439.85 288.04,439.85 289.10,439.85 289.10,433.94 291.22,433.94 291.22,428.03 292.28,428.03 293.56,428.03 293.56,424.66 296.10,424.66 296.10,421.28 297.37,421.28 298.64,421.28 298.64,417.90 301.19,417.90 301.19,414.53 302.46,414.53 303.52,414.53 303.52,412.00 305.64,412.00 305.64,409.46 306.70,409.46 307.76,409.46 307.76,407.69 309.88,407.69 309.88,405.92 310.94,405.92 312.47,405.92 312.47,400.69 313.99,400.69 314.54,400.69 314.54,389.29 315.10,389.29 316.11,389.29 316.11,388.36 317.13,388.36 317.68,388.36 317.68,384.14 318.23,384.14 319.76,384.14 319.76,383.30 321.29,383.30 322.52,383.30 322.52,381.19 324.97,381.19 324.97,379.08 326.20,379.08 327.24,379.08 327.24,377.14 329.32,377.14 329.32,375.20 330.36,375.20 331.40,375.20 331.40,374.14 333.48,374.14 333.48,373.09 335.55,373.09 335.55,372.03 337.63,372.03 337.63,370.98 338.67,370.98 339.73,370.98 339.73,368.36 340.79,368.36 342.08,368.36 342.08,367.81 344.67,367.81 344.67,367.26 345.96,367.26 347.28,367.26 347.28,366.29 349.91,366.29 349.91,365.32 351.22,365.32 352.24,365.32 352.24,364.77 354.27,364.77 354.27,364.23 355.29,364.23 356.35,364.23 356.35,362.71 357.41,362.71 358.43,362.71 358.43,362.45 360.46,362.45 360.46,362.20 361.48,362.20 370.30,362.20" fill="none" stroke="#f4a21f" stroke-width="1.3" stroke-linejoin="miter"/>
<polyline points="285.50,446.60 285.50,433.77 286.81,433.77 286.81,429.72 288.13,429.72 289.17,429.72 289.17,425.54 291.25,425.54 291.25,421.36 292.28,421.36 293.85,421.36 293.85,417.31 295.42,417.31 296.44,417.31 296.44,416.26 298.47,416.26 298.47,415.20 299.49,415.20 300.79,415.20 300.79,413.64 303.37,413.64 303.37,412.08 304.66,412.08 305.98,412.08 305.98,410.05 308.61,410.05 308.61,408.03 309.92,408.03 311.22,408.03 311.22,406.43 313.80,406.43 313.80,404.82 315.10,404.82 316.37,404.82 316.37,403.26 318.91,403.26 318.91,401.70 320.18,401.70 321.48,401.70 321.48,400.43 324.06,400.43 324.06,399.17 325.36,399.17 326.67,399.17 326.67,398.15 329.30,398.15 329.30,397.14 330.61,397.14 332.06,397.14 332.06,396.38 333.50,396.38 333.50,393.26 335.07,393.26 335.07,384.99 336.63,384.99 337.67,384.99 337.67,383.43 339.75,383.43 339.75,381.87 340.79,381.87 342.08,381.87 342.08,380.35 344.67,380.35 344.67,378.83 345.96,378.83 347.28,378.83 347.28,377.27 349.91,377.27 349.91,375.70 351.22,375.70 352.24,375.70 352.24,374.10 354.27,374.10 354.27,372.50 355.29,372.50 355.80,372.50 355.80,368.36 356.31,368.36 356.86,368.36 356.86,366.42 357.41,366.42 358.43,366.42 358.43,365.69 360.46,365.69 360.46,364.96 362.50,364.96 362.50,364.23 363.52,364.23 364.51,364.23 364.51,363.72 366.51,363.72 366.51,363.21 367.50,363.21 368.90,363.21 368.90,362.20 370.30,362.20" fill="none" stroke="#c4122f" stroke-width="1.3" stroke-linejoin="miter"/>
<polyline points="285.50,446.60 285.50,439.85 286.35,439.85 286.35,428.88 287.20,428.88 288.21,428.88 288.21,426.60 289.23,426.60 289.23,406.43 290.43,406.43 290.43,405.89 292.84,405.89 292.84,405.36 295.24,405.36 295.24,404.82 296.44,404.82 297.48,404.82 297.48,403.81 299.56,403.81 299.56,402.80 300.59,402.80 300.59,399.67 302.16,399.67 302.16,395.54 303.73,395.54 304.71,395.54 304.71,388.36 305.68,388.36 306.74,388.36 306.74,385.16 307.80,385.16 308.84,385.16 308.84,384.40 310.92,384.40 310.92,383.64 311.96,383.64 313.12,383.64 313.12,382.98 315.46,382.98 315.46,382.33 317.79,382.33 317.79,381.68 320.12,381.68 320.12,381.02 321.29,381.02 322.42,381.02 322.42,380.47 324.69,380.47 324.69,379.92 326.96,379.92 326.96,379.38 329.23,379.38 329.23,378.83 330.36,378.83 331.67,378.83 331.67,378.28 334.30,378.28 334.30,377.73 335.62,377.73 337.14,377.73 337.14,374.61 338.67,374.61 339.73,374.61 339.73,372.50 340.79,372.50 341.82,372.50 341.82,371.99 343.88,371.99 343.88,371.48 345.95,371.48 345.95,370.98 346.98,370.98 348.04,370.98 348.04,370.43 350.16,370.43 350.16,369.88 351.22,369.88 352.24,369.88 352.24,369.12 354.27,369.12 354.27,368.36 355.29,368.36 356.39,368.36 356.39,366.42 357.50,366.42 358.49,366.42 358.49,365.32 360.48,365.32 360.48,364.23 361.48,364.23 362.70,364.23 362.70,363.72 365.13,363.72 365.13,363.21 367.56,363.21 367.56,362.71 368.77,362.71 369.54,362.71 369.54,362.20 370.30,362.20" fill="none" stroke="#3aa83a" stroke-width="1.3" stroke-linejoin="miter"/>
<rect x="285.50" y="362.20" width="84.80" height="84.40" fill="none" stroke="#1e1e1e" stroke-width="1.2"/>
<line x1="282.90" y1="446.60" x2="285.50" y2="446.60" stroke="#1e1e1e" stroke-width="1" />
<text x="279.00" y="448.97" font-size="6.9" text-anchor="end">0</text>
<line x1="285.50" y1="446.60" x2="285.50" y2="449.20" stroke="#1e1e1e" stroke-width="1" />
<text x="285.50" y="459.17" font-size="6.9" text-anchor="middle">0</text>
<line x1="282.90" y1="429.72" x2="285.50" y2="429.72" stroke="#1e1e1e" stroke-width="1" />
<text x="279.00" y="432.09" font-size="6.9" text-anchor="end">20</text>
<line x1="302.46" y1="446.60" x2="302.46" y2="449.20" stroke="#1e1e1e" stroke-width="1" />
<text x="302.46" y="459.17" font-size="6.9" text-anchor="middle">20</text>
<line x1="282.90" y1="412.84" x2="285.50" y2="412.84" stroke="#1e1e1e" stroke-width="1" />
<text x="279.00" y="415.21" font-size="6.9" text-anchor="end">40</text>
<line x1="319.42" y1="446.60" x2="319.42" y2="449.20" stroke="#1e1e1e" stroke-width="1" />
<text x="319.42" y="459.17" font-size="6.9" text-anchor="middle">40</text>
<line x1="282.90" y1="395.96" x2="285.50" y2="395.96" stroke="#1e1e1e" stroke-width="1" />
<text x="279.00" y="398.33" font-size="6.9" text-anchor="end">60</text>
<line x1="336.38" y1="446.60" x2="336.38" y2="449.20" stroke="#1e1e1e" stroke-width="1" />
<text x="336.38" y="459.17" font-size="6.9" text-anchor="middle">60</text>
<line x1="282.90" y1="379.08" x2="285.50" y2="379.08" stroke="#1e1e1e" stroke-width="1" />
<text x="279.00" y="381.45" font-size="6.9" text-anchor="end">80</text>
<line x1="353.34" y1="446.60" x2="353.34" y2="449.20" stroke="#1e1e1e" stroke-width="1" />
<text x="353.34" y="459.17" font-size="6.9" text-anchor="middle">80</text>
<line x1="282.90" y1="362.20" x2="285.50" y2="362.20" stroke="#1e1e1e" stroke-width="1" />
<text x="279.00" y="364.57" font-size="6.9" text-anchor="end">100</text>
<line x1="370.30" y1="446.60" x2="370.30" y2="449.20" stroke="#1e1e1e" stroke-width="1" />
<text x="370.30" y="459.17" font-size="6.9" text-anchor="middle">100</text>
<text x="259.70" y="407.88" font-size="8.8" text-anchor="middle" textLength="43.10" lengthAdjust="spacingAndGlyphs" transform="rotate(-90 259.70 404.80)">Sensitivity (%)</text>
<text x="328.30" y="471.30" font-size="9.2" text-anchor="middle" textLength="61.00" lengthAdjust="spacingAndGlyphs">100% - Specificity%</text>
<line x1="381.60" y1="366.90" x2="391.20" y2="366.90" stroke="#36a8e0" stroke-width="1.0" />
<polygon points="386.40,365.40 387.75,367.80 385.05,367.80" fill="#36a8e0" stroke="none" stroke-width="0.5" />
<text x="394.30" y="369.20" font-size="6.7" textLength="47.60" lengthAdjust="spacingAndGlyphs">FIB at diagnosis</text>
<line x1="381.60" y1="378.60" x2="391.20" y2="378.60" stroke="#3aa83a" stroke-width="1.0" />
<polygon points="386.40,377.10 387.75,379.50 385.05,379.50" fill="#3aa83a" stroke="none" stroke-width="0.5" />
<text x="394.30" y="380.90" font-size="6.7" textLength="51.90" lengthAdjust="spacingAndGlyphs">BUN at diagnosis</text>
<line x1="381.60" y1="390.80" x2="391.20" y2="390.80" stroke="#9b8cd3" stroke-width="1.0" />
<polygon points="386.40,389.30 387.75,391.70 385.05,391.70" fill="#9b8cd3" stroke="none" stroke-width="0.5" />
<text x="394.30" y="393.10" font-size="6.7" textLength="57.70" lengthAdjust="spacingAndGlyphs">sCD25 at diagnosis</text>
<line x1="381.60" y1="402.90" x2="391.20" y2="402.90" stroke="#f4a21f" stroke-width="1.0" />
<polygon points="386.40,401.40 387.75,403.80 385.05,403.80" fill="#f4a21f" stroke="none" stroke-width="0.5" />
<text x="394.30" y="405.20" font-size="6.7" textLength="50.20" lengthAdjust="spacingAndGlyphs">ALB at diagnosis</text>
<line x1="381.60" y1="414.50" x2="391.20" y2="414.50" stroke="#c4122f" stroke-width="1.0" />
<polygon points="386.40,413.00 387.75,415.40 385.05,415.40" fill="#c4122f" stroke="none" stroke-width="0.5" />
<text x="394.30" y="416.80" font-size="6.7" textLength="51.40" lengthAdjust="spacingAndGlyphs">β2M at diagnosis</text>
<text x="6.6" y="499.9" font-size="12.6" font-weight="bold" fill="#000" stroke="#000" stroke-width="0.45">D</text>
<text x="18.70" y="517.65" font-size="4.5" fill="#424242">Points</text>
<text x="18.70" y="528.35" font-size="4.5" fill="#424242">aGVHD</text>
<text x="18.70" y="538.75" font-size="4.5" fill="#424242">cGVHD</text>
<text x="18.70" y="549.15" font-size="4.5" fill="#424242">sCD25</text>
<text x="18.70" y="559.55" font-size="4.5" fill="#424242">EBV</text>
<text x="18.70" y="569.45" font-size="4.5" fill="#424242">response</text>
<text x="18.70" y="580.65" font-size="4.5" fill="#424242">Total Points</text>
<text x="18.70" y="591.35" font-size="4.5" fill="#424242">Linear Predictor</text>
<text x="18.70" y="602.15" font-size="4.5" fill="#424242">100-day Survival Probability</text>
<text x="18.70" y="612.75" font-size="4.5" fill="#424242">0.5-year Survival Probability</text>
<text x="18.70" y="622.85" font-size="4.5" fill="#424242">1-year Survival Probability</text>
<text x="18.70" y="633.35" font-size="4.5" fill="#424242">2-year Survival Probability</text>
<text x="18.70" y="644.05" font-size="4.5" fill="#424242">5-year Survival Probability</text>
<line x1="85.70" y1="515.90" x2="238.80" y2="515.90" stroke="#222222" stroke-width="1.0" />
<line x1="85.70" y1="515.90" x2="85.70" y2="513.50" stroke="#222222" stroke-width="0.7" />
<line x1="88.76" y1="515.90" x2="88.76" y2="514.60" stroke="#222222" stroke-width="0.7" />
<line x1="91.82" y1="515.90" x2="91.82" y2="514.60" stroke="#222222" stroke-width="0.7" />
<line x1="94.89" y1="515.90" x2="94.89" y2="514.60" stroke="#222222" stroke-width="0.7" />
<line x1="97.95" y1="515.90" x2="97.95" y2="514.60" stroke="#222222" stroke-width="0.7" />
<line x1="101.01" y1="515.90" x2="101.01" y2="513.50" stroke="#222222" stroke-width="0.7" />
<line x1="104.07" y1="515.90" x2="104.07" y2="514.60" stroke="#222222" stroke-width="0.7" />
<line x1="107.13" y1="515.90" x2="107.13" y2="514.60" stroke="#222222" stroke-width="0.7" />
<line x1="110.20" y1="515.90" x2="110.20" y2="514.60" stroke="#222222" stroke-width="0.7" />
<line x1="113.26" y1="515.90" x2="113.26" y2="514.60" stroke="#222222" stroke-width="0.7" />
<line x1="116.32" y1="515.90" x2="116.32" y2="513.50" stroke="#222222" stroke-width="0.7" />
<line x1="119.38" y1="515.90" x2="119.38" y2="514.60" stroke="#222222" stroke-width="0.7" />
<line x1="122.44" y1="515.90" x2="122.44" y2="514.60" stroke="#222222" stroke-width="0.7" />
<line x1="125.51" y1="515.90" x2="125.51" y2="514.60" stroke="#222222" stroke-width="0.7" />
<line x1="128.57" y1="515.90" x2="128.57" y2="514.60" stroke="#222222" stroke-width="0.7" />
<line x1="131.63" y1="515.90" x2="131.63" y2="513.50" stroke="#222222" stroke-width="0.7" />
<line x1="134.69" y1="515.90" x2="134.69" y2="514.60" stroke="#222222" stroke-width="0.7" />
<line x1="137.75" y1="515.90" x2="137.75" y2="514.60" stroke="#222222" stroke-width="0.7" />
<line x1="140.82" y1="515.90" x2="140.82" y2="514.60" stroke="#222222" stroke-width="0.7" />
<line x1="143.88" y1="515.90" x2="143.88" y2="514.60" stroke="#222222" stroke-width="0.7" />
<line x1="146.94" y1="515.90" x2="146.94" y2="513.50" stroke="#222222" stroke-width="0.7" />
<line x1="150.00" y1="515.90" x2="150.00" y2="514.60" stroke="#222222" stroke-width="0.7" />
<line x1="153.06" y1="515.90" x2="153.06" y2="514.60" stroke="#222222" stroke-width="0.7" />
<line x1="156.13" y1="515.90" x2="156.13" y2="514.60" stroke="#222222" stroke-width="0.7" />
<line x1="159.19" y1="515.90" x2="159.19" y2="514.60" stroke="#222222" stroke-width="0.7" />
<line x1="162.25" y1="515.90" x2="162.25" y2="513.50" stroke="#222222" stroke-width="0.7" />
<line x1="165.31" y1="515.90" x2="165.31" y2="514.60" stroke="#222222" stroke-width="0.7" />
<line x1="168.37" y1="515.90" x2="168.37" y2="514.60" stroke="#222222" stroke-width="0.7" />
<line x1="171.44" y1="515.90" x2="171.44" y2="514.60" stroke="#222222" stroke-width="0.7" />
<line x1="174.50" y1="515.90" x2="174.50" y2="514.60" stroke="#222222" stroke-width="0.7" />
<line x1="177.56" y1="515.90" x2="177.56" y2="513.50" stroke="#222222" stroke-width="0.7" />
<line x1="180.62" y1="515.90" x2="180.62" y2="514.60" stroke="#222222" stroke-width="0.7" />
<line x1="183.68" y1="515.90" x2="183.68" y2="514.60" stroke="#222222" stroke-width="0.7" />
<line x1="186.75" y1="515.90" x2="186.75" y2="514.60" stroke="#222222" stroke-width="0.7" />
<line x1="189.81" y1="515.90" x2="189.81" y2="514.60" stroke="#222222" stroke-width="0.7" />
<line x1="192.87" y1="515.90" x2="192.87" y2="513.50" stroke="#222222" stroke-width="0.7" />
<line x1="195.93" y1="515.90" x2="195.93" y2="514.60" stroke="#222222" stroke-width="0.7" />
<line x1="198.99" y1="515.90" x2="198.99" y2="514.60" stroke="#222222" stroke-width="0.7" />
<line x1="202.06" y1="515.90" x2="202.06" y2="514.60" stroke="#222222" stroke-width="0.7" />
<line x1="205.12" y1="515.90" x2="205.12" y2="514.60" stroke="#222222" stroke-width="0.7" />
<line x1="208.18" y1="515.90" x2="208.18" y2="513.50" stroke="#222222" stroke-width="0.7" />
<line x1="211.24" y1="515.90" x2="211.24" y2="514.60" stroke="#222222" stroke-width="0.7" />
<line x1="214.30" y1="515.90" x2="214.30" y2="514.60" stroke="#222222" stroke-width="0.7" />
<line x1="217.37" y1="515.90" x2="217.37" y2="514.60" stroke="#222222" stroke-width="0.7" />
<line x1="220.43" y1="515.90" x2="220.43" y2="514.60" stroke="#222222" stroke-width="0.7" />
<line x1="223.49" y1="515.90" x2="223.49" y2="513.50" stroke="#222222" stroke-width="0.7" />
<line x1="226.55" y1="515.90" x2="226.55" y2="514.60" stroke="#222222" stroke-width="0.7" />
<line x1="229.61" y1="515.90" x2="229.61" y2="514.60" stroke="#222222" stroke-width="0.7" />
<line x1="232.68" y1="515.90" x2="232.68" y2="514.60" stroke="#222222" stroke-width="0.7" />
<line x1="235.74" y1="515.90" x2="235.74" y2="514.60" stroke="#222222" stroke-width="0.7" />
<line x1="238.80" y1="515.90" x2="238.80" y2="513.50" stroke="#222222" stroke-width="0.7" />
<text x="85.70" y="509.84" font-size="4.2" text-anchor="middle" textLength="2.10" lengthAdjust="spacingAndGlyphs" fill="#424242">0</text>
<text x="101.01" y="509.84" font-size="4.2" text-anchor="middle" textLength="4.20" lengthAdjust="spacingAndGlyphs" fill="#424242">10</text>
<text x="116.32" y="509.84" font-size="4.2" text-anchor="middle" textLength="4.20" lengthAdjust="spacingAndGlyphs" fill="#424242">20</text>
<text x="131.63" y="509.84" font-size="4.2" text-anchor="middle" textLength="4.20" lengthAdjust="spacingAndGlyphs" fill="#424242">30</text>
<text x="146.94" y="509.84" font-size="4.2" text-anchor="middle" textLength="4.20" lengthAdjust="spacingAndGlyphs" fill="#424242">40</text>
<text x="162.25" y="509.84" font-size="4.2" text-anchor="middle" textLength="4.20" lengthAdjust="spacingAndGlyphs" fill="#424242">50</text>
<text x="177.56" y="509.84" font-size="4.2" text-anchor="middle" textLength="4.20" lengthAdjust="spacingAndGlyphs" fill="#424242">60</text>
<text x="192.87" y="509.84" font-size="4.2" text-anchor="middle" textLength="4.20" lengthAdjust="spacingAndGlyphs" fill="#424242">70</text>
<text x="208.18" y="509.84" font-size="4.2" text-anchor="middle" textLength="4.20" lengthAdjust="spacingAndGlyphs" fill="#424242">80</text>
<text x="223.49" y="509.84" font-size="4.2" text-anchor="middle" textLength="4.20" lengthAdjust="spacingAndGlyphs" fill="#424242">90</text>
<text x="238.80" y="509.84" font-size="4.2" text-anchor="middle" textLength="6.31" lengthAdjust="spacingAndGlyphs" fill="#424242">100</text>
<line x1="85.70" y1="526.70" x2="238.80" y2="526.70" stroke="#222222" stroke-width="1.1" />
<line x1="85.70" y1="526.70" x2="85.70" y2="529.10" stroke="#222222" stroke-width="0.7" />
<text x="85.70" y="534.85" font-size="4.5" text-anchor="middle" fill="#424242">Neu/I</text>
<line x1="160.72" y1="526.70" x2="160.72" y2="524.30" stroke="#222222" stroke-width="0.7" />
<text x="160.72" y="521.65" font-size="4.5" text-anchor="middle" fill="#424242">0/I/II</text>
<line x1="238.80" y1="526.70" x2="238.80" y2="529.10" stroke="#222222" stroke-width="0.7" />
<text x="238.80" y="534.85" font-size="4.5" text-anchor="middle" fill="#424242">IV</text>
<line x1="85.70" y1="537.10" x2="178.02" y2="537.10" stroke="#222222" stroke-width="1.1" />
<line x1="85.70" y1="537.10" x2="85.70" y2="539.50" stroke="#222222" stroke-width="0.7" />
<text x="85.70" y="545.25" font-size="4.5" text-anchor="middle" fill="#424242">Yes</text>
<line x1="178.02" y1="537.10" x2="178.02" y2="534.70" stroke="#222222" stroke-width="0.7" />
<text x="178.02" y="532.05" font-size="4.5" text-anchor="middle" fill="#424242">Yes</text>
<line x1="85.70" y1="547.50" x2="147.86" y2="547.50" stroke="#222222" stroke-width="1.1" />
<line x1="85.70" y1="547.50" x2="85.70" y2="549.90" stroke="#222222" stroke-width="0.7" />
<text x="85.70" y="555.65" font-size="4.5" text-anchor="middle" fill="#424242">≤24000pg/ml</text>
<line x1="147.86" y1="547.50" x2="147.86" y2="545.10" stroke="#222222" stroke-width="0.7" />
<text x="147.86" y="542.45" font-size="4.5" text-anchor="middle" fill="#424242">&gt;24000pg/ml</text>
<line x1="85.70" y1="558.10" x2="127.04" y2="558.10" stroke="#222222" stroke-width="1.1" />
<line x1="85.70" y1="558.10" x2="85.70" y2="560.50" stroke="#222222" stroke-width="0.7" />
<text x="85.70" y="566.25" font-size="4.5" text-anchor="middle" fill="#424242">≤600copies</text>
<line x1="127.04" y1="558.10" x2="127.04" y2="555.70" stroke="#222222" stroke-width="0.7" />
<text x="127.04" y="553.05" font-size="4.5" text-anchor="middle" fill="#424242">&gt;600copies</text>
<line x1="85.70" y1="568.80" x2="156.59" y2="568.80" stroke="#222222" stroke-width="1.1" />
<line x1="85.70" y1="568.80" x2="85.70" y2="571.20" stroke="#222222" stroke-width="0.7" />
<text x="85.70" y="576.95" font-size="4.5" text-anchor="middle" fill="#424242">CR1/CR2</text>
<line x1="133.16" y1="568.80" x2="133.16" y2="566.40" stroke="#222222" stroke-width="0.7" />
<text x="133.16" y="563.75" font-size="4.5" text-anchor="middle" fill="#424242">PR1</text>
<line x1="156.59" y1="568.80" x2="156.59" y2="571.20" stroke="#222222" stroke-width="0.7" />
<text x="156.59" y="576.95" font-size="4.5" text-anchor="middle" fill="#424242">PR2</text>
<line x1="85.70" y1="578.80" x2="238.10" y2="578.80" stroke="#222222" stroke-width="1.0" />
<line x1="85.70" y1="578.80" x2="85.70" y2="581.00" stroke="#222222" stroke-width="0.7" />
<line x1="88.88" y1="578.80" x2="88.88" y2="580.00" stroke="#222222" stroke-width="0.7" />
<line x1="92.05" y1="578.80" x2="92.05" y2="580.00" stroke="#222222" stroke-width="0.7" />
<line x1="95.23" y1="578.80" x2="95.23" y2="580.00" stroke="#222222" stroke-width="0.7" />
<line x1="98.40" y1="578.80" x2="98.40" y2="581.00" stroke="#222222" stroke-width="0.7" />
<line x1="101.58" y1="578.80" x2="101.58" y2="580.00" stroke="#222222" stroke-width="0.7" />
<line x1="104.75" y1="578.80" x2="104.75" y2="580.00" stroke="#222222" stroke-width="0.7" />
<line x1="107.93" y1="578.80" x2="107.93" y2="580.00" stroke="#222222" stroke-width="0.7" />
<line x1="111.10" y1="578.80" x2="111.10" y2="581.00" stroke="#222222" stroke-width="0.7" />
<line x1="114.28" y1="578.80" x2="114.28" y2="580.00" stroke="#222222" stroke-width="0.7" />
<line x1="117.45" y1="578.80" x2="117.45" y2="580.00" stroke="#222222" stroke-width="0.7" />
<line x1="120.62" y1="578.80" x2="120.62" y2="580.00" stroke="#222222" stroke-width="0.7" />
<line x1="123.80" y1="578.80" x2="123.80" y2="581.00" stroke="#222222" stroke-width="0.7" />
<line x1="126.97" y1="578.80" x2="126.97" y2="580.00" stroke="#222222" stroke-width="0.7" />
<line x1="130.15" y1="578.80" x2="130.15" y2="580.00" stroke="#222222" stroke-width="0.7" />
<line x1="133.32" y1="578.80" x2="133.32" y2="580.00" stroke="#222222" stroke-width="0.7" />
<line x1="136.50" y1="578.80" x2="136.50" y2="581.00" stroke="#222222" stroke-width="0.7" />
<line x1="139.68" y1="578.80" x2="139.68" y2="580.00" stroke="#222222" stroke-width="0.7" />
<line x1="142.85" y1="578.80" x2="142.85" y2="580.00" stroke="#222222" stroke-width="0.7" />
<line x1="146.03" y1="578.80" x2="146.03" y2="580.00" stroke="#222222" stroke-width="0.7" />
<line x1="149.20" y1="578.80" x2="149.20" y2="581.00" stroke="#222222" stroke-width="0.7" />
<line x1="152.38" y1="578.80" x2="152.38" y2="580.00" stroke="#222222" stroke-width="0.7" />
<line x1="155.55" y1="578.80" x2="155.55" y2="580.00" stroke="#222222" stroke-width="0.7" />
<line x1="158.73" y1="578.80" x2="158.73" y2="580.00" stroke="#222222" stroke-width="0.7" />
<line x1="161.90" y1="578.80" x2="161.90" y2="581.00" stroke="#222222" stroke-width="0.7" />
<line x1="165.07" y1="578.80" x2="165.07" y2="580.00" stroke="#222222" stroke-width="0.7" />
<line x1="168.25" y1="578.80" x2="168.25" y2="580.00" stroke="#222222" stroke-width="0.7" />
<line x1="171.43" y1="578.80" x2="171.43" y2="580.00" stroke="#222222" stroke-width="0.7" />
<line x1="174.60" y1="578.80" x2="174.60" y2="581.00" stroke="#222222" stroke-width="0.7" />
<line x1="177.78" y1="578.80" x2="177.78" y2="580.00" stroke="#222222" stroke-width="0.7" />
<line x1="180.95" y1="578.80" x2="180.95" y2="580.00" stroke="#222222" stroke-width="0.7" />
<line x1="184.12" y1="578.80" x2="184.12" y2="580.00" stroke="#222222" stroke-width="0.7" />
<line x1="187.30" y1="578.80" x2="187.30" y2="581.00" stroke="#222222" stroke-width="0.7" />
<line x1="190.48" y1="578.80" x2="190.48" y2="580.00" stroke="#222222" stroke-width="0.7" />
<line x1="193.65" y1="578.80" x2="193.65" y2="580.00" stroke="#222222" stroke-width="0.7" />
<line x1="196.82" y1="578.80" x2="196.82" y2="580.00" stroke="#222222" stroke-width="0.7" />
<line x1="200.00" y1="578.80" x2="200.00" y2="581.00" stroke="#222222" stroke-width="0.7" />
<line x1="203.18" y1="578.80" x2="203.18" y2="580.00" stroke="#222222" stroke-width="0.7" />
<line x1="206.35" y1="578.80" x2="206.35" y2="580.00" stroke="#222222" stroke-width="0.7" />
<line x1="209.53" y1="578.80" x2="209.53" y2="580.00" stroke="#222222" stroke-width="0.7" />
<line x1="212.70" y1="578.80" x2="212.70" y2="581.00" stroke="#222222" stroke-width="0.7" />
<line x1="215.88" y1="578.80" x2="215.88" y2="580.00" stroke="#222222" stroke-width="0.7" />
<line x1="219.05" y1="578.80" x2="219.05" y2="580.00" stroke="#222222" stroke-width="0.7" />
<line x1="222.23" y1="578.80" x2="222.23" y2="580.00" stroke="#222222" stroke-width="0.7" />
<line x1="225.40" y1="578.80" x2="225.40" y2="581.00" stroke="#222222" stroke-width="0.7" />
<line x1="228.57" y1="578.80" x2="228.57" y2="580.00" stroke="#222222" stroke-width="0.7" />
<line x1="231.75" y1="578.80" x2="231.75" y2="580.00" stroke="#222222" stroke-width="0.7" />
<line x1="234.93" y1="578.80" x2="234.93" y2="580.00" stroke="#222222" stroke-width="0.7" />
<line x1="238.10" y1="578.80" x2="238.10" y2="581.00" stroke="#222222" stroke-width="0.7" />
<text x="85.70" y="588.15" font-size="4.5" text-anchor="middle" textLength="2.25" lengthAdjust="spacingAndGlyphs" fill="#424242">0</text>
<text x="98.40" y="588.15" font-size="4.5" text-anchor="middle" textLength="4.50" lengthAdjust="spacingAndGlyphs" fill="#424242">20</text>
<text x="111.10" y="588.15" font-size="4.5" text-anchor="middle" textLength="4.50" lengthAdjust="spacingAndGlyphs" fill="#424242">40</text>
<text x="123.80" y="588.15" font-size="4.5" text-anchor="middle" textLength="4.50" lengthAdjust="spacingAndGlyphs" fill="#424242">60</text>
<text x="136.50" y="588.15" font-size="4.5" text-anchor="middle" textLength="4.50" lengthAdjust="spacingAndGlyphs" fill="#424242">80</text>
<text x="149.20" y="588.15" font-size="4.5" text-anchor="middle" textLength="6.76" lengthAdjust="spacingAndGlyphs" fill="#424242">100</text>
<text x="161.90" y="588.15" font-size="4.5" text-anchor="middle" textLength="6.76" lengthAdjust="spacingAndGlyphs" fill="#424242">120</text>
<text x="174.60" y="588.15" font-size="4.5" text-anchor="middle" textLength="6.76" lengthAdjust="spacingAndGlyphs" fill="#424242">140</text>
<text x="187.30" y="588.15" font-size="4.5" text-anchor="middle" textLength="6.76" lengthAdjust="spacingAndGlyphs" fill="#424242">160</text>
<text x="200.00" y="588.15" font-size="4.5" text-anchor="middle" textLength="6.76" lengthAdjust="spacingAndGlyphs" fill="#424242">180</text>
<text x="212.70" y="588.15" font-size="4.5" text-anchor="middle" textLength="6.76" lengthAdjust="spacingAndGlyphs" fill="#424242">200</text>
<text x="225.40" y="588.15" font-size="4.5" text-anchor="middle" textLength="6.76" lengthAdjust="spacingAndGlyphs" fill="#424242">220</text>
<text x="238.10" y="588.15" font-size="4.5" text-anchor="middle" textLength="6.76" lengthAdjust="spacingAndGlyphs" fill="#424242">240</text>
<line x1="80.20" y1="589.90" x2="234.20" y2="589.90" stroke="#222222" stroke-width="1.0" />
<line x1="80.20" y1="589.90" x2="80.20" y2="592.10" stroke="#222222" stroke-width="0.7" />
<line x1="82.40" y1="589.90" x2="82.40" y2="591.00" stroke="#222222" stroke-width="0.7" />
<line x1="84.60" y1="589.90" x2="84.60" y2="591.00" stroke="#222222" stroke-width="0.7" />
<line x1="86.80" y1="589.90" x2="86.80" y2="591.00" stroke="#222222" stroke-width="0.7" />
<line x1="89.00" y1="589.90" x2="89.00" y2="591.00" stroke="#222222" stroke-width="0.7" />
<line x1="91.20" y1="589.90" x2="91.20" y2="592.10" stroke="#222222" stroke-width="0.7" />
<line x1="93.40" y1="589.90" x2="93.40" y2="591.00" stroke="#222222" stroke-width="0.7" />
<line x1="95.60" y1="589.90" x2="95.60" y2="591.00" stroke="#222222" stroke-width="0.7" />
<line x1="97.80" y1="589.90" x2="97.80" y2="591.00" stroke="#222222" stroke-width="0.7" />
<line x1="100.00" y1="589.90" x2="100.00" y2="591.00" stroke="#222222" stroke-width="0.7" />
<line x1="102.20" y1="589.90" x2="102.20" y2="592.10" stroke="#222222" stroke-width="0.7" />
<line x1="104.40" y1="589.90" x2="104.40" y2="591.00" stroke="#222222" stroke-width="0.7" />
<line x1="106.60" y1="589.90" x2="106.60" y2="591.00" stroke="#222222" stroke-width="0.7" />
<line x1="108.80" y1="589.90" x2="108.80" y2="591.00" stroke="#222222" stroke-width="0.7" />
<line x1="111.00" y1="589.90" x2="111.00" y2="591.00" stroke="#222222" stroke-width="0.7" />
<line x1="113.20" y1="589.90" x2="113.20" y2="592.10" stroke="#222222" stroke-width="0.7" />
<line x1="115.40" y1="589.90" x2="115.40" y2="591.00" stroke="#222222" stroke-width="0.7" />
<line x1="117.60" y1="589.90" x2="117.60" y2="591.00" stroke="#222222" stroke-width="0.7" />
<line x1="119.80" y1="589.90" x2="119.80" y2="591.00" stroke="#222222" stroke-width="0.7" />
<line x1="122.00" y1="589.90" x2="122.00" y2="591.00" stroke="#222222" stroke-width="0.7" />
<line x1="124.20" y1="589.90" x2="124.20" y2="592.10" stroke="#222222" stroke-width="0.7" />
<line x1="126.40" y1="589.90" x2="126.40" y2="591.00" stroke="#222222" stroke-width="0.7" />
<line x1="128.60" y1="589.90" x2="128.60" y2="591.00" stroke="#222222" stroke-width="0.7" />
<line x1="130.80" y1="589.90" x2="130.80" y2="591.00" stroke="#222222" stroke-width="0.7" />
<line x1="133.00" y1="589.90" x2="133.00" y2="591.00" stroke="#222222" stroke-width="0.7" />
<line x1="135.20" y1="589.90" x2="135.20" y2="592.10" stroke="#222222" stroke-width="0.7" />
<line x1="137.40" y1="589.90" x2="137.40" y2="591.00" stroke="#222222" stroke-width="0.7" />
<line x1="139.60" y1="589.90" x2="139.60" y2="591.00" stroke="#222222" stroke-width="0.7" />
<line x1="141.80" y1="589.90" x2="141.80" y2="591.00" stroke="#222222" stroke-width="0.7" />
<line x1="144.00" y1="589.90" x2="144.00" y2="591.00" stroke="#222222" stroke-width="0.7" />
<line x1="146.20" y1="589.90" x2="146.20" y2="592.10" stroke="#222222" stroke-width="0.7" />
<line x1="148.40" y1="589.90" x2="148.40" y2="591.00" stroke="#222222" stroke-width="0.7" />
<line x1="150.60" y1="589.90" x2="150.60" y2="591.00" stroke="#222222" stroke-width="0.7" />
<line x1="152.80" y1="589.90" x2="152.80" y2="591.00" stroke="#222222" stroke-width="0.7" />
<line x1="155.00" y1="589.90" x2="155.00" y2="591.00" stroke="#222222" stroke-width="0.7" />
<line x1="157.20" y1="589.90" x2="157.20" y2="592.10" stroke="#222222" stroke-width="0.7" />
<line x1="159.40" y1="589.90" x2="159.40" y2="591.00" stroke="#222222" stroke-width="0.7" />
<line x1="161.60" y1="589.90" x2="161.60" y2="591.00" stroke="#222222" stroke-width="0.7" />
<line x1="163.80" y1="589.90" x2="163.80" y2="591.00" stroke="#222222" stroke-width="0.7" />
<line x1="166.00" y1="589.90" x2="166.00" y2="591.00" stroke="#222222" stroke-width="0.7" />
<line x1="168.20" y1="589.90" x2="168.20" y2="592.10" stroke="#222222" stroke-width="0.7" />
<line x1="170.40" y1="589.90" x2="170.40" y2="591.00" stroke="#222222" stroke-width="0.7" />
<line x1="172.60" y1="589.90" x2="172.60" y2="591.00" stroke="#222222" stroke-width="0.7" />
<line x1="174.80" y1="589.90" x2="174.80" y2="591.00" stroke="#222222" stroke-width="0.7" />
<line x1="177.00" y1="589.90" x2="177.00" y2="591.00" stroke="#222222" stroke-width="0.7" />
<line x1="179.20" y1="589.90" x2="179.20" y2="592.10" stroke="#222222" stroke-width="0.7" />
<line x1="181.40" y1="589.90" x2="181.40" y2="591.00" stroke="#222222" stroke-width="0.7" />
<line x1="183.60" y1="589.90" x2="183.60" y2="591.00" stroke="#222222" stroke-width="0.7" />
<line x1="185.80" y1="589.90" x2="185.80" y2="591.00" stroke="#222222" stroke-width="0.7" />
<line x1="188.00" y1="589.90" x2="188.00" y2="591.00" stroke="#222222" stroke-width="0.7" />
<line x1="190.20" y1="589.90" x2="190.20" y2="592.10" stroke="#222222" stroke-width="0.7" />
<line x1="192.40" y1="589.90" x2="192.40" y2="591.00" stroke="#222222" stroke-width="0.7" />
<line x1="194.60" y1="589.90" x2="194.60" y2="591.00" stroke="#222222" stroke-width="0.7" />
<line x1="196.80" y1="589.90" x2="196.80" y2="591.00" stroke="#222222" stroke-width="0.7" />
<line x1="199.00" y1="589.90" x2="199.00" y2="591.00" stroke="#222222" stroke-width="0.7" />
<line x1="201.20" y1="589.90" x2="201.20" y2="592.10" stroke="#222222" stroke-width="0.7" />
<line x1="203.40" y1="589.90" x2="203.40" y2="591.00" stroke="#222222" stroke-width="0.7" />
<line x1="205.60" y1="589.90" x2="205.60" y2="591.00" stroke="#222222" stroke-width="0.7" />
<line x1="207.80" y1="589.90" x2="207.80" y2="591.00" stroke="#222222" stroke-width="0.7" />
<line x1="210.00" y1="589.90" x2="210.00" y2="591.00" stroke="#222222" stroke-width="0.7" />
<line x1="212.20" y1="589.90" x2="212.20" y2="592.10" stroke="#222222" stroke-width="0.7" />
<line x1="214.40" y1="589.90" x2="214.40" y2="591.00" stroke="#222222" stroke-width="0.7" />
<line x1="216.60" y1="589.90" x2="216.60" y2="591.00" stroke="#222222" stroke-width="0.7" />
<line x1="218.80" y1="589.90" x2="218.80" y2="591.00" stroke="#222222" stroke-width="0.7" />
<line x1="221.00" y1="589.90" x2="221.00" y2="591.00" stroke="#222222" stroke-width="0.7" />
<line x1="223.20" y1="589.90" x2="223.20" y2="592.10" stroke="#222222" stroke-width="0.7" />
<line x1="225.40" y1="589.90" x2="225.40" y2="591.00" stroke="#222222" stroke-width="0.7" />
<line x1="227.60" y1="589.90" x2="227.60" y2="591.00" stroke="#222222" stroke-width="0.7" />
<line x1="229.80" y1="589.90" x2="229.80" y2="591.00" stroke="#222222" stroke-width="0.7" />
<line x1="232.00" y1="589.90" x2="232.00" y2="591.00" stroke="#222222" stroke-width="0.7" />
<line x1="234.20" y1="589.90" x2="234.20" y2="592.10" stroke="#222222" stroke-width="0.7" />
<text x="80.20" y="599.05" font-size="4.5" text-anchor="middle" textLength="6.98" lengthAdjust="spacingAndGlyphs" fill="#424242">-3.5</text>
<text x="91.20" y="599.05" font-size="4.5" text-anchor="middle" textLength="3.60" lengthAdjust="spacingAndGlyphs" fill="#424242">-3</text>
<text x="102.20" y="599.05" font-size="4.5" text-anchor="middle" textLength="6.98" lengthAdjust="spacingAndGlyphs" fill="#424242">-2.5</text>
<text x="113.20" y="599.05" font-size="4.5" text-anchor="middle" textLength="3.60" lengthAdjust="spacingAndGlyphs" fill="#424242">-2</text>
<text x="124.20" y="599.05" font-size="4.5" text-anchor="middle" textLength="6.98" lengthAdjust="spacingAndGlyphs" fill="#424242">-1.5</text>
<text x="135.20" y="599.05" font-size="4.5" text-anchor="middle" textLength="3.60" lengthAdjust="spacingAndGlyphs" fill="#424242">-1</text>
<text x="146.20" y="599.05" font-size="4.5" text-anchor="middle" textLength="6.98" lengthAdjust="spacingAndGlyphs" fill="#424242">-0.5</text>
<text x="157.20" y="599.05" font-size="4.5" text-anchor="middle" textLength="2.25" lengthAdjust="spacingAndGlyphs" fill="#424242">0</text>
<text x="168.20" y="599.05" font-size="4.5" text-anchor="middle" textLength="5.63" lengthAdjust="spacingAndGlyphs" fill="#424242">0.5</text>
<text x="179.20" y="599.05" font-size="4.5" text-anchor="middle" textLength="2.25" lengthAdjust="spacingAndGlyphs" fill="#424242">1</text>
<text x="190.20" y="599.05" font-size="4.5" text-anchor="middle" textLength="5.63" lengthAdjust="spacingAndGlyphs" fill="#424242">1.5</text>
<text x="201.20" y="599.05" font-size="4.5" text-anchor="middle" textLength="2.25" lengthAdjust="spacingAndGlyphs" fill="#424242">2</text>
<text x="212.20" y="599.05" font-size="4.5" text-anchor="middle" textLength="5.63" lengthAdjust="spacingAndGlyphs" fill="#424242">2.5</text>
<text x="223.20" y="599.05" font-size="4.5" text-anchor="middle" textLength="2.25" lengthAdjust="spacingAndGlyphs" fill="#424242">3</text>
<text x="234.20" y="599.05" font-size="4.5" text-anchor="middle" textLength="5.63" lengthAdjust="spacingAndGlyphs" fill="#424242">3.5</text>
<line x1="151.60" y1="599.90" x2="219.46" y2="599.90" stroke="#222222" stroke-width="1.0" />
<line x1="151.60" y1="599.90" x2="151.60" y2="601.80" stroke="#222222" stroke-width="0.7" />
<text x="151.60" y="607.95" font-size="4.5" text-anchor="middle" textLength="5.63" lengthAdjust="spacingAndGlyphs" fill="#424242">0.9</text>
<line x1="168.11" y1="599.90" x2="168.11" y2="601.80" stroke="#222222" stroke-width="0.7" />
<text x="168.11" y="607.95" font-size="4.5" text-anchor="middle" textLength="5.63" lengthAdjust="spacingAndGlyphs" fill="#424242">0.8</text>
<line x1="178.43" y1="599.90" x2="178.43" y2="601.80" stroke="#222222" stroke-width="0.7" />
<text x="178.43" y="607.95" font-size="4.5" text-anchor="middle" textLength="5.63" lengthAdjust="spacingAndGlyphs" fill="#424242">0.7</text>
<line x1="186.33" y1="599.90" x2="186.33" y2="601.80" stroke="#222222" stroke-width="0.7" />
<text x="186.33" y="607.95" font-size="4.5" text-anchor="middle" textLength="5.63" lengthAdjust="spacingAndGlyphs" fill="#424242">0.6</text>
<line x1="193.04" y1="599.90" x2="193.04" y2="601.80" stroke="#222222" stroke-width="0.7" />
<text x="193.04" y="607.95" font-size="4.5" text-anchor="middle" textLength="5.63" lengthAdjust="spacingAndGlyphs" fill="#424242">0.5</text>
<line x1="199.18" y1="599.90" x2="199.18" y2="601.80" stroke="#222222" stroke-width="0.7" />
<text x="199.18" y="607.95" font-size="4.5" text-anchor="middle" textLength="5.63" lengthAdjust="spacingAndGlyphs" fill="#424242">0.4</text>
<line x1="205.19" y1="599.90" x2="205.19" y2="601.80" stroke="#222222" stroke-width="0.7" />
<text x="205.19" y="607.95" font-size="4.5" text-anchor="middle" textLength="5.63" lengthAdjust="spacingAndGlyphs" fill="#424242">0.3</text>
<line x1="211.58" y1="599.90" x2="211.58" y2="601.80" stroke="#222222" stroke-width="0.7" />
<text x="211.58" y="607.95" font-size="4.5" text-anchor="middle" textLength="5.63" lengthAdjust="spacingAndGlyphs" fill="#424242">0.2</text>
<line x1="219.46" y1="599.90" x2="219.46" y2="601.80" stroke="#222222" stroke-width="0.7" />
<text x="219.46" y="607.95" font-size="4.5" text-anchor="middle" textLength="5.63" lengthAdjust="spacingAndGlyphs" fill="#424242">0.1</text>
<line x1="134.90" y1="610.80" x2="202.76" y2="610.80" stroke="#222222" stroke-width="1.0" />
<line x1="134.90" y1="610.80" x2="134.90" y2="612.70" stroke="#222222" stroke-width="0.7" />
<text x="134.90" y="618.15" font-size="4.5" text-anchor="middle" textLength="5.63" lengthAdjust="spacingAndGlyphs" fill="#424242">0.9</text>
<line x1="151.41" y1="610.80" x2="151.41" y2="612.70" stroke="#222222" stroke-width="0.7" />
<text x="151.41" y="618.15" font-size="4.5" text-anchor="middle" textLength="5.63" lengthAdjust="spacingAndGlyphs" fill="#424242">0.8</text>
<line x1="161.73" y1="610.80" x2="161.73" y2="612.70" stroke="#222222" stroke-width="0.7" />
<text x="161.73" y="618.15" font-size="4.5" text-anchor="middle" textLength="5.63" lengthAdjust="spacingAndGlyphs" fill="#424242">0.7</text>
<line x1="169.63" y1="610.80" x2="169.63" y2="612.70" stroke="#222222" stroke-width="0.7" />
<text x="169.63" y="618.15" font-size="4.5" text-anchor="middle" textLength="5.63" lengthAdjust="spacingAndGlyphs" fill="#424242">0.6</text>
<line x1="176.34" y1="610.80" x2="176.34" y2="612.70" stroke="#222222" stroke-width="0.7" />
<text x="176.34" y="618.15" font-size="4.5" text-anchor="middle" textLength="5.63" lengthAdjust="spacingAndGlyphs" fill="#424242">0.5</text>
<line x1="182.48" y1="610.80" x2="182.48" y2="612.70" stroke="#222222" stroke-width="0.7" />
<text x="182.48" y="618.15" font-size="4.5" text-anchor="middle" textLength="5.63" lengthAdjust="spacingAndGlyphs" fill="#424242">0.4</text>
<line x1="188.49" y1="610.80" x2="188.49" y2="612.70" stroke="#222222" stroke-width="0.7" />
<text x="188.49" y="618.15" font-size="4.5" text-anchor="middle" textLength="5.63" lengthAdjust="spacingAndGlyphs" fill="#424242">0.3</text>
<line x1="194.88" y1="610.80" x2="194.88" y2="612.70" stroke="#222222" stroke-width="0.7" />
<text x="194.88" y="618.15" font-size="4.5" text-anchor="middle" textLength="5.63" lengthAdjust="spacingAndGlyphs" fill="#424242">0.2</text>
<line x1="202.76" y1="610.80" x2="202.76" y2="612.70" stroke="#222222" stroke-width="0.7" />
<text x="202.76" y="618.15" font-size="4.5" text-anchor="middle" textLength="5.63" lengthAdjust="spacingAndGlyphs" fill="#424242">0.1</text>
<line x1="126.20" y1="621.20" x2="194.06" y2="621.20" stroke="#222222" stroke-width="1.0" />
<line x1="126.20" y1="621.20" x2="126.20" y2="623.10" stroke="#222222" stroke-width="0.7" />
<text x="126.20" y="629.15" font-size="4.5" text-anchor="middle" textLength="5.63" lengthAdjust="spacingAndGlyphs" fill="#424242">0.9</text>
<line x1="142.71" y1="621.20" x2="142.71" y2="623.10" stroke="#222222" stroke-width="0.7" />
<text x="142.71" y="629.15" font-size="4.5" text-anchor="middle" textLength="5.63" lengthAdjust="spacingAndGlyphs" fill="#424242">0.8</text>
<line x1="153.03" y1="621.20" x2="153.03" y2="623.10" stroke="#222222" stroke-width="0.7" />
<text x="153.03" y="629.15" font-size="4.5" text-anchor="middle" textLength="5.63" lengthAdjust="spacingAndGlyphs" fill="#424242">0.7</text>
<line x1="160.93" y1="621.20" x2="160.93" y2="623.10" stroke="#222222" stroke-width="0.7" />
<text x="160.93" y="629.15" font-size="4.5" text-anchor="middle" textLength="5.63" lengthAdjust="spacingAndGlyphs" fill="#424242">0.6</text>
<line x1="167.64" y1="621.20" x2="167.64" y2="623.10" stroke="#222222" stroke-width="0.7" />
<text x="167.64" y="629.15" font-size="4.5" text-anchor="middle" textLength="5.63" lengthAdjust="spacingAndGlyphs" fill="#424242">0.5</text>
<line x1="173.78" y1="621.20" x2="173.78" y2="623.10" stroke="#222222" stroke-width="0.7" />
<text x="173.78" y="629.15" font-size="4.5" text-anchor="middle" textLength="5.63" lengthAdjust="spacingAndGlyphs" fill="#424242">0.4</text>
<line x1="179.79" y1="621.20" x2="179.79" y2="623.10" stroke="#222222" stroke-width="0.7" />
<text x="179.79" y="629.15" font-size="4.5" text-anchor="middle" textLength="5.63" lengthAdjust="spacingAndGlyphs" fill="#424242">0.3</text>
<line x1="186.18" y1="621.20" x2="186.18" y2="623.10" stroke="#222222" stroke-width="0.7" />
<text x="186.18" y="629.15" font-size="4.5" text-anchor="middle" textLength="5.63" lengthAdjust="spacingAndGlyphs" fill="#424242">0.2</text>
<line x1="194.06" y1="621.20" x2="194.06" y2="623.10" stroke="#222222" stroke-width="0.7" />
<text x="194.06" y="629.15" font-size="4.5" text-anchor="middle" textLength="5.63" lengthAdjust="spacingAndGlyphs" fill="#424242">0.1</text>
<line x1="120.20" y1="631.80" x2="188.06" y2="631.80" stroke="#222222" stroke-width="1.0" />
<line x1="120.20" y1="631.80" x2="120.20" y2="633.70" stroke="#222222" stroke-width="0.7" />
<text x="120.20" y="639.55" font-size="4.5" text-anchor="middle" textLength="5.63" lengthAdjust="spacingAndGlyphs" fill="#424242">0.9</text>
<line x1="136.71" y1="631.80" x2="136.71" y2="633.70" stroke="#222222" stroke-width="0.7" />
<text x="136.71" y="639.55" font-size="4.5" text-anchor="middle" textLength="5.63" lengthAdjust="spacingAndGlyphs" fill="#424242">0.8</text>
<line x1="147.03" y1="631.80" x2="147.03" y2="633.70" stroke="#222222" stroke-width="0.7" />
<text x="147.03" y="639.55" font-size="4.5" text-anchor="middle" textLength="5.63" lengthAdjust="spacingAndGlyphs" fill="#424242">0.7</text>
<line x1="154.93" y1="631.80" x2="154.93" y2="633.70" stroke="#222222" stroke-width="0.7" />
<text x="154.93" y="639.55" font-size="4.5" text-anchor="middle" textLength="5.63" lengthAdjust="spacingAndGlyphs" fill="#424242">0.6</text>
<line x1="161.64" y1="631.80" x2="161.64" y2="633.70" stroke="#222222" stroke-width="0.7" />
<text x="161.64" y="639.55" font-size="4.5" text-anchor="middle" textLength="5.63" lengthAdjust="spacingAndGlyphs" fill="#424242">0.5</text>
<line x1="167.78" y1="631.80" x2="167.78" y2="633.70" stroke="#222222" stroke-width="0.7" />
<text x="167.78" y="639.55" font-size="4.5" text-anchor="middle" textLength="5.63" lengthAdjust="spacingAndGlyphs" fill="#424242">0.4</text>
<line x1="173.79" y1="631.80" x2="173.79" y2="633.70" stroke="#222222" stroke-width="0.7" />
<text x="173.79" y="639.55" font-size="4.5" text-anchor="middle" textLength="5.63" lengthAdjust="spacingAndGlyphs" fill="#424242">0.3</text>
<line x1="180.18" y1="631.80" x2="180.18" y2="633.70" stroke="#222222" stroke-width="0.7" />
<text x="180.18" y="639.55" font-size="4.5" text-anchor="middle" textLength="5.63" lengthAdjust="spacingAndGlyphs" fill="#424242">0.2</text>
<line x1="188.06" y1="631.80" x2="188.06" y2="633.70" stroke="#222222" stroke-width="0.7" />
<text x="188.06" y="639.55" font-size="4.5" text-anchor="middle" textLength="5.63" lengthAdjust="spacingAndGlyphs" fill="#424242">0.1</text>
<line x1="120.20" y1="641.90" x2="188.06" y2="641.90" stroke="#222222" stroke-width="1.0" />
<line x1="120.20" y1="641.90" x2="120.20" y2="643.80" stroke="#222222" stroke-width="0.7" />
<text x="120.20" y="649.75" font-size="4.5" text-anchor="middle" textLength="5.63" lengthAdjust="spacingAndGlyphs" fill="#424242">0.9</text>
<line x1="136.71" y1="641.90" x2="136.71" y2="643.80" stroke="#222222" stroke-width="0.7" />
<text x="136.71" y="649.75" font-size="4.5" text-anchor="middle" textLength="5.63" lengthAdjust="spacingAndGlyphs" fill="#424242">0.8</text>
<line x1="147.03" y1="641.90" x2="147.03" y2="643.80" stroke="#222222" stroke-width="0.7" />
<text x="147.03" y="649.75" font-size="4.5" text-anchor="middle" textLength="5.63" lengthAdjust="spacingAndGlyphs" fill="#424242">0.7</text>
<line x1="154.93" y1="641.90" x2="154.93" y2="643.80" stroke="#222222" stroke-width="0.7" />
<text x="154.93" y="649.75" font-size="4.5" text-anchor="middle" textLength="5.63" lengthAdjust="spacingAndGlyphs" fill="#424242">0.6</text>
<line x1="161.64" y1="641.90" x2="161.64" y2="643.80" stroke="#222222" stroke-width="0.7" />
<text x="161.64" y="649.75" font-size="4.5" text-anchor="middle" textLength="5.63" lengthAdjust="spacingAndGlyphs" fill="#424242">0.5</text>
<line x1="167.78" y1="641.90" x2="167.78" y2="643.80" stroke="#222222" stroke-width="0.7" />
<text x="167.78" y="649.75" font-size="4.5" text-anchor="middle" textLength="5.63" lengthAdjust="spacingAndGlyphs" fill="#424242">0.4</text>
<line x1="173.79" y1="641.90" x2="173.79" y2="643.80" stroke="#222222" stroke-width="0.7" />
<text x="173.79" y="649.75" font-size="4.5" text-anchor="middle" textLength="5.63" lengthAdjust="spacingAndGlyphs" fill="#424242">0.3</text>
<line x1="180.18" y1="641.90" x2="180.18" y2="643.80" stroke="#222222" stroke-width="0.7" />
<text x="180.18" y="649.75" font-size="4.5" text-anchor="middle" textLength="5.63" lengthAdjust="spacingAndGlyphs" fill="#424242">0.2</text>
<line x1="188.06" y1="641.90" x2="188.06" y2="643.80" stroke="#222222" stroke-width="0.7" />
<text x="188.06" y="649.75" font-size="4.5" text-anchor="middle" textLength="5.63" lengthAdjust="spacingAndGlyphs" fill="#424242">0.1</text>
<text x="259.2" y="499.9" font-size="12.6" font-weight="bold" fill="#000" stroke="#000" stroke-width="0.45">H</text>
<text x="271.00" y="517.55" font-size="4.5" fill="#424242">Points</text>
<text x="271.00" y="527.35" font-size="4.5" fill="#424242">EBER</text>
<text x="271.00" y="536.95" font-size="4.5" fill="#424242">BUN</text>
<text x="271.00" y="546.85" font-size="4.5" fill="#424242">sCD25</text>
<text x="271.00" y="556.65" font-size="4.5" fill="#424242">FIB</text>
<text x="271.00" y="566.15" font-size="4.5" fill="#424242">ALB</text>
<text x="271.00" y="575.75" font-size="4.5" fill="#424242">β2M</text>
<text x="271.00" y="585.55" font-size="4.5" fill="#424242">Total Points</text>
<text x="271.00" y="594.95" font-size="4.5" fill="#424242">Linear Predictor</text>
<text x="271.00" y="604.75" font-size="4.5" fill="#424242">8-week Survival Probability</text>
<text x="271.00" y="614.55" font-size="4.5" fill="#424242">0.5-year Survival Probability</text>
<text x="271.00" y="624.35" font-size="4.5" fill="#424242">1-year Survival Probability</text>
<text x="271.00" y="633.85" font-size="4.5" fill="#424242">2-year Survival Probability</text>
<text x="271.00" y="643.45" font-size="4.5" fill="#424242">5-year Survival Probability</text>
<line x1="346.90" y1="515.90" x2="500.60" y2="515.90" stroke="#222222" stroke-width="1.0" />
<line x1="346.90" y1="515.90" x2="346.90" y2="513.50" stroke="#222222" stroke-width="0.7" />
<line x1="349.97" y1="515.90" x2="349.97" y2="514.60" stroke="#222222" stroke-width="0.7" />
<line x1="353.05" y1="515.90" x2="353.05" y2="514.60" stroke="#222222" stroke-width="0.7" />
<line x1="356.12" y1="515.90" x2="356.12" y2="514.60" stroke="#222222" stroke-width="0.7" />
<line x1="359.20" y1="515.90" x2="359.20" y2="514.60" stroke="#222222" stroke-width="0.7" />
<line x1="362.27" y1="515.90" x2="362.27" y2="513.50" stroke="#222222" stroke-width="0.7" />
<line x1="365.34" y1="515.90" x2="365.34" y2="514.60" stroke="#222222" stroke-width="0.7" />
<line x1="368.42" y1="515.90" x2="368.42" y2="514.60" stroke="#222222" stroke-width="0.7" />
<line x1="371.49" y1="515.90" x2="371.49" y2="514.60" stroke="#222222" stroke-width="0.7" />
<line x1="374.57" y1="515.90" x2="374.57" y2="514.60" stroke="#222222" stroke-width="0.7" />
<line x1="377.64" y1="515.90" x2="377.64" y2="513.50" stroke="#222222" stroke-width="0.7" />
<line x1="380.71" y1="515.90" x2="380.71" y2="514.60" stroke="#222222" stroke-width="0.7" />
<line x1="383.79" y1="515.90" x2="383.79" y2="514.60" stroke="#222222" stroke-width="0.7" />
<line x1="386.86" y1="515.90" x2="386.86" y2="514.60" stroke="#222222" stroke-width="0.7" />
<line x1="389.94" y1="515.90" x2="389.94" y2="514.60" stroke="#222222" stroke-width="0.7" />
<line x1="393.01" y1="515.90" x2="393.01" y2="513.50" stroke="#222222" stroke-width="0.7" />
<line x1="396.08" y1="515.90" x2="396.08" y2="514.60" stroke="#222222" stroke-width="0.7" />
<line x1="399.16" y1="515.90" x2="399.16" y2="514.60" stroke="#222222" stroke-width="0.7" />
<line x1="402.23" y1="515.90" x2="402.23" y2="514.60" stroke="#222222" stroke-width="0.7" />
<line x1="405.31" y1="515.90" x2="405.31" y2="514.60" stroke="#222222" stroke-width="0.7" />
<line x1="408.38" y1="515.90" x2="408.38" y2="513.50" stroke="#222222" stroke-width="0.7" />
<line x1="411.45" y1="515.90" x2="411.45" y2="514.60" stroke="#222222" stroke-width="0.7" />
<line x1="414.53" y1="515.90" x2="414.53" y2="514.60" stroke="#222222" stroke-width="0.7" />
<line x1="417.60" y1="515.90" x2="417.60" y2="514.60" stroke="#222222" stroke-width="0.7" />
<line x1="420.68" y1="515.90" x2="420.68" y2="514.60" stroke="#222222" stroke-width="0.7" />
<line x1="423.75" y1="515.90" x2="423.75" y2="513.50" stroke="#222222" stroke-width="0.7" />
<line x1="426.82" y1="515.90" x2="426.82" y2="514.60" stroke="#222222" stroke-width="0.7" />
<line x1="429.90" y1="515.90" x2="429.90" y2="514.60" stroke="#222222" stroke-width="0.7" />
<line x1="432.97" y1="515.90" x2="432.97" y2="514.60" stroke="#222222" stroke-width="0.7" />
<line x1="436.05" y1="515.90" x2="436.05" y2="514.60" stroke="#222222" stroke-width="0.7" />
<line x1="439.12" y1="515.90" x2="439.12" y2="513.50" stroke="#222222" stroke-width="0.7" />
<line x1="442.19" y1="515.90" x2="442.19" y2="514.60" stroke="#222222" stroke-width="0.7" />
<line x1="445.27" y1="515.90" x2="445.27" y2="514.60" stroke="#222222" stroke-width="0.7" />
<line x1="448.34" y1="515.90" x2="448.34" y2="514.60" stroke="#222222" stroke-width="0.7" />
<line x1="451.42" y1="515.90" x2="451.42" y2="514.60" stroke="#222222" stroke-width="0.7" />
<line x1="454.49" y1="515.90" x2="454.49" y2="513.50" stroke="#222222" stroke-width="0.7" />
<line x1="457.56" y1="515.90" x2="457.56" y2="514.60" stroke="#222222" stroke-width="0.7" />
<line x1="460.64" y1="515.90" x2="460.64" y2="514.60" stroke="#222222" stroke-width="0.7" />
<line x1="463.71" y1="515.90" x2="463.71" y2="514.60" stroke="#222222" stroke-width="0.7" />
<line x1="466.79" y1="515.90" x2="466.79" y2="514.60" stroke="#222222" stroke-width="0.7" />
<line x1="469.86" y1="515.90" x2="469.86" y2="513.50" stroke="#222222" stroke-width="0.7" />
<line x1="472.93" y1="515.90" x2="472.93" y2="514.60" stroke="#222222" stroke-width="0.7" />
<line x1="476.01" y1="515.90" x2="476.01" y2="514.60" stroke="#222222" stroke-width="0.7" />
<line x1="479.08" y1="515.90" x2="479.08" y2="514.60" stroke="#222222" stroke-width="0.7" />
<line x1="482.16" y1="515.90" x2="482.16" y2="514.60" stroke="#222222" stroke-width="0.7" />
<line x1="485.23" y1="515.90" x2="485.23" y2="513.50" stroke="#222222" stroke-width="0.7" />
<line x1="488.30" y1="515.90" x2="488.30" y2="514.60" stroke="#222222" stroke-width="0.7" />
<line x1="491.38" y1="515.90" x2="491.38" y2="514.60" stroke="#222222" stroke-width="0.7" />
<line x1="494.45" y1="515.90" x2="494.45" y2="514.60" stroke="#222222" stroke-width="0.7" />
<line x1="497.53" y1="515.90" x2="497.53" y2="514.60" stroke="#222222" stroke-width="0.7" />
<line x1="500.60" y1="515.90" x2="500.60" y2="513.50" stroke="#222222" stroke-width="0.7" />
<text x="346.90" y="509.94" font-size="4.2" text-anchor="middle" textLength="2.10" lengthAdjust="spacingAndGlyphs" fill="#424242">0</text>
<text x="362.27" y="509.94" font-size="4.2" text-anchor="middle" textLength="4.20" lengthAdjust="spacingAndGlyphs" fill="#424242">10</text>
<text x="377.64" y="509.94" font-size="4.2" text-anchor="middle" textLength="4.20" lengthAdjust="spacingAndGlyphs" fill="#424242">20</text>
<text x="393.01" y="509.94" font-size="4.2" text-anchor="middle" textLength="4.20" lengthAdjust="spacingAndGlyphs" fill="#424242">30</text>
<text x="408.38" y="509.94" font-size="4.2" text-anchor="middle" textLength="4.20" lengthAdjust="spacingAndGlyphs" fill="#424242">40</text>
<text x="423.75" y="509.94" font-size="4.2" text-anchor="middle" textLength="4.20" lengthAdjust="spacingAndGlyphs" fill="#424242">50</text>
<text x="439.12" y="509.94" font-size="4.2" text-anchor="middle" textLength="4.20" lengthAdjust="spacingAndGlyphs" fill="#424242">60</text>
<text x="454.49" y="509.94" font-size="4.2" text-anchor="middle" textLength="4.20" lengthAdjust="spacingAndGlyphs" fill="#424242">70</text>
<text x="469.86" y="509.94" font-size="4.2" text-anchor="middle" textLength="4.20" lengthAdjust="spacingAndGlyphs" fill="#424242">80</text>
<text x="485.23" y="509.94" font-size="4.2" text-anchor="middle" textLength="4.20" lengthAdjust="spacingAndGlyphs" fill="#424242">90</text>
<text x="500.60" y="509.94" font-size="4.2" text-anchor="middle" textLength="6.31" lengthAdjust="spacingAndGlyphs" fill="#424242">100</text>
<line x1="346.90" y1="525.70" x2="469.86" y2="525.70" stroke="#222222" stroke-width="1.1" />
<line x1="346.90" y1="525.70" x2="346.90" y2="528.10" stroke="#222222" stroke-width="0.7" />
<text x="346.90" y="533.85" font-size="4.5" text-anchor="middle" fill="#424242">negative</text>
<line x1="469.86" y1="525.70" x2="469.86" y2="523.30" stroke="#222222" stroke-width="0.7" />
<text x="469.86" y="520.65" font-size="4.5" text-anchor="middle" fill="#424242">positive</text>
<line x1="346.90" y1="535.30" x2="500.60" y2="535.30" stroke="#222222" stroke-width="1.1" />
<line x1="346.90" y1="535.30" x2="346.90" y2="537.70" stroke="#222222" stroke-width="0.7" />
<text x="346.90" y="543.45" font-size="4.5" text-anchor="middle" fill="#424242">≤4.5mmol/L</text>
<line x1="500.60" y1="535.30" x2="500.60" y2="532.90" stroke="#222222" stroke-width="0.7" />
<text x="500.60" y="530.25" font-size="4.5" text-anchor="middle" fill="#424242">&gt;4.5mmol/L</text>
<line x1="346.90" y1="544.90" x2="423.29" y2="544.90" stroke="#222222" stroke-width="1.1" />
<line x1="346.90" y1="544.90" x2="346.90" y2="547.30" stroke="#222222" stroke-width="0.7" />
<text x="346.90" y="553.05" font-size="4.5" text-anchor="middle" fill="#424242">≤15000pg/ml</text>
<line x1="423.29" y1="544.90" x2="423.29" y2="542.50" stroke="#222222" stroke-width="0.7" />
<text x="423.29" y="539.85" font-size="4.5" text-anchor="middle" fill="#424242">&gt;15000pg/ml</text>
<line x1="346.90" y1="554.70" x2="415.30" y2="554.70" stroke="#222222" stroke-width="1.1" />
<line x1="346.90" y1="554.70" x2="346.90" y2="557.10" stroke="#222222" stroke-width="0.7" />
<text x="346.90" y="562.85" font-size="4.5" text-anchor="middle" fill="#424242">≥1.5g/L</text>
<line x1="415.30" y1="554.70" x2="415.30" y2="552.30" stroke="#222222" stroke-width="0.7" />
<text x="415.30" y="549.65" font-size="4.5" text-anchor="middle" fill="#424242">&lt;1.5g/L</text>
<line x1="346.90" y1="564.20" x2="416.83" y2="564.20" stroke="#222222" stroke-width="1.1" />
<line x1="346.90" y1="564.20" x2="346.90" y2="566.60" stroke="#222222" stroke-width="0.7" />
<text x="346.90" y="572.35" font-size="4.5" text-anchor="middle" fill="#424242">≥30g/L</text>
<line x1="416.83" y1="564.20" x2="416.83" y2="561.80" stroke="#222222" stroke-width="0.7" />
<text x="416.83" y="559.15" font-size="4.5" text-anchor="middle" fill="#424242">&lt;30g/L</text>
<line x1="346.90" y1="573.80" x2="458.33" y2="573.80" stroke="#222222" stroke-width="1.1" />
<line x1="346.90" y1="573.80" x2="346.90" y2="576.20" stroke="#222222" stroke-width="0.7" />
<text x="346.90" y="581.95" font-size="4.5" text-anchor="middle" fill="#424242">≤5mg/L</text>
<line x1="458.33" y1="573.80" x2="458.33" y2="571.40" stroke="#222222" stroke-width="0.7" />
<text x="458.33" y="568.75" font-size="4.5" text-anchor="middle" fill="#424242">&gt;5mg/L</text>
<line x1="346.90" y1="583.80" x2="500.80" y2="583.80" stroke="#222222" stroke-width="1.0" />
<line x1="346.90" y1="583.80" x2="346.90" y2="586.00" stroke="#222222" stroke-width="0.7" />
<line x1="350.32" y1="583.80" x2="350.32" y2="585.00" stroke="#222222" stroke-width="0.7" />
<line x1="353.74" y1="583.80" x2="353.74" y2="585.00" stroke="#222222" stroke-width="0.7" />
<line x1="357.16" y1="583.80" x2="357.16" y2="585.00" stroke="#222222" stroke-width="0.7" />
<line x1="360.58" y1="583.80" x2="360.58" y2="585.00" stroke="#222222" stroke-width="0.7" />
<line x1="364.00" y1="583.80" x2="364.00" y2="586.00" stroke="#222222" stroke-width="0.7" />
<line x1="367.42" y1="583.80" x2="367.42" y2="585.00" stroke="#222222" stroke-width="0.7" />
<line x1="370.84" y1="583.80" x2="370.84" y2="585.00" stroke="#222222" stroke-width="0.7" />
<line x1="374.26" y1="583.80" x2="374.26" y2="585.00" stroke="#222222" stroke-width="0.7" />
<line x1="377.68" y1="583.80" x2="377.68" y2="585.00" stroke="#222222" stroke-width="0.7" />
<line x1="381.10" y1="583.80" x2="381.10" y2="586.00" stroke="#222222" stroke-width="0.7" />
<line x1="384.52" y1="583.80" x2="384.52" y2="585.00" stroke="#222222" stroke-width="0.7" />
<line x1="387.94" y1="583.80" x2="387.94" y2="585.00" stroke="#222222" stroke-width="0.7" />
<line x1="391.36" y1="583.80" x2="391.36" y2="585.00" stroke="#222222" stroke-width="0.7" />
<line x1="394.78" y1="583.80" x2="394.78" y2="585.00" stroke="#222222" stroke-width="0.7" />
<line x1="398.20" y1="583.80" x2="398.20" y2="586.00" stroke="#222222" stroke-width="0.7" />
<line x1="401.62" y1="583.80" x2="401.62" y2="585.00" stroke="#222222" stroke-width="0.7" />
<line x1="405.04" y1="583.80" x2="405.04" y2="585.00" stroke="#222222" stroke-width="0.7" />
<line x1="408.46" y1="583.80" x2="408.46" y2="585.00" stroke="#222222" stroke-width="0.7" />
<line x1="411.88" y1="583.80" x2="411.88" y2="585.00" stroke="#222222" stroke-width="0.7" />
<line x1="415.30" y1="583.80" x2="415.30" y2="586.00" stroke="#222222" stroke-width="0.7" />
<line x1="418.72" y1="583.80" x2="418.72" y2="585.00" stroke="#222222" stroke-width="0.7" />
<line x1="422.14" y1="583.80" x2="422.14" y2="585.00" stroke="#222222" stroke-width="0.7" />
<line x1="425.56" y1="583.80" x2="425.56" y2="585.00" stroke="#222222" stroke-width="0.7" />
<line x1="428.98" y1="583.80" x2="428.98" y2="585.00" stroke="#222222" stroke-width="0.7" />
<line x1="432.40" y1="583.80" x2="432.40" y2="586.00" stroke="#222222" stroke-width="0.7" />
<line x1="435.82" y1="583.80" x2="435.82" y2="585.00" stroke="#222222" stroke-width="0.7" />
<line x1="439.24" y1="583.80" x2="439.24" y2="585.00" stroke="#222222" stroke-width="0.7" />
<line x1="442.66" y1="583.80" x2="442.66" y2="585.00" stroke="#222222" stroke-width="0.7" />
<line x1="446.08" y1="583.80" x2="446.08" y2="585.00" stroke="#222222" stroke-width="0.7" />
<line x1="449.50" y1="583.80" x2="449.50" y2="586.00" stroke="#222222" stroke-width="0.7" />
<line x1="452.92" y1="583.80" x2="452.92" y2="585.00" stroke="#222222" stroke-width="0.7" />
<line x1="456.34" y1="583.80" x2="456.34" y2="585.00" stroke="#222222" stroke-width="0.7" />
<line x1="459.76" y1="583.80" x2="459.76" y2="585.00" stroke="#222222" stroke-width="0.7" />
<line x1="463.18" y1="583.80" x2="463.18" y2="585.00" stroke="#222222" stroke-width="0.7" />
<line x1="466.60" y1="583.80" x2="466.60" y2="586.00" stroke="#222222" stroke-width="0.7" />
<line x1="470.02" y1="583.80" x2="470.02" y2="585.00" stroke="#222222" stroke-width="0.7" />
<line x1="473.44" y1="583.80" x2="473.44" y2="585.00" stroke="#222222" stroke-width="0.7" />
<line x1="476.86" y1="583.80" x2="476.86" y2="585.00" stroke="#222222" stroke-width="0.7" />
<line x1="480.28" y1="583.80" x2="480.28" y2="585.00" stroke="#222222" stroke-width="0.7" />
<line x1="483.70" y1="583.80" x2="483.70" y2="586.00" stroke="#222222" stroke-width="0.7" />
<line x1="487.12" y1="583.80" x2="487.12" y2="585.00" stroke="#222222" stroke-width="0.7" />
<line x1="490.54" y1="583.80" x2="490.54" y2="585.00" stroke="#222222" stroke-width="0.7" />
<line x1="493.96" y1="583.80" x2="493.96" y2="585.00" stroke="#222222" stroke-width="0.7" />
<line x1="497.38" y1="583.80" x2="497.38" y2="585.00" stroke="#222222" stroke-width="0.7" />
<line x1="500.80" y1="583.80" x2="500.80" y2="586.00" stroke="#222222" stroke-width="0.7" />
<text x="346.90" y="591.55" font-size="4.5" text-anchor="middle" textLength="2.25" lengthAdjust="spacingAndGlyphs" fill="#424242">0</text>
<text x="364.00" y="591.55" font-size="4.5" text-anchor="middle" textLength="4.50" lengthAdjust="spacingAndGlyphs" fill="#424242">50</text>
<text x="381.10" y="591.55" font-size="4.5" text-anchor="middle" textLength="6.76" lengthAdjust="spacingAndGlyphs" fill="#424242">100</text>
<text x="398.20" y="591.55" font-size="4.5" text-anchor="middle" textLength="6.76" lengthAdjust="spacingAndGlyphs" fill="#424242">150</text>
<text x="415.30" y="591.55" font-size="4.5" text-anchor="middle" textLength="6.76" lengthAdjust="spacingAndGlyphs" fill="#424242">200</text>
<text x="432.40" y="591.55" font-size="4.5" text-anchor="middle" textLength="6.76" lengthAdjust="spacingAndGlyphs" fill="#424242">250</text>
<text x="449.50" y="591.55" font-size="4.5" text-anchor="middle" textLength="6.76" lengthAdjust="spacingAndGlyphs" fill="#424242">300</text>
<text x="466.60" y="591.55" font-size="4.5" text-anchor="middle" textLength="6.76" lengthAdjust="spacingAndGlyphs" fill="#424242">350</text>
<text x="483.70" y="591.55" font-size="4.5" text-anchor="middle" textLength="6.76" lengthAdjust="spacingAndGlyphs" fill="#424242">400</text>
<text x="500.80" y="591.55" font-size="4.5" text-anchor="middle" textLength="6.76" lengthAdjust="spacingAndGlyphs" fill="#424242">450</text>
<line x1="337.06" y1="593.70" x2="485.52" y2="593.70" stroke="#222222" stroke-width="1.0" />
<line x1="337.06" y1="593.70" x2="337.06" y2="595.90" stroke="#222222" stroke-width="0.7" />
<line x1="339.34" y1="593.70" x2="339.34" y2="594.80" stroke="#222222" stroke-width="0.7" />
<line x1="341.63" y1="593.70" x2="341.63" y2="594.80" stroke="#222222" stroke-width="0.7" />
<line x1="343.91" y1="593.70" x2="343.91" y2="594.80" stroke="#222222" stroke-width="0.7" />
<line x1="346.20" y1="593.70" x2="346.20" y2="594.80" stroke="#222222" stroke-width="0.7" />
<line x1="348.48" y1="593.70" x2="348.48" y2="595.90" stroke="#222222" stroke-width="0.7" />
<line x1="350.76" y1="593.70" x2="350.76" y2="594.80" stroke="#222222" stroke-width="0.7" />
<line x1="353.05" y1="593.70" x2="353.05" y2="594.80" stroke="#222222" stroke-width="0.7" />
<line x1="355.33" y1="593.70" x2="355.33" y2="594.80" stroke="#222222" stroke-width="0.7" />
<line x1="357.62" y1="593.70" x2="357.62" y2="594.80" stroke="#222222" stroke-width="0.7" />
<line x1="359.90" y1="593.70" x2="359.90" y2="595.90" stroke="#222222" stroke-width="0.7" />
<line x1="362.18" y1="593.70" x2="362.18" y2="594.80" stroke="#222222" stroke-width="0.7" />
<line x1="364.47" y1="593.70" x2="364.47" y2="594.80" stroke="#222222" stroke-width="0.7" />
<line x1="366.75" y1="593.70" x2="366.75" y2="594.80" stroke="#222222" stroke-width="0.7" />
<line x1="369.04" y1="593.70" x2="369.04" y2="594.80" stroke="#222222" stroke-width="0.7" />
<line x1="371.32" y1="593.70" x2="371.32" y2="595.90" stroke="#222222" stroke-width="0.7" />
<line x1="373.60" y1="593.70" x2="373.60" y2="594.80" stroke="#222222" stroke-width="0.7" />
<line x1="375.89" y1="593.70" x2="375.89" y2="594.80" stroke="#222222" stroke-width="0.7" />
<line x1="378.17" y1="593.70" x2="378.17" y2="594.80" stroke="#222222" stroke-width="0.7" />
<line x1="380.46" y1="593.70" x2="380.46" y2="594.80" stroke="#222222" stroke-width="0.7" />
<line x1="382.74" y1="593.70" x2="382.74" y2="595.90" stroke="#222222" stroke-width="0.7" />
<line x1="385.02" y1="593.70" x2="385.02" y2="594.80" stroke="#222222" stroke-width="0.7" />
<line x1="387.31" y1="593.70" x2="387.31" y2="594.80" stroke="#222222" stroke-width="0.7" />
<line x1="389.59" y1="593.70" x2="389.59" y2="594.80" stroke="#222222" stroke-width="0.7" />
<line x1="391.88" y1="593.70" x2="391.88" y2="594.80" stroke="#222222" stroke-width="0.7" />
<line x1="394.16" y1="593.70" x2="394.16" y2="595.90" stroke="#222222" stroke-width="0.7" />
<line x1="396.44" y1="593.70" x2="396.44" y2="594.80" stroke="#222222" stroke-width="0.7" />
<line x1="398.73" y1="593.70" x2="398.73" y2="594.80" stroke="#222222" stroke-width="0.7" />
<line x1="401.01" y1="593.70" x2="401.01" y2="594.80" stroke="#222222" stroke-width="0.7" />
<line x1="403.30" y1="593.70" x2="403.30" y2="594.80" stroke="#222222" stroke-width="0.7" />
<line x1="405.58" y1="593.70" x2="405.58" y2="595.90" stroke="#222222" stroke-width="0.7" />
<line x1="407.86" y1="593.70" x2="407.86" y2="594.80" stroke="#222222" stroke-width="0.7" />
<line x1="410.15" y1="593.70" x2="410.15" y2="594.80" stroke="#222222" stroke-width="0.7" />
<line x1="412.43" y1="593.70" x2="412.43" y2="594.80" stroke="#222222" stroke-width="0.7" />
<line x1="414.72" y1="593.70" x2="414.72" y2="594.80" stroke="#222222" stroke-width="0.7" />
<line x1="417.00" y1="593.70" x2="417.00" y2="595.90" stroke="#222222" stroke-width="0.7" />
<line x1="419.28" y1="593.70" x2="419.28" y2="594.80" stroke="#222222" stroke-width="0.7" />
<line x1="421.57" y1="593.70" x2="421.57" y2="594.80" stroke="#222222" stroke-width="0.7" />
<line x1="423.85" y1="593.70" x2="423.85" y2="594.80" stroke="#222222" stroke-width="0.7" />
<line x1="426.14" y1="593.70" x2="426.14" y2="594.80" stroke="#222222" stroke-width="0.7" />
<line x1="428.42" y1="593.70" x2="428.42" y2="595.90" stroke="#222222" stroke-width="0.7" />
<line x1="430.70" y1="593.70" x2="430.70" y2="594.80" stroke="#222222" stroke-width="0.7" />
<line x1="432.99" y1="593.70" x2="432.99" y2="594.80" stroke="#222222" stroke-width="0.7" />
<line x1="435.27" y1="593.70" x2="435.27" y2="594.80" stroke="#222222" stroke-width="0.7" />
<line x1="437.56" y1="593.70" x2="437.56" y2="594.80" stroke="#222222" stroke-width="0.7" />
<line x1="439.84" y1="593.70" x2="439.84" y2="595.90" stroke="#222222" stroke-width="0.7" />
<line x1="442.12" y1="593.70" x2="442.12" y2="594.80" stroke="#222222" stroke-width="0.7" />
<line x1="444.41" y1="593.70" x2="444.41" y2="594.80" stroke="#222222" stroke-width="0.7" />
<line x1="446.69" y1="593.70" x2="446.69" y2="594.80" stroke="#222222" stroke-width="0.7" />
<line x1="448.98" y1="593.70" x2="448.98" y2="594.80" stroke="#222222" stroke-width="0.7" />
<line x1="451.26" y1="593.70" x2="451.26" y2="595.90" stroke="#222222" stroke-width="0.7" />
<line x1="453.54" y1="593.70" x2="453.54" y2="594.80" stroke="#222222" stroke-width="0.7" />
<line x1="455.83" y1="593.70" x2="455.83" y2="594.80" stroke="#222222" stroke-width="0.7" />
<line x1="458.11" y1="593.70" x2="458.11" y2="594.80" stroke="#222222" stroke-width="0.7" />
<line x1="460.40" y1="593.70" x2="460.40" y2="594.80" stroke="#222222" stroke-width="0.7" />
<line x1="462.68" y1="593.70" x2="462.68" y2="595.90" stroke="#222222" stroke-width="0.7" />
<line x1="464.96" y1="593.70" x2="464.96" y2="594.80" stroke="#222222" stroke-width="0.7" />
<line x1="467.25" y1="593.70" x2="467.25" y2="594.80" stroke="#222222" stroke-width="0.7" />
<line x1="469.53" y1="593.70" x2="469.53" y2="594.80" stroke="#222222" stroke-width="0.7" />
<line x1="471.82" y1="593.70" x2="471.82" y2="594.80" stroke="#222222" stroke-width="0.7" />
<line x1="474.10" y1="593.70" x2="474.10" y2="595.90" stroke="#222222" stroke-width="0.7" />
<line x1="476.38" y1="593.70" x2="476.38" y2="594.80" stroke="#222222" stroke-width="0.7" />
<line x1="478.67" y1="593.70" x2="478.67" y2="594.80" stroke="#222222" stroke-width="0.7" />
<line x1="480.95" y1="593.70" x2="480.95" y2="594.80" stroke="#222222" stroke-width="0.7" />
<line x1="483.24" y1="593.70" x2="483.24" y2="594.80" stroke="#222222" stroke-width="0.7" />
<line x1="485.52" y1="593.70" x2="485.52" y2="595.90" stroke="#222222" stroke-width="0.7" />
<text x="337.06" y="601.55" font-size="4.5" text-anchor="middle" textLength="6.98" lengthAdjust="spacingAndGlyphs" fill="#424242">-3.5</text>
<text x="348.48" y="601.55" font-size="4.5" text-anchor="middle" textLength="3.60" lengthAdjust="spacingAndGlyphs" fill="#424242">-3</text>
<text x="359.90" y="601.55" font-size="4.5" text-anchor="middle" textLength="6.98" lengthAdjust="spacingAndGlyphs" fill="#424242">-2.5</text>
<text x="371.32" y="601.55" font-size="4.5" text-anchor="middle" textLength="3.60" lengthAdjust="spacingAndGlyphs" fill="#424242">-2</text>
<text x="382.74" y="601.55" font-size="4.5" text-anchor="middle" textLength="6.98" lengthAdjust="spacingAndGlyphs" fill="#424242">-1.5</text>
<text x="394.16" y="601.55" font-size="4.5" text-anchor="middle" textLength="3.60" lengthAdjust="spacingAndGlyphs" fill="#424242">-1</text>
<text x="405.58" y="601.55" font-size="4.5" text-anchor="middle" textLength="6.98" lengthAdjust="spacingAndGlyphs" fill="#424242">-0.5</text>
<text x="417.00" y="601.55" font-size="4.5" text-anchor="middle" textLength="2.25" lengthAdjust="spacingAndGlyphs" fill="#424242">0</text>
<text x="428.42" y="601.55" font-size="4.5" text-anchor="middle" textLength="5.63" lengthAdjust="spacingAndGlyphs" fill="#424242">0.5</text>
<text x="439.84" y="601.55" font-size="4.5" text-anchor="middle" textLength="2.25" lengthAdjust="spacingAndGlyphs" fill="#424242">1</text>
<text x="451.26" y="601.55" font-size="4.5" text-anchor="middle" textLength="5.63" lengthAdjust="spacingAndGlyphs" fill="#424242">1.5</text>
<text x="462.68" y="601.55" font-size="4.5" text-anchor="middle" textLength="2.25" lengthAdjust="spacingAndGlyphs" fill="#424242">2</text>
<text x="474.10" y="601.55" font-size="4.5" text-anchor="middle" textLength="5.63" lengthAdjust="spacingAndGlyphs" fill="#424242">2.5</text>
<text x="485.52" y="601.55" font-size="4.5" text-anchor="middle" textLength="2.25" lengthAdjust="spacingAndGlyphs" fill="#424242">3</text>
<line x1="394.00" y1="604.00" x2="464.45" y2="604.00" stroke="#222222" stroke-width="1.0" />
<line x1="394.00" y1="604.00" x2="394.00" y2="605.90" stroke="#222222" stroke-width="0.7" />
<text x="394.00" y="610.85" font-size="4.5" text-anchor="middle" textLength="5.63" lengthAdjust="spacingAndGlyphs" fill="#424242">0.9</text>
<line x1="411.14" y1="604.00" x2="411.14" y2="605.90" stroke="#222222" stroke-width="0.7" />
<text x="411.14" y="610.85" font-size="4.5" text-anchor="middle" textLength="5.63" lengthAdjust="spacingAndGlyphs" fill="#424242">0.8</text>
<line x1="421.85" y1="604.00" x2="421.85" y2="605.90" stroke="#222222" stroke-width="0.7" />
<text x="421.85" y="610.85" font-size="4.5" text-anchor="middle" textLength="5.63" lengthAdjust="spacingAndGlyphs" fill="#424242">0.7</text>
<line x1="430.06" y1="604.00" x2="430.06" y2="605.90" stroke="#222222" stroke-width="0.7" />
<text x="430.06" y="610.85" font-size="4.5" text-anchor="middle" textLength="5.63" lengthAdjust="spacingAndGlyphs" fill="#424242">0.6</text>
<line x1="437.03" y1="604.00" x2="437.03" y2="605.90" stroke="#222222" stroke-width="0.7" />
<text x="437.03" y="610.85" font-size="4.5" text-anchor="middle" textLength="5.63" lengthAdjust="spacingAndGlyphs" fill="#424242">0.5</text>
<line x1="443.40" y1="604.00" x2="443.40" y2="605.90" stroke="#222222" stroke-width="0.7" />
<text x="443.40" y="610.85" font-size="4.5" text-anchor="middle" textLength="5.63" lengthAdjust="spacingAndGlyphs" fill="#424242">0.4</text>
<line x1="449.64" y1="604.00" x2="449.64" y2="605.90" stroke="#222222" stroke-width="0.7" />
<text x="449.64" y="610.85" font-size="4.5" text-anchor="middle" textLength="5.63" lengthAdjust="spacingAndGlyphs" fill="#424242">0.3</text>
<line x1="456.27" y1="604.00" x2="456.27" y2="605.90" stroke="#222222" stroke-width="0.7" />
<text x="456.27" y="610.85" font-size="4.5" text-anchor="middle" textLength="5.63" lengthAdjust="spacingAndGlyphs" fill="#424242">0.2</text>
<line x1="464.45" y1="604.00" x2="464.45" y2="605.90" stroke="#222222" stroke-width="0.7" />
<text x="464.45" y="610.85" font-size="4.5" text-anchor="middle" textLength="5.63" lengthAdjust="spacingAndGlyphs" fill="#424242">0.1</text>
<line x1="368.40" y1="613.20" x2="438.85" y2="613.20" stroke="#222222" stroke-width="1.0" />
<line x1="368.40" y1="613.20" x2="368.40" y2="615.10" stroke="#222222" stroke-width="0.7" />
<text x="368.40" y="620.85" font-size="4.5" text-anchor="middle" textLength="5.63" lengthAdjust="spacingAndGlyphs" fill="#424242">0.9</text>
<line x1="385.54" y1="613.20" x2="385.54" y2="615.10" stroke="#222222" stroke-width="0.7" />
<text x="385.54" y="620.85" font-size="4.5" text-anchor="middle" textLength="5.63" lengthAdjust="spacingAndGlyphs" fill="#424242">0.8</text>
<line x1="396.25" y1="613.20" x2="396.25" y2="615.10" stroke="#222222" stroke-width="0.7" />
<text x="396.25" y="620.85" font-size="4.5" text-anchor="middle" textLength="5.63" lengthAdjust="spacingAndGlyphs" fill="#424242">0.7</text>
<line x1="404.46" y1="613.20" x2="404.46" y2="615.10" stroke="#222222" stroke-width="0.7" />
<text x="404.46" y="620.85" font-size="4.5" text-anchor="middle" textLength="5.63" lengthAdjust="spacingAndGlyphs" fill="#424242">0.6</text>
<line x1="411.43" y1="613.20" x2="411.43" y2="615.10" stroke="#222222" stroke-width="0.7" />
<text x="411.43" y="620.85" font-size="4.5" text-anchor="middle" textLength="5.63" lengthAdjust="spacingAndGlyphs" fill="#424242">0.5</text>
<line x1="417.80" y1="613.20" x2="417.80" y2="615.10" stroke="#222222" stroke-width="0.7" />
<text x="417.80" y="620.85" font-size="4.5" text-anchor="middle" textLength="5.63" lengthAdjust="spacingAndGlyphs" fill="#424242">0.4</text>
<line x1="424.04" y1="613.20" x2="424.04" y2="615.10" stroke="#222222" stroke-width="0.7" />
<text x="424.04" y="620.85" font-size="4.5" text-anchor="middle" textLength="5.63" lengthAdjust="spacingAndGlyphs" fill="#424242">0.3</text>
<line x1="430.67" y1="613.20" x2="430.67" y2="615.10" stroke="#222222" stroke-width="0.7" />
<text x="430.67" y="620.85" font-size="4.5" text-anchor="middle" textLength="5.63" lengthAdjust="spacingAndGlyphs" fill="#424242">0.2</text>
<line x1="438.85" y1="613.20" x2="438.85" y2="615.10" stroke="#222222" stroke-width="0.7" />
<text x="438.85" y="620.85" font-size="4.5" text-anchor="middle" textLength="5.63" lengthAdjust="spacingAndGlyphs" fill="#424242">0.1</text>
<line x1="363.30" y1="622.50" x2="433.75" y2="622.50" stroke="#222222" stroke-width="1.0" />
<line x1="363.30" y1="622.50" x2="363.30" y2="624.40" stroke="#222222" stroke-width="0.7" />
<text x="363.30" y="630.55" font-size="4.5" text-anchor="middle" textLength="5.63" lengthAdjust="spacingAndGlyphs" fill="#424242">0.9</text>
<line x1="380.44" y1="622.50" x2="380.44" y2="624.40" stroke="#222222" stroke-width="0.7" />
<text x="380.44" y="630.55" font-size="4.5" text-anchor="middle" textLength="5.63" lengthAdjust="spacingAndGlyphs" fill="#424242">0.8</text>
<line x1="391.15" y1="622.50" x2="391.15" y2="624.40" stroke="#222222" stroke-width="0.7" />
<text x="391.15" y="630.55" font-size="4.5" text-anchor="middle" textLength="5.63" lengthAdjust="spacingAndGlyphs" fill="#424242">0.7</text>
<line x1="399.36" y1="622.50" x2="399.36" y2="624.40" stroke="#222222" stroke-width="0.7" />
<text x="399.36" y="630.55" font-size="4.5" text-anchor="middle" textLength="5.63" lengthAdjust="spacingAndGlyphs" fill="#424242">0.6</text>
<line x1="406.33" y1="622.50" x2="406.33" y2="624.40" stroke="#222222" stroke-width="0.7" />
<text x="406.33" y="630.55" font-size="4.5" text-anchor="middle" textLength="5.63" lengthAdjust="spacingAndGlyphs" fill="#424242">0.5</text>
<line x1="412.70" y1="622.50" x2="412.70" y2="624.40" stroke="#222222" stroke-width="0.7" />
<text x="412.70" y="630.55" font-size="4.5" text-anchor="middle" textLength="5.63" lengthAdjust="spacingAndGlyphs" fill="#424242">0.4</text>
<line x1="418.94" y1="622.50" x2="418.94" y2="624.40" stroke="#222222" stroke-width="0.7" />
<text x="418.94" y="630.55" font-size="4.5" text-anchor="middle" textLength="5.63" lengthAdjust="spacingAndGlyphs" fill="#424242">0.3</text>
<line x1="425.57" y1="622.50" x2="425.57" y2="624.40" stroke="#222222" stroke-width="0.7" />
<text x="425.57" y="630.55" font-size="4.5" text-anchor="middle" textLength="5.63" lengthAdjust="spacingAndGlyphs" fill="#424242">0.2</text>
<line x1="433.75" y1="622.50" x2="433.75" y2="624.40" stroke="#222222" stroke-width="0.7" />
<text x="433.75" y="630.55" font-size="4.5" text-anchor="middle" textLength="5.63" lengthAdjust="spacingAndGlyphs" fill="#424242">0.1</text>
<line x1="356.00" y1="632.00" x2="426.45" y2="632.00" stroke="#222222" stroke-width="1.0" />
<line x1="356.00" y1="632.00" x2="356.00" y2="633.90" stroke="#222222" stroke-width="0.7" />
<text x="356.00" y="640.15" font-size="4.5" text-anchor="middle" textLength="5.63" lengthAdjust="spacingAndGlyphs" fill="#424242">0.9</text>
<line x1="373.14" y1="632.00" x2="373.14" y2="633.90" stroke="#222222" stroke-width="0.7" />
<text x="373.14" y="640.15" font-size="4.5" text-anchor="middle" textLength="5.63" lengthAdjust="spacingAndGlyphs" fill="#424242">0.8</text>
<line x1="383.85" y1="632.00" x2="383.85" y2="633.90" stroke="#222222" stroke-width="0.7" />
<text x="383.85" y="640.15" font-size="4.5" text-anchor="middle" textLength="5.63" lengthAdjust="spacingAndGlyphs" fill="#424242">0.7</text>
<line x1="392.06" y1="632.00" x2="392.06" y2="633.90" stroke="#222222" stroke-width="0.7" />
<text x="392.06" y="640.15" font-size="4.5" text-anchor="middle" textLength="5.63" lengthAdjust="spacingAndGlyphs" fill="#424242">0.6</text>
<line x1="399.03" y1="632.00" x2="399.03" y2="633.90" stroke="#222222" stroke-width="0.7" />
<text x="399.03" y="640.15" font-size="4.5" text-anchor="middle" textLength="5.63" lengthAdjust="spacingAndGlyphs" fill="#424242">0.5</text>
<line x1="405.40" y1="632.00" x2="405.40" y2="633.90" stroke="#222222" stroke-width="0.7" />
<text x="405.40" y="640.15" font-size="4.5" text-anchor="middle" textLength="5.63" lengthAdjust="spacingAndGlyphs" fill="#424242">0.4</text>
<line x1="411.64" y1="632.00" x2="411.64" y2="633.90" stroke="#222222" stroke-width="0.7" />
<text x="411.64" y="640.15" font-size="4.5" text-anchor="middle" textLength="5.63" lengthAdjust="spacingAndGlyphs" fill="#424242">0.3</text>
<line x1="418.27" y1="632.00" x2="418.27" y2="633.90" stroke="#222222" stroke-width="0.7" />
<text x="418.27" y="640.15" font-size="4.5" text-anchor="middle" textLength="5.63" lengthAdjust="spacingAndGlyphs" fill="#424242">0.2</text>
<line x1="426.45" y1="632.00" x2="426.45" y2="633.90" stroke="#222222" stroke-width="0.7" />
<text x="426.45" y="640.15" font-size="4.5" text-anchor="middle" textLength="5.63" lengthAdjust="spacingAndGlyphs" fill="#424242">0.1</text>
<line x1="346.70" y1="641.30" x2="417.15" y2="641.30" stroke="#222222" stroke-width="1.0" />
<line x1="346.70" y1="641.30" x2="346.70" y2="643.20" stroke="#222222" stroke-width="0.7" />
<text x="346.70" y="649.85" font-size="4.5" text-anchor="middle" textLength="5.63" lengthAdjust="spacingAndGlyphs" fill="#424242">0.9</text>
<line x1="363.84" y1="641.30" x2="363.84" y2="643.20" stroke="#222222" stroke-width="0.7" />
<text x="363.84" y="649.85" font-size="4.5" text-anchor="middle" textLength="5.63" lengthAdjust="spacingAndGlyphs" fill="#424242">0.8</text>
<line x1="374.55" y1="641.30" x2="374.55" y2="643.20" stroke="#222222" stroke-width="0.7" />
<text x="374.55" y="649.85" font-size="4.5" text-anchor="middle" textLength="5.63" lengthAdjust="spacingAndGlyphs" fill="#424242">0.7</text>
<line x1="382.76" y1="641.30" x2="382.76" y2="643.20" stroke="#222222" stroke-width="0.7" />
<text x="382.76" y="649.85" font-size="4.5" text-anchor="middle" textLength="5.63" lengthAdjust="spacingAndGlyphs" fill="#424242">0.6</text>
<line x1="389.73" y1="641.30" x2="389.73" y2="643.20" stroke="#222222" stroke-width="0.7" />
<text x="389.73" y="649.85" font-size="4.5" text-anchor="middle" textLength="5.63" lengthAdjust="spacingAndGlyphs" fill="#424242">0.5</text>
<line x1="396.10" y1="641.30" x2="396.10" y2="643.20" stroke="#222222" stroke-width="0.7" />
<text x="396.10" y="649.85" font-size="4.5" text-anchor="middle" textLength="5.63" lengthAdjust="spacingAndGlyphs" fill="#424242">0.4</text>
<line x1="402.34" y1="641.30" x2="402.34" y2="643.20" stroke="#222222" stroke-width="0.7" />
<text x="402.34" y="649.85" font-size="4.5" text-anchor="middle" textLength="5.63" lengthAdjust="spacingAndGlyphs" fill="#424242">0.3</text>
<line x1="408.97" y1="641.30" x2="408.97" y2="643.20" stroke="#222222" stroke-width="0.7" />
<text x="408.97" y="649.85" font-size="4.5" text-anchor="middle" textLength="5.63" lengthAdjust="spacingAndGlyphs" fill="#424242">0.2</text>
<line x1="417.15" y1="641.30" x2="417.15" y2="643.20" stroke="#222222" stroke-width="0.7" />
<text x="417.15" y="649.85" font-size="4.5" text-anchor="middle" textLength="5.63" lengthAdjust="spacingAndGlyphs" fill="#424242">0.1</text>
<rect x="0.5" y="0.5" width="519" height="656" fill="none" stroke="#4d4d4d" stroke-width="1.2"/>
</svg>
</body></html>
